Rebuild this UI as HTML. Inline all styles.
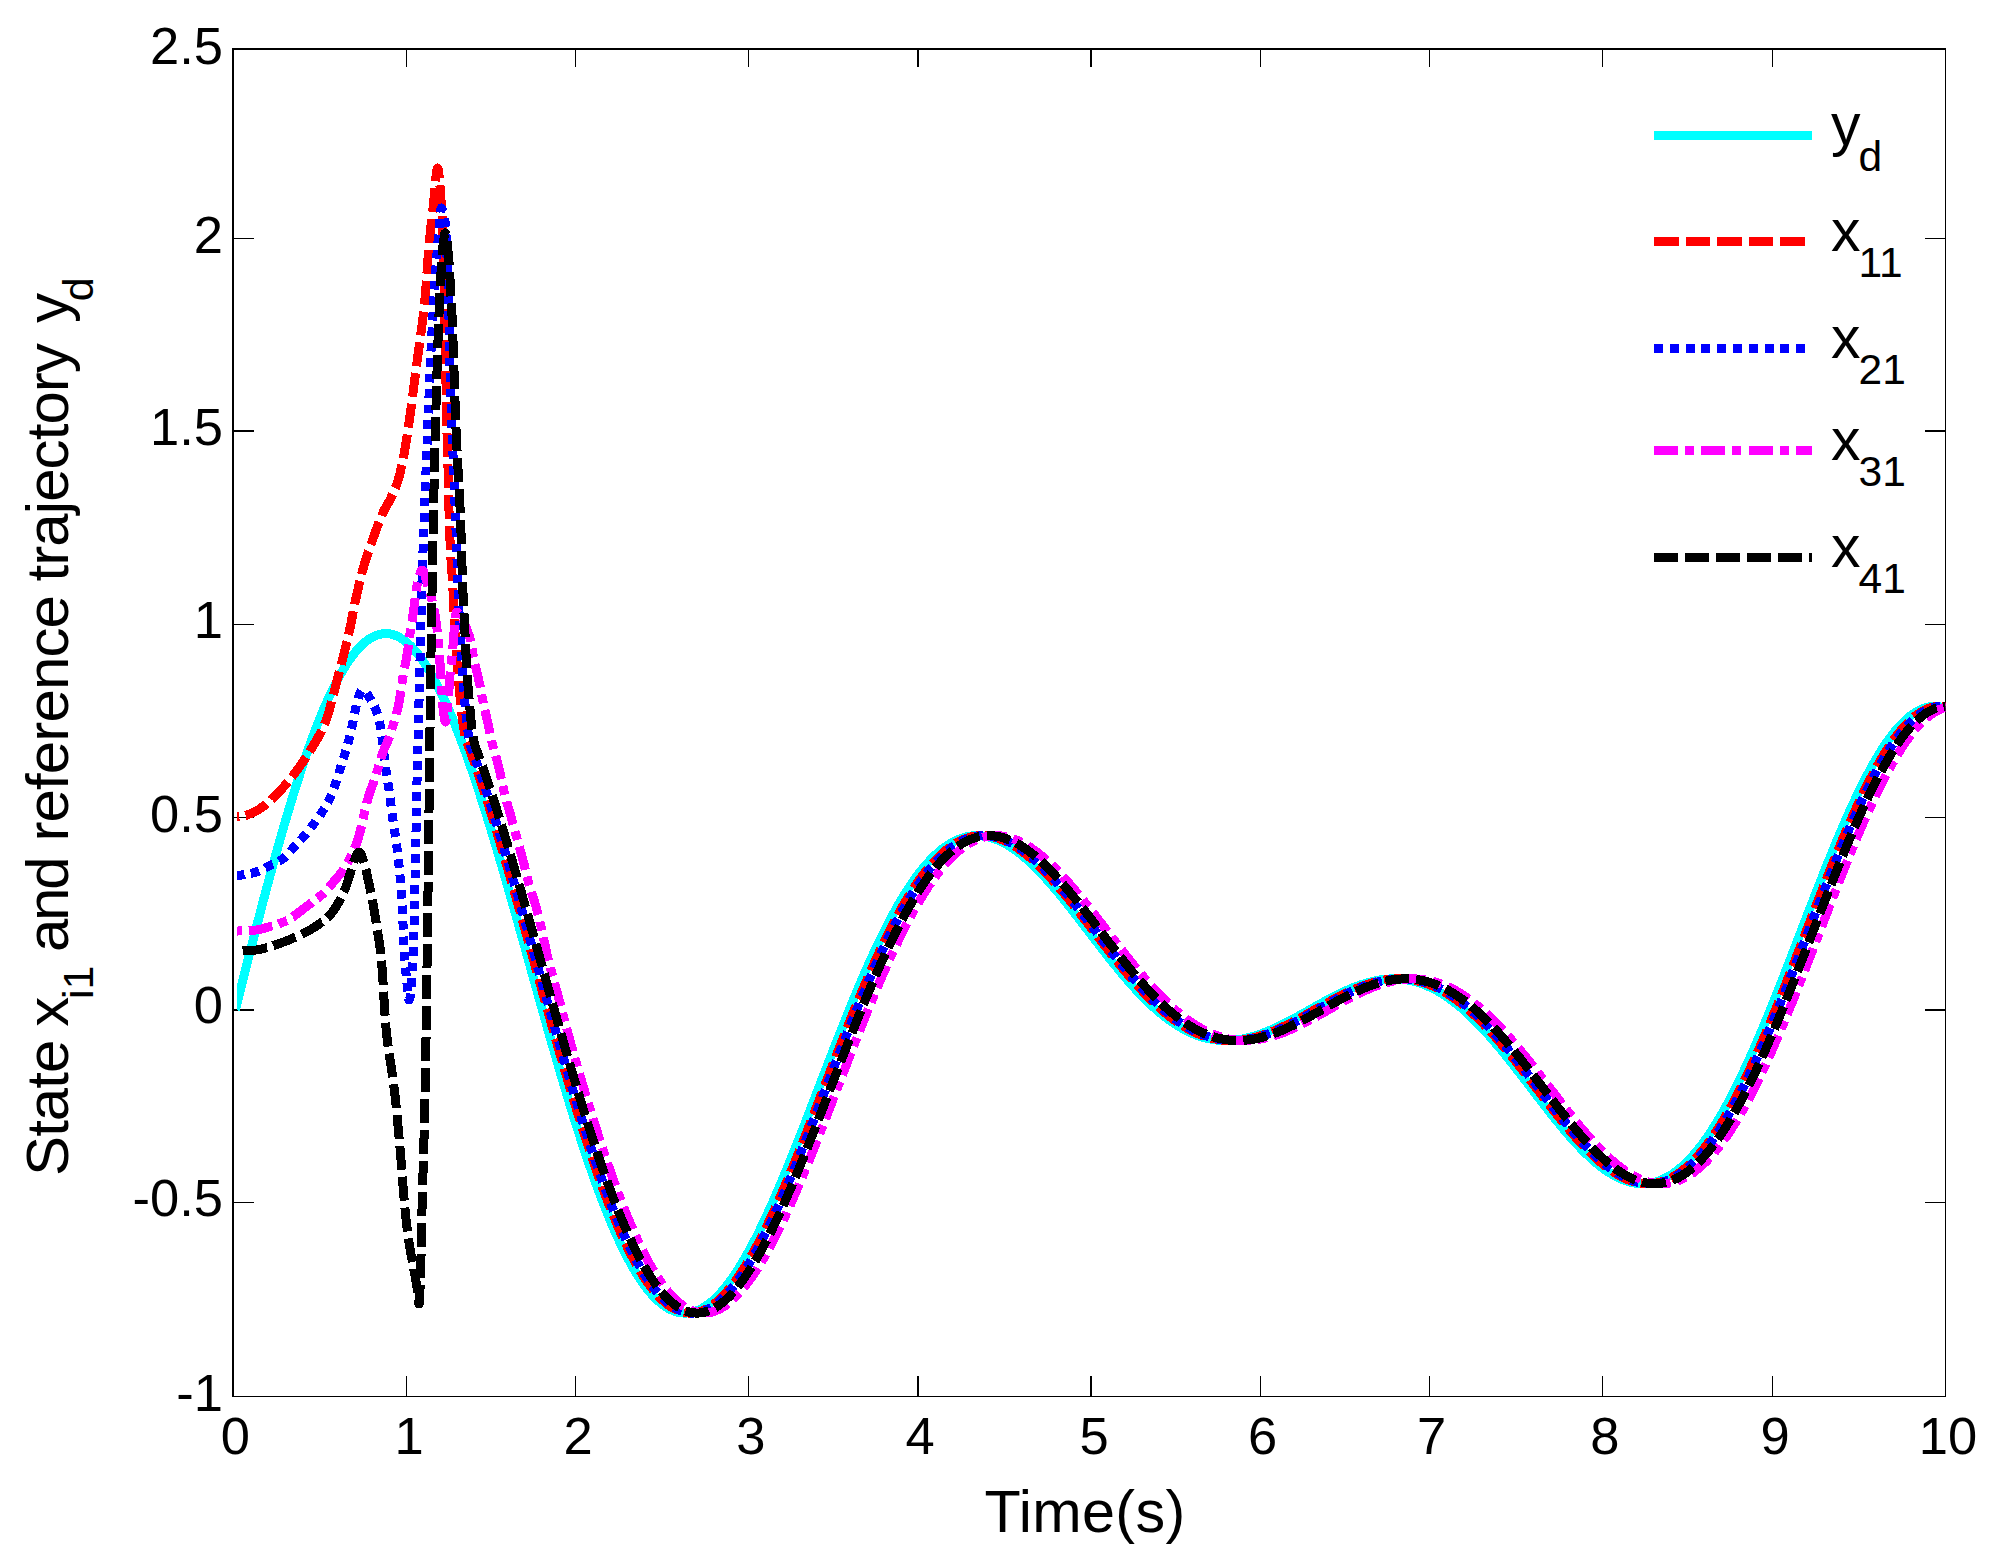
<!DOCTYPE html>
<html><head><meta charset="utf-8"><title>Tracking</title>
<style>html,body{margin:0;padding:0;background:#fff}svg{display:block}</style>
</head><body>
<svg width="1997" height="1558" viewBox="0 0 1997 1558">
<rect width="1997" height="1558" fill="#fff"/>
<defs><clipPath id="clip"><rect x="237" y="40" width="1708.5" height="1370"/></clipPath></defs>
<g fill="#000" shape-rendering="crispEdges">
<rect x="232" y="48" width="2" height="1349"/>
<rect x="232" y="48" width="1714" height="2"/>
<rect x="1945" y="48" width="1" height="1349"/>
<rect x="232" y="1396" width="1714" height="1"/>
<rect x="406" y="1376" width="1" height="20"/>
<rect x="406" y="50" width="1" height="17"/>
<rect x="575" y="1376" width="1" height="20"/>
<rect x="575" y="50" width="1" height="17"/>
<rect x="748" y="1376" width="1" height="20"/>
<rect x="748" y="50" width="1" height="17"/>
<rect x="917" y="1376" width="2" height="20"/>
<rect x="917" y="50" width="2" height="17"/>
<rect x="1090" y="1376" width="2" height="20"/>
<rect x="1090" y="50" width="2" height="17"/>
<rect x="1260" y="1376" width="1" height="20"/>
<rect x="1260" y="50" width="1" height="17"/>
<rect x="1429" y="1376" width="1" height="20"/>
<rect x="1429" y="50" width="1" height="17"/>
<rect x="1602" y="1376" width="1" height="20"/>
<rect x="1602" y="50" width="1" height="17"/>
<rect x="1772" y="1376" width="1" height="20"/>
<rect x="1772" y="50" width="1" height="17"/>
<rect x="234" y="238" width="20" height="1"/>
<rect x="1925" y="238" width="20" height="1"/>
<rect x="234" y="430" width="20" height="2"/>
<rect x="1925" y="430" width="20" height="2"/>
<rect x="234" y="624" width="20" height="1"/>
<rect x="1925" y="624" width="20" height="1"/>
<rect x="234" y="817" width="20" height="1"/>
<rect x="1925" y="817" width="20" height="1"/>
<rect x="234" y="1009" width="20" height="2"/>
<rect x="1925" y="1009" width="20" height="2"/>
<rect x="234" y="1202" width="20" height="1"/>
<rect x="1925" y="1202" width="20" height="1"/>
</g>
<g fill="none" stroke-width="9" stroke-linejoin="round" shape-rendering="crispEdges" clip-path="url(#clip)">
<path stroke="#00ffff" d="M235.3 1009.7 L236.3 1005.8 L237.3 1001.8 L238.3 997.9 L239.3 993.9 L240.3 990.0 L241.3 986.0 L242.3 982.1 L243.3 978.2 L244.3 974.2 L245.3 970.3 L246.3 966.4 L247.3 962.5 L248.3 958.6 L249.3 954.7 L250.3 950.8 L251.3 946.9 L252.3 943.0 L253.3 939.1 L254.3 935.2 L255.3 931.4 L256.3 927.5 L257.3 923.7 L258.3 919.8 L259.3 916.0 L260.3 912.2 L261.3 908.4 L262.3 904.6 L263.3 900.8 L264.3 897.0 L265.3 893.3 L266.3 889.5 L267.3 885.8 L268.3 882.1 L269.3 878.4 L270.3 874.7 L271.3 871.0 L272.3 867.4 L273.3 863.7 L274.3 860.1 L275.3 856.5 L276.3 852.9 L277.3 849.3 L278.3 845.8 L279.3 842.2 L280.3 838.7 L281.3 835.2 L282.3 831.7 L283.3 828.3 L284.3 824.8 L285.3 821.4 L286.3 818.0 L287.3 814.6 L288.3 811.3 L289.3 807.9 L290.3 804.6 L291.3 801.3 L292.3 798.1 L293.3 794.8 L294.3 791.6 L295.3 788.4 L296.3 785.2 L297.3 782.1 L298.3 779.0 L299.3 775.9 L300.3 772.8 L301.3 769.8 L302.3 766.7 L303.3 763.7 L304.3 760.8 L305.3 757.8 L306.3 754.9 L307.3 752.1 L308.3 749.2 L309.3 746.4 L310.3 743.6 L311.3 740.8 L312.3 738.1 L313.3 735.4 L314.3 732.7 L315.3 730.1 L316.3 727.4 L317.3 724.9 L318.3 722.3 L319.3 719.8 L320.3 717.3 L321.3 714.8 L322.3 712.4 L323.3 710.0 L324.3 707.7 L325.3 705.3 L326.3 703.1 L327.3 700.8 L328.3 698.6 L329.3 696.4 L330.3 694.2 L331.3 692.1 L332.3 690.0 L333.3 688.0 L334.3 686.0 L335.3 684.0 L336.3 682.0 L337.3 680.1 L338.3 678.3 L339.3 676.4 L340.3 674.6 L341.3 672.9 L342.3 671.1 L343.3 669.4 L344.3 667.8 L345.3 666.2 L346.3 664.6 L347.3 663.1 L348.3 661.6 L349.3 660.1 L350.3 658.7 L351.3 657.3 L352.3 655.9 L353.3 654.6 L354.3 653.4 L355.3 652.1 L356.3 650.9 L357.3 649.8 L358.3 648.7 L359.3 647.6 L360.3 646.5 L361.3 645.5 L362.3 644.6 L363.3 643.7 L364.3 642.8 L365.3 641.9 L366.3 641.1 L367.3 640.4 L368.3 639.7 L369.3 639.0 L370.3 638.3 L371.3 637.7 L372.3 637.2 L373.3 636.7 L374.3 636.2 L375.3 635.7 L376.3 635.3 L377.3 635.0 L378.3 634.7 L379.3 634.4 L380.3 634.2 L381.3 634.0 L382.3 633.8 L383.3 633.7 L384.3 633.6 L385.3 633.6 L386.3 633.6 L387.3 633.6 L388.3 633.7 L389.3 633.8 L390.3 634.0 L391.3 634.2 L392.3 634.5 L393.3 634.7 L394.3 635.1 L395.3 635.4 L396.3 635.8 L397.3 636.3 L398.3 636.8 L399.3 637.3 L400.3 637.8 L401.3 638.5 L402.3 639.1 L403.3 639.8 L404.3 640.5 L405.3 641.3 L406.3 642.1 L407.3 642.9 L408.3 643.8 L409.3 644.7 L410.3 645.6 L411.3 646.6 L412.3 647.7 L413.3 648.7 L414.3 649.8 L415.3 651.0 L416.3 652.2 L417.3 653.4 L418.3 654.6 L419.3 655.9 L420.3 657.2 L421.3 658.6 L422.3 660.0 L423.3 661.4 L424.3 662.9 L425.3 664.4 L426.3 666.0 L427.3 667.6 L428.3 669.2 L429.3 670.8 L430.3 672.5 L431.3 674.2 L432.3 676.0 L433.3 677.8 L434.3 679.6 L435.3 681.5 L436.3 683.4 L437.3 685.3 L438.3 687.2 L439.3 689.2 L440.3 691.3 L441.3 693.3 L442.3 695.4 L443.3 697.5 L444.3 699.7 L445.3 701.9 L446.3 704.1 L447.3 706.3 L448.3 708.6 L449.3 710.9 L450.3 713.2 L451.3 715.6 L452.3 718.0 L453.3 720.4 L454.3 722.9 L455.3 725.3 L456.3 727.8 L457.3 730.4 L458.3 732.9 L459.3 735.5 L460.3 738.1 L461.3 740.8 L462.3 743.5 L463.3 746.2 L464.3 748.9 L465.3 751.6 L466.3 754.4 L467.3 757.2 L468.3 760.0 L469.3 762.9 L470.3 765.7 L471.3 768.6 L472.3 771.5 L473.3 774.5 L474.3 777.4 L475.3 780.4 L476.3 783.4 L477.3 786.4 L478.3 789.5 L479.3 792.5 L480.3 795.6 L481.3 798.7 L482.3 801.8 L483.3 805.0 L484.3 808.1 L485.3 811.3 L486.3 814.5 L487.3 817.7 L488.3 820.9 L489.3 824.2 L490.3 827.5 L491.3 830.7 L492.3 834.0 L493.3 837.3 L494.3 840.7 L495.3 844.0 L496.3 847.4 L497.3 850.7 L498.3 854.1 L499.3 857.5 L500.3 860.9 L501.3 864.3 L502.3 867.7 L503.3 871.2 L504.3 874.6 L505.3 878.1 L506.3 881.5 L507.3 885.0 L508.3 888.5 L509.3 892.0 L510.3 895.5 L511.3 899.0 L512.3 902.6 L513.3 906.1 L514.3 909.6 L515.3 913.2 L516.3 916.7 L517.3 920.3 L518.3 923.8 L519.3 927.4 L520.3 930.9 L521.3 934.5 L522.3 938.1 L523.3 941.7 L524.3 945.2 L525.3 948.8 L526.3 952.4 L527.3 956.0 L528.3 959.6 L529.3 963.2 L530.3 966.7 L531.3 970.3 L532.3 973.9 L533.3 977.5 L534.3 981.1 L535.3 984.7 L536.3 988.2 L537.3 991.8 L538.3 995.4 L539.3 999.0 L540.3 1002.5 L541.3 1006.1 L542.3 1009.6 L543.3 1013.2 L544.3 1016.7 L545.3 1020.3 L546.3 1023.8 L547.3 1027.4 L548.3 1030.9 L549.3 1034.4 L550.3 1037.9 L551.3 1041.4 L552.3 1044.9 L553.3 1048.4 L554.3 1051.8 L555.3 1055.3 L556.3 1058.8 L557.3 1062.2 L558.3 1065.6 L559.3 1069.0 L560.3 1072.5 L561.3 1075.8 L562.3 1079.2 L563.3 1082.6 L564.3 1086.0 L565.3 1089.3 L566.3 1092.6 L567.3 1096.0 L568.3 1099.3 L569.3 1102.5 L570.3 1105.8 L571.3 1109.1 L572.3 1112.3 L573.3 1115.5 L574.3 1118.8 L575.3 1121.9 L576.3 1125.1 L577.3 1128.3 L578.3 1131.4 L579.3 1134.5 L580.3 1137.6 L581.3 1140.7 L582.3 1143.8 L583.3 1146.8 L584.3 1149.9 L585.3 1152.9 L586.3 1155.9 L587.3 1158.8 L588.3 1161.8 L589.3 1164.7 L590.3 1167.6 L591.3 1170.5 L592.3 1173.3 L593.3 1176.2 L594.3 1179.0 L595.3 1181.8 L596.3 1184.5 L597.3 1187.3 L598.3 1190.0 L599.3 1192.7 L600.3 1195.3 L601.3 1198.0 L602.3 1200.6 L603.3 1203.2 L604.3 1205.8 L605.3 1208.3 L606.3 1210.8 L607.3 1213.3 L608.3 1215.8 L609.3 1218.2 L610.3 1220.6 L611.3 1223.0 L612.3 1225.4 L613.3 1227.7 L614.3 1230.0 L615.3 1232.3 L616.3 1234.5 L617.3 1236.7 L618.3 1238.9 L619.3 1241.1 L620.3 1243.2 L621.3 1245.3 L622.3 1247.4 L623.3 1249.4 L624.3 1251.4 L625.3 1253.4 L626.3 1255.3 L627.3 1257.3 L628.3 1259.2 L629.3 1261.0 L630.3 1262.8 L631.3 1264.6 L632.3 1266.4 L633.3 1268.1 L634.3 1269.9 L635.3 1271.5 L636.3 1273.2 L637.3 1274.8 L638.3 1276.3 L639.3 1277.9 L640.3 1279.4 L641.3 1280.9 L642.3 1282.3 L643.3 1283.8 L644.3 1285.1 L645.3 1286.5 L646.3 1287.8 L647.3 1289.1 L648.3 1290.3 L649.3 1291.6 L650.3 1292.7 L651.3 1293.9 L652.3 1295.0 L653.3 1296.1 L654.3 1297.2 L655.3 1298.2 L656.3 1299.2 L657.3 1300.1 L658.3 1301.0 L659.3 1301.9 L660.3 1302.8 L661.3 1303.6 L662.3 1304.4 L663.3 1305.1 L664.3 1305.8 L665.3 1306.5 L666.3 1307.2 L667.3 1307.8 L668.3 1308.4 L669.3 1308.9 L670.3 1309.4 L671.3 1309.9 L672.3 1310.3 L673.3 1310.7 L674.3 1311.1 L675.3 1311.5 L676.3 1311.8 L677.3 1312.1 L678.3 1312.3 L679.3 1312.5 L680.3 1312.7 L681.3 1312.8 L682.3 1312.9 L683.3 1313.0 L684.3 1313.1 L685.3 1313.1 L686.3 1313.0 L687.3 1313.0 L688.3 1312.9 L689.3 1312.8 L690.3 1312.6 L691.3 1312.4 L692.3 1312.2 L693.3 1312.0 L694.3 1311.7 L695.3 1311.4 L696.3 1311.0 L697.3 1310.6 L698.3 1310.2 L699.3 1309.8 L700.3 1309.3 L701.3 1308.8 L702.3 1308.2 L703.3 1307.7 L704.3 1307.0 L705.3 1306.4 L706.3 1305.7 L707.3 1305.0 L708.3 1304.3 L709.3 1303.6 L710.3 1302.8 L711.3 1302.0 L712.3 1301.1 L713.3 1300.2 L714.3 1299.3 L715.3 1298.4 L716.3 1297.4 L717.3 1296.4 L718.3 1295.4 L719.3 1294.3 L720.3 1293.2 L721.3 1292.1 L722.3 1291.0 L723.3 1289.8 L724.3 1288.6 L725.3 1287.4 L726.3 1286.2 L727.3 1284.9 L728.3 1283.6 L729.3 1282.2 L730.3 1280.9 L731.3 1279.5 L732.3 1278.1 L733.3 1276.6 L734.3 1275.2 L735.3 1273.7 L736.3 1272.2 L737.3 1270.6 L738.3 1269.1 L739.3 1267.5 L740.3 1265.9 L741.3 1264.2 L742.3 1262.6 L743.3 1260.9 L744.3 1259.2 L745.3 1257.5 L746.3 1255.7 L747.3 1253.9 L748.3 1252.1 L749.3 1250.3 L750.3 1248.5 L751.3 1246.6 L752.3 1244.7 L753.3 1242.8 L754.3 1240.9 L755.3 1239.0 L756.3 1237.0 L757.3 1235.0 L758.3 1233.0 L759.3 1231.0 L760.3 1229.0 L761.3 1226.9 L762.3 1224.8 L763.3 1222.7 L764.3 1220.6 L765.3 1218.5 L766.3 1216.3 L767.3 1214.2 L768.3 1212.0 L769.3 1209.8 L770.3 1207.6 L771.3 1205.4 L772.3 1203.1 L773.3 1200.9 L774.3 1198.6 L775.3 1196.3 L776.3 1194.0 L777.3 1191.7 L778.3 1189.4 L779.3 1187.0 L780.3 1184.7 L781.3 1182.3 L782.3 1179.9 L783.3 1177.5 L784.3 1175.1 L785.3 1172.7 L786.3 1170.3 L787.3 1167.9 L788.3 1165.4 L789.3 1163.0 L790.3 1160.5 L791.3 1158.0 L792.3 1155.5 L793.3 1153.1 L794.3 1150.6 L795.3 1148.0 L796.3 1145.5 L797.3 1143.0 L798.3 1140.5 L799.3 1137.9 L800.3 1135.4 L801.3 1132.9 L802.3 1130.3 L803.3 1127.7 L804.3 1125.2 L805.3 1122.6 L806.3 1120.0 L807.3 1117.5 L808.3 1114.9 L809.3 1112.3 L810.3 1109.7 L811.3 1107.1 L812.3 1104.5 L813.3 1101.9 L814.3 1099.3 L815.3 1096.7 L816.3 1094.1 L817.3 1091.5 L818.3 1088.9 L819.3 1086.3 L820.3 1083.7 L821.3 1081.1 L822.3 1078.6 L823.3 1076.0 L824.3 1073.4 L825.3 1070.8 L826.3 1068.2 L827.3 1065.6 L828.3 1063.0 L829.3 1060.4 L830.3 1057.8 L831.3 1055.2 L832.3 1052.7 L833.3 1050.1 L834.3 1047.5 L835.3 1045.0 L836.3 1042.4 L837.3 1039.9 L838.3 1037.3 L839.3 1034.8 L840.3 1032.2 L841.3 1029.7 L842.3 1027.2 L843.3 1024.7 L844.3 1022.2 L845.3 1019.7 L846.3 1017.2 L847.3 1014.7 L848.3 1012.2 L849.3 1009.8 L850.3 1007.3 L851.3 1004.9 L852.3 1002.4 L853.3 1000.0 L854.3 997.6 L855.3 995.2 L856.3 992.8 L857.3 990.4 L858.3 988.0 L859.3 985.7 L860.3 983.3 L861.3 981.0 L862.3 978.6 L863.3 976.3 L864.3 974.0 L865.3 971.7 L866.3 969.5 L867.3 967.2 L868.3 965.0 L869.3 962.7 L870.3 960.5 L871.3 958.3 L872.3 956.1 L873.3 953.9 L874.3 951.8 L875.3 949.6 L876.3 947.5 L877.3 945.4 L878.3 943.3 L879.3 941.2 L880.3 939.1 L881.3 937.1 L882.3 935.0 L883.3 933.0 L884.3 931.0 L885.3 929.0 L886.3 927.0 L887.3 925.1 L888.3 923.2 L889.3 921.2 L890.3 919.4 L891.3 917.5 L892.3 915.6 L893.3 913.8 L894.3 912.0 L895.3 910.2 L896.3 908.4 L897.3 906.6 L898.3 904.9 L899.3 903.1 L900.3 901.4 L901.3 899.7 L902.3 898.1 L903.3 896.4 L904.3 894.8 L905.3 893.2 L906.3 891.6 L907.3 890.0 L908.3 888.5 L909.3 887.0 L910.3 885.5 L911.3 884.0 L912.3 882.5 L913.3 881.1 L914.3 879.7 L915.3 878.3 L916.3 876.9 L917.3 875.6 L918.3 874.2 L919.3 872.9 L920.3 871.6 L921.3 870.4 L922.3 869.1 L923.3 867.9 L924.3 866.7 L925.3 865.5 L926.3 864.4 L927.3 863.3 L928.3 862.1 L929.3 861.1 L930.3 860.0 L931.3 859.0 L932.3 857.9 L933.3 856.9 L934.3 856.0 L935.3 855.0 L936.3 854.1 L937.3 853.2 L938.3 852.3 L939.3 851.5 L940.3 850.6 L941.3 849.8 L942.3 849.0 L943.3 848.2 L944.3 847.5 L945.3 846.8 L946.3 846.1 L947.3 845.4 L948.3 844.8 L949.3 844.1 L950.3 843.5 L951.3 842.9 L952.3 842.4 L953.3 841.8 L954.3 841.3 L955.3 840.8 L956.3 840.4 L957.3 839.9 L958.3 839.5 L959.3 839.1 L960.3 838.7 L961.3 838.4 L962.3 838.0 L963.3 837.7 L964.3 837.4 L965.3 837.2 L966.3 836.9 L967.3 836.7 L968.3 836.5 L969.3 836.3 L970.3 836.1 L971.3 836.0 L972.3 835.9 L973.3 835.8 L974.3 835.7 L975.3 835.7 L976.3 835.7 L977.3 835.7 L978.3 835.7 L979.3 835.7 L980.3 835.8 L981.3 835.9 L982.3 836.0 L983.3 836.1 L984.3 836.2 L985.3 836.4 L986.3 836.6 L987.3 836.8 L988.3 837.0 L989.3 837.2 L990.3 837.5 L991.3 837.8 L992.3 838.1 L993.3 838.4 L994.3 838.7 L995.3 839.1 L996.3 839.5 L997.3 839.9 L998.3 840.3 L999.3 840.7 L1000.3 841.2 L1001.3 841.6 L1002.3 842.1 L1003.3 842.6 L1004.3 843.2 L1005.3 843.7 L1006.3 844.3 L1007.3 844.8 L1008.3 845.4 L1009.3 846.0 L1010.3 846.7 L1011.3 847.3 L1012.3 848.0 L1013.3 848.7 L1014.3 849.3 L1015.3 850.1 L1016.3 850.8 L1017.3 851.5 L1018.3 852.3 L1019.3 853.1 L1020.3 853.8 L1021.3 854.6 L1022.3 855.5 L1023.3 856.3 L1024.3 857.1 L1025.3 858.0 L1026.3 858.9 L1027.3 859.7 L1028.3 860.6 L1029.3 861.6 L1030.3 862.5 L1031.3 863.4 L1032.3 864.4 L1033.3 865.3 L1034.3 866.3 L1035.3 867.3 L1036.3 868.3 L1037.3 869.3 L1038.3 870.3 L1039.3 871.4 L1040.3 872.4 L1041.3 873.5 L1042.3 874.5 L1043.3 875.6 L1044.3 876.7 L1045.3 877.8 L1046.3 878.9 L1047.3 880.0 L1048.3 881.1 L1049.3 882.3 L1050.3 883.4 L1051.3 884.5 L1052.3 885.7 L1053.3 886.9 L1054.3 888.0 L1055.3 889.2 L1056.3 890.4 L1057.3 891.6 L1058.3 892.8 L1059.3 894.0 L1060.3 895.2 L1061.3 896.5 L1062.3 897.7 L1063.3 898.9 L1064.3 900.2 L1065.3 901.4 L1066.3 902.7 L1067.3 903.9 L1068.3 905.2 L1069.3 906.4 L1070.3 907.7 L1071.3 909.0 L1072.3 910.3 L1073.3 911.5 L1074.3 912.8 L1075.3 914.1 L1076.3 915.4 L1077.3 916.7 L1078.3 918.0 L1079.3 919.3 L1080.3 920.6 L1081.3 921.9 L1082.3 923.2 L1083.3 924.5 L1084.3 925.8 L1085.3 927.1 L1086.3 928.4 L1087.3 929.7 L1088.3 931.0 L1089.3 932.3 L1090.3 933.6 L1091.3 934.9 L1092.3 936.2 L1093.3 937.5 L1094.3 938.8 L1095.3 940.1 L1096.3 941.4 L1097.3 942.7 L1098.3 944.0 L1099.3 945.3 L1100.3 946.6 L1101.3 947.9 L1102.3 949.2 L1103.3 950.5 L1104.3 951.8 L1105.3 953.0 L1106.3 954.3 L1107.3 955.6 L1108.3 956.8 L1109.3 958.1 L1110.3 959.4 L1111.3 960.6 L1112.3 961.9 L1113.3 963.1 L1114.3 964.4 L1115.3 965.6 L1116.3 966.8 L1117.3 968.0 L1118.3 969.3 L1119.3 970.5 L1120.3 971.7 L1121.3 972.9 L1122.3 974.1 L1123.3 975.2 L1124.3 976.4 L1125.3 977.6 L1126.3 978.8 L1127.3 979.9 L1128.3 981.1 L1129.3 982.2 L1130.3 983.4 L1131.3 984.5 L1132.3 985.6 L1133.3 986.7 L1134.3 987.8 L1135.3 988.9 L1136.3 990.0 L1137.3 991.1 L1138.3 992.1 L1139.3 993.2 L1140.3 994.2 L1141.3 995.3 L1142.3 996.3 L1143.3 997.3 L1144.3 998.3 L1145.3 999.3 L1146.3 1000.3 L1147.3 1001.3 L1148.3 1002.3 L1149.3 1003.2 L1150.3 1004.2 L1151.3 1005.1 L1152.3 1006.1 L1153.3 1007.0 L1154.3 1007.9 L1155.3 1008.8 L1156.3 1009.7 L1157.3 1010.5 L1158.3 1011.4 L1159.3 1012.2 L1160.3 1013.1 L1161.3 1013.9 L1162.3 1014.7 L1163.3 1015.5 L1164.3 1016.3 L1165.3 1017.1 L1166.3 1017.9 L1167.3 1018.6 L1168.3 1019.4 L1169.3 1020.1 L1170.3 1020.8 L1171.3 1021.5 L1172.3 1022.2 L1173.3 1022.9 L1174.3 1023.6 L1175.3 1024.2 L1176.3 1024.9 L1177.3 1025.5 L1178.3 1026.1 L1179.3 1026.7 L1180.3 1027.3 L1181.3 1027.9 L1182.3 1028.5 L1183.3 1029.0 L1184.3 1029.6 L1185.3 1030.1 L1186.3 1030.6 L1187.3 1031.1 L1188.3 1031.6 L1189.3 1032.1 L1190.3 1032.5 L1191.3 1033.0 L1192.3 1033.4 L1193.3 1033.8 L1194.3 1034.2 L1195.3 1034.6 L1196.3 1035.0 L1197.3 1035.4 L1198.3 1035.8 L1199.3 1036.1 L1200.3 1036.4 L1201.3 1036.8 L1202.3 1037.1 L1203.3 1037.3 L1204.3 1037.6 L1205.3 1037.9 L1206.3 1038.1 L1207.3 1038.4 L1208.3 1038.6 L1209.3 1038.8 L1210.3 1039.0 L1211.3 1039.2 L1212.3 1039.4 L1213.3 1039.6 L1214.3 1039.7 L1215.3 1039.8 L1216.3 1040.0 L1217.3 1040.1 L1218.3 1040.2 L1219.3 1040.3 L1220.3 1040.3 L1221.3 1040.4 L1222.3 1040.5 L1223.3 1040.5 L1224.3 1040.5 L1225.3 1040.5 L1226.3 1040.5 L1227.3 1040.5 L1228.3 1040.5 L1229.3 1040.5 L1230.3 1040.4 L1231.3 1040.4 L1232.3 1040.3 L1233.3 1040.2 L1234.3 1040.1 L1235.3 1040.0 L1236.3 1039.9 L1237.3 1039.8 L1238.3 1039.6 L1239.3 1039.5 L1240.3 1039.3 L1241.3 1039.2 L1242.3 1039.0 L1243.3 1038.8 L1244.3 1038.6 L1245.3 1038.4 L1246.3 1038.2 L1247.3 1037.9 L1248.3 1037.7 L1249.3 1037.5 L1250.3 1037.2 L1251.3 1036.9 L1252.3 1036.6 L1253.3 1036.4 L1254.3 1036.1 L1255.3 1035.8 L1256.3 1035.4 L1257.3 1035.1 L1258.3 1034.8 L1259.3 1034.4 L1260.3 1034.1 L1261.3 1033.7 L1262.3 1033.4 L1263.3 1033.0 L1264.3 1032.6 L1265.3 1032.2 L1266.3 1031.8 L1267.3 1031.4 L1268.3 1031.0 L1269.3 1030.6 L1270.3 1030.2 L1271.3 1029.8 L1272.3 1029.3 L1273.3 1028.9 L1274.3 1028.4 L1275.3 1028.0 L1276.3 1027.5 L1277.3 1027.0 L1278.3 1026.6 L1279.3 1026.1 L1280.3 1025.6 L1281.3 1025.1 L1282.3 1024.6 L1283.3 1024.1 L1284.3 1023.6 L1285.3 1023.1 L1286.3 1022.6 L1287.3 1022.1 L1288.3 1021.6 L1289.3 1021.0 L1290.3 1020.5 L1291.3 1020.0 L1292.3 1019.4 L1293.3 1018.9 L1294.3 1018.4 L1295.3 1017.8 L1296.3 1017.3 L1297.3 1016.7 L1298.3 1016.2 L1299.3 1015.6 L1300.3 1015.1 L1301.3 1014.5 L1302.3 1013.9 L1303.3 1013.4 L1304.3 1012.8 L1305.3 1012.3 L1306.3 1011.7 L1307.3 1011.1 L1308.3 1010.6 L1309.3 1010.0 L1310.3 1009.4 L1311.3 1008.9 L1312.3 1008.3 L1313.3 1007.8 L1314.3 1007.2 L1315.3 1006.6 L1316.3 1006.1 L1317.3 1005.5 L1318.3 1005.0 L1319.3 1004.4 L1320.3 1003.8 L1321.3 1003.3 L1322.3 1002.7 L1323.3 1002.2 L1324.3 1001.6 L1325.3 1001.1 L1326.3 1000.6 L1327.3 1000.0 L1328.3 999.5 L1329.3 999.0 L1330.3 998.4 L1331.3 997.9 L1332.3 997.4 L1333.3 996.9 L1334.3 996.4 L1335.3 995.8 L1336.3 995.3 L1337.3 994.8 L1338.3 994.3 L1339.3 993.9 L1340.3 993.4 L1341.3 992.9 L1342.3 992.4 L1343.3 991.9 L1344.3 991.5 L1345.3 991.0 L1346.3 990.6 L1347.3 990.1 L1348.3 989.7 L1349.3 989.3 L1350.3 988.8 L1351.3 988.4 L1352.3 988.0 L1353.3 987.6 L1354.3 987.2 L1355.3 986.8 L1356.3 986.4 L1357.3 986.1 L1358.3 985.7 L1359.3 985.3 L1360.3 985.0 L1361.3 984.6 L1362.3 984.3 L1363.3 984.0 L1364.3 983.7 L1365.3 983.4 L1366.3 983.1 L1367.3 982.8 L1368.3 982.5 L1369.3 982.2 L1370.3 982.0 L1371.3 981.7 L1372.3 981.5 L1373.3 981.3 L1374.3 981.0 L1375.3 980.8 L1376.3 980.6 L1377.3 980.4 L1378.3 980.2 L1379.3 980.1 L1380.3 979.9 L1381.3 979.8 L1382.3 979.6 L1383.3 979.5 L1384.3 979.4 L1385.3 979.3 L1386.3 979.2 L1387.3 979.1 L1388.3 979.0 L1389.3 979.0 L1390.3 978.9 L1391.3 978.9 L1392.3 978.9 L1393.3 978.9 L1394.3 978.9 L1395.3 978.9 L1396.3 978.9 L1397.3 978.9 L1398.3 979.0 L1399.3 979.1 L1400.3 979.1 L1401.3 979.2 L1402.3 979.3 L1403.3 979.4 L1404.3 979.5 L1405.3 979.7 L1406.3 979.8 L1407.3 980.0 L1408.3 980.2 L1409.3 980.4 L1410.3 980.6 L1411.3 980.8 L1412.3 981.0 L1413.3 981.2 L1414.3 981.5 L1415.3 981.7 L1416.3 982.0 L1417.3 982.3 L1418.3 982.6 L1419.3 982.9 L1420.3 983.3 L1421.3 983.6 L1422.3 984.0 L1423.3 984.3 L1424.3 984.7 L1425.3 985.1 L1426.3 985.5 L1427.3 985.9 L1428.3 986.4 L1429.3 986.8 L1430.3 987.3 L1431.3 987.8 L1432.3 988.2 L1433.3 988.7 L1434.3 989.3 L1435.3 989.8 L1436.3 990.3 L1437.3 990.9 L1438.3 991.4 L1439.3 992.0 L1440.3 992.6 L1441.3 993.2 L1442.3 993.8 L1443.3 994.5 L1444.3 995.1 L1445.3 995.8 L1446.3 996.4 L1447.3 997.1 L1448.3 997.8 L1449.3 998.5 L1450.3 999.2 L1451.3 1000.0 L1452.3 1000.7 L1453.3 1001.5 L1454.3 1002.2 L1455.3 1003.0 L1456.3 1003.8 L1457.3 1004.6 L1458.3 1005.4 L1459.3 1006.2 L1460.3 1007.1 L1461.3 1007.9 L1462.3 1008.8 L1463.3 1009.6 L1464.3 1010.5 L1465.3 1011.4 L1466.3 1012.3 L1467.3 1013.2 L1468.3 1014.2 L1469.3 1015.1 L1470.3 1016.1 L1471.3 1017.0 L1472.3 1018.0 L1473.3 1019.0 L1474.3 1020.0 L1475.3 1021.0 L1476.3 1022.0 L1477.3 1023.0 L1478.3 1024.0 L1479.3 1025.1 L1480.3 1026.1 L1481.3 1027.2 L1482.3 1028.2 L1483.3 1029.3 L1484.3 1030.4 L1485.3 1031.5 L1486.3 1032.6 L1487.3 1033.7 L1488.3 1034.8 L1489.3 1035.9 L1490.3 1037.1 L1491.3 1038.2 L1492.3 1039.4 L1493.3 1040.5 L1494.3 1041.7 L1495.3 1042.9 L1496.3 1044.0 L1497.3 1045.2 L1498.3 1046.4 L1499.3 1047.6 L1500.3 1048.8 L1501.3 1050.0 L1502.3 1051.2 L1503.3 1052.5 L1504.3 1053.7 L1505.3 1054.9 L1506.3 1056.2 L1507.3 1057.4 L1508.3 1058.7 L1509.3 1059.9 L1510.3 1061.2 L1511.3 1062.4 L1512.3 1063.7 L1513.3 1065.0 L1514.3 1066.2 L1515.3 1067.5 L1516.3 1068.8 L1517.3 1070.1 L1518.3 1071.4 L1519.3 1072.7 L1520.3 1074.0 L1521.3 1075.2 L1522.3 1076.5 L1523.3 1077.8 L1524.3 1079.1 L1525.3 1080.4 L1526.3 1081.7 L1527.3 1083.0 L1528.3 1084.4 L1529.3 1085.7 L1530.3 1087.0 L1531.3 1088.3 L1532.3 1089.6 L1533.3 1090.9 L1534.3 1092.2 L1535.3 1093.5 L1536.3 1094.8 L1537.3 1096.1 L1538.3 1097.4 L1539.3 1098.7 L1540.3 1100.0 L1541.3 1101.3 L1542.3 1102.6 L1543.3 1103.9 L1544.3 1105.2 L1545.3 1106.5 L1546.3 1107.7 L1547.3 1109.0 L1548.3 1110.3 L1549.3 1111.6 L1550.3 1112.8 L1551.3 1114.1 L1552.3 1115.4 L1553.3 1116.6 L1554.3 1117.9 L1555.3 1119.1 L1556.3 1120.4 L1557.3 1121.6 L1558.3 1122.8 L1559.3 1124.0 L1560.3 1125.3 L1561.3 1126.5 L1562.3 1127.7 L1563.3 1128.9 L1564.3 1130.1 L1565.3 1131.2 L1566.3 1132.4 L1567.3 1133.6 L1568.3 1134.7 L1569.3 1135.9 L1570.3 1137.0 L1571.3 1138.2 L1572.3 1139.3 L1573.3 1140.4 L1574.3 1141.5 L1575.3 1142.6 L1576.3 1143.7 L1577.3 1144.8 L1578.3 1145.8 L1579.3 1146.9 L1580.3 1147.9 L1581.3 1149.0 L1582.3 1150.0 L1583.3 1151.0 L1584.3 1152.0 L1585.3 1153.0 L1586.3 1154.0 L1587.3 1154.9 L1588.3 1155.9 L1589.3 1156.8 L1590.3 1157.7 L1591.3 1158.7 L1592.3 1159.6 L1593.3 1160.4 L1594.3 1161.3 L1595.3 1162.2 L1596.3 1163.0 L1597.3 1163.9 L1598.3 1164.7 L1599.3 1165.5 L1600.3 1166.3 L1601.3 1167.0 L1602.3 1167.8 L1603.3 1168.5 L1604.3 1169.3 L1605.3 1170.0 L1606.3 1170.7 L1607.3 1171.4 L1608.3 1172.0 L1609.3 1172.7 L1610.3 1173.3 L1611.3 1173.9 L1612.3 1174.5 L1613.3 1175.1 L1614.3 1175.6 L1615.3 1176.2 L1616.3 1176.7 L1617.3 1177.2 L1618.3 1177.7 L1619.3 1178.2 L1620.3 1178.6 L1621.3 1179.1 L1622.3 1179.5 L1623.3 1179.9 L1624.3 1180.3 L1625.3 1180.6 L1626.3 1181.0 L1627.3 1181.3 L1628.3 1181.6 L1629.3 1181.9 L1630.3 1182.2 L1631.3 1182.4 L1632.3 1182.6 L1633.3 1182.8 L1634.3 1183.0 L1635.3 1183.2 L1636.3 1183.3 L1637.3 1183.4 L1638.3 1183.5 L1639.3 1183.6 L1640.3 1183.7 L1641.3 1183.7 L1642.3 1183.7 L1643.3 1183.7 L1644.3 1183.7 L1645.3 1183.7 L1646.3 1183.6 L1647.3 1183.5 L1648.3 1183.4 L1649.3 1183.3 L1650.3 1183.1 L1651.3 1182.9 L1652.3 1182.7 L1653.3 1182.5 L1654.3 1182.3 L1655.3 1182.0 L1656.3 1181.7 L1657.3 1181.4 L1658.3 1181.1 L1659.3 1180.7 L1660.3 1180.3 L1661.3 1179.9 L1662.3 1179.5 L1663.3 1179.1 L1664.3 1178.6 L1665.3 1178.1 L1666.3 1177.6 L1667.3 1177.1 L1668.3 1176.5 L1669.3 1175.9 L1670.3 1175.3 L1671.3 1174.7 L1672.3 1174.1 L1673.3 1173.4 L1674.3 1172.7 L1675.3 1172.0 L1676.3 1171.2 L1677.3 1170.5 L1678.3 1169.7 L1679.3 1168.9 L1680.3 1168.0 L1681.3 1167.2 L1682.3 1166.3 L1683.3 1165.4 L1684.3 1164.5 L1685.3 1163.5 L1686.3 1162.6 L1687.3 1161.6 L1688.3 1160.5 L1689.3 1159.5 L1690.3 1158.4 L1691.3 1157.4 L1692.3 1156.3 L1693.3 1155.1 L1694.3 1154.0 L1695.3 1152.8 L1696.3 1151.6 L1697.3 1150.4 L1698.3 1149.2 L1699.3 1147.9 L1700.3 1146.6 L1701.3 1145.3 L1702.3 1144.0 L1703.3 1142.6 L1704.3 1141.2 L1705.3 1139.9 L1706.3 1138.4 L1707.3 1137.0 L1708.3 1135.5 L1709.3 1134.1 L1710.3 1132.6 L1711.3 1131.0 L1712.3 1129.5 L1713.3 1127.9 L1714.3 1126.4 L1715.3 1124.8 L1716.3 1123.1 L1717.3 1121.5 L1718.3 1119.8 L1719.3 1118.1 L1720.3 1116.4 L1721.3 1114.7 L1722.3 1113.0 L1723.3 1111.2 L1724.3 1109.4 L1725.3 1107.6 L1726.3 1105.8 L1727.3 1104.0 L1728.3 1102.1 L1729.3 1100.2 L1730.3 1098.3 L1731.3 1096.4 L1732.3 1094.5 L1733.3 1092.6 L1734.3 1090.6 L1735.3 1088.6 L1736.3 1086.6 L1737.3 1084.6 L1738.3 1082.6 L1739.3 1080.5 L1740.3 1078.4 L1741.3 1076.4 L1742.3 1074.3 L1743.3 1072.1 L1744.3 1070.0 L1745.3 1067.9 L1746.3 1065.7 L1747.3 1063.5 L1748.3 1061.3 L1749.3 1059.1 L1750.3 1056.9 L1751.3 1054.7 L1752.3 1052.4 L1753.3 1050.2 L1754.3 1047.9 L1755.3 1045.6 L1756.3 1043.3 L1757.3 1041.0 L1758.3 1038.7 L1759.3 1036.3 L1760.3 1034.0 L1761.3 1031.6 L1762.3 1029.2 L1763.3 1026.9 L1764.3 1024.5 L1765.3 1022.1 L1766.3 1019.6 L1767.3 1017.2 L1768.3 1014.8 L1769.3 1012.3 L1770.3 1009.9 L1771.3 1007.4 L1772.3 1004.9 L1773.3 1002.5 L1774.3 1000.0 L1775.3 997.5 L1776.3 995.0 L1777.3 992.5 L1778.3 989.9 L1779.3 987.4 L1780.3 984.9 L1781.3 982.3 L1782.3 979.8 L1783.3 977.2 L1784.3 974.7 L1785.3 972.1 L1786.3 969.6 L1787.3 967.0 L1788.3 964.4 L1789.3 961.8 L1790.3 959.3 L1791.3 956.7 L1792.3 954.1 L1793.3 951.5 L1794.3 948.9 L1795.3 946.3 L1796.3 943.7 L1797.3 941.1 L1798.3 938.5 L1799.3 935.9 L1800.3 933.3 L1801.3 930.7 L1802.3 928.1 L1803.3 925.5 L1804.3 922.9 L1805.3 920.3 L1806.3 917.7 L1807.3 915.1 L1808.3 912.5 L1809.3 909.9 L1810.3 907.4 L1811.3 904.8 L1812.3 902.2 L1813.3 899.6 L1814.3 897.0 L1815.3 894.5 L1816.3 891.9 L1817.3 889.4 L1818.3 886.8 L1819.3 884.3 L1820.3 881.7 L1821.3 879.2 L1822.3 876.6 L1823.3 874.1 L1824.3 871.6 L1825.3 869.1 L1826.3 866.6 L1827.3 864.1 L1828.3 861.6 L1829.3 859.2 L1830.3 856.7 L1831.3 854.2 L1832.3 851.8 L1833.3 849.4 L1834.3 846.9 L1835.3 844.5 L1836.3 842.1 L1837.3 839.7 L1838.3 837.3 L1839.3 835.0 L1840.3 832.6 L1841.3 830.3 L1842.3 827.9 L1843.3 825.6 L1844.3 823.3 L1845.3 821.0 L1846.3 818.8 L1847.3 816.5 L1848.3 814.3 L1849.3 812.0 L1850.3 809.8 L1851.3 807.6 L1852.3 805.4 L1853.3 803.3 L1854.3 801.1 L1855.3 799.0 L1856.3 796.9 L1857.3 794.8 L1858.3 792.7 L1859.3 790.6 L1860.3 788.6 L1861.3 786.6 L1862.3 784.6 L1863.3 782.6 L1864.3 780.6 L1865.3 778.7 L1866.3 776.7 L1867.3 774.8 L1868.3 773.0 L1869.3 771.1 L1870.3 769.3 L1871.3 767.4 L1872.3 765.6 L1873.3 763.9 L1874.3 762.1 L1875.3 760.4 L1876.3 758.7 L1877.3 757.0 L1878.3 755.3 L1879.3 753.7 L1880.3 752.1 L1881.3 750.5 L1882.3 748.9 L1883.3 747.4 L1884.3 745.9 L1885.3 744.4 L1886.3 742.9 L1887.3 741.5 L1888.3 740.0 L1889.3 738.7 L1890.3 737.3 L1891.3 736.0 L1892.3 734.7 L1893.3 733.4 L1894.3 732.1 L1895.3 730.9 L1896.3 729.7 L1897.3 728.5 L1898.3 727.4 L1899.3 726.3 L1900.3 725.2 L1901.3 724.1 L1902.3 723.1 L1903.3 722.1 L1904.3 721.1 L1905.3 720.2 L1906.3 719.3 L1907.3 718.4 L1908.3 717.5 L1909.3 716.7 L1910.3 715.9 L1911.3 715.2 L1912.3 714.4 L1913.3 713.7 L1914.3 713.1 L1915.3 712.4 L1916.3 711.8 L1917.3 711.2 L1918.3 710.7 L1919.3 710.2 L1920.3 709.7 L1921.3 709.2 L1922.3 708.8 L1923.3 708.4 L1924.3 708.1 L1925.3 707.8 L1926.3 707.5 L1927.3 707.2 L1928.3 707.0 L1929.3 706.8 L1930.3 706.6 L1931.3 706.5 L1932.3 706.4 L1933.3 706.4 L1934.3 706.3 L1935.3 706.3 L1936.3 706.4 L1937.3 706.4 L1938.3 706.6 L1939.3 706.7 L1940.3 706.9 L1941.3 707.1 L1942.3 707.3 L1943.3 707.6 L1944.3 707.9 L1945.3 708.2 L1945.5 708.3"/>
<path stroke="#ff0000" stroke-dasharray="24 7" stroke-dashoffset="20.50" d="M235.3 816.9 L235.6 816.9 L235.8 816.9 L236.1 816.9 L236.3 816.9 L236.6 816.8 L236.8 816.8 L237.1 816.8 L237.3 816.8 L237.6 816.7 L237.8 816.7 L238.1 816.7 L238.3 816.7 L238.6 816.6 L238.8 816.6 L239.1 816.6 L239.3 816.5 L239.6 816.5 L239.8 816.5 L240.1 816.4 L240.3 816.4 L240.6 816.4 L240.8 816.3 L241.1 816.3 L241.3 816.3 L241.6 816.2 L241.8 816.2 L242.1 816.1 L242.3 816.1 L242.6 816.1 L242.8 816.0 L243.1 816.0 L243.3 816.0 L243.6 815.9 L243.8 815.9 L244.1 815.8 L244.3 815.8 L244.6 815.7 L244.8 815.6 L245.1 815.6 L245.3 815.5 L245.6 815.4 L245.8 815.4 L246.1 815.3 L246.3 815.2 L246.6 815.1 L246.8 815.0 L247.1 815.0 L247.3 814.9 L247.6 814.8 L247.8 814.7 L248.1 814.6 L248.3 814.5 L248.6 814.4 L248.8 814.3 L249.1 814.2 L249.3 814.1 L249.6 814.0 L249.8 813.9 L250.1 813.8 L250.3 813.7 L250.6 813.6 L250.8 813.5 L251.1 813.4 L251.3 813.2 L251.6 813.1 L251.8 813.0 L252.1 812.9 L252.3 812.8 L252.6 812.7 L252.8 812.6 L253.1 812.4 L253.3 812.3 L253.6 812.2 L253.8 812.1 L254.1 812.0 L254.3 811.9 L254.6 811.7 L254.8 811.6 L255.1 811.5 L255.3 811.4 L255.6 811.2 L255.8 811.1 L256.1 811.0 L256.3 810.8 L256.6 810.7 L256.8 810.6 L257.1 810.4 L257.3 810.3 L257.6 810.1 L257.8 810.0 L258.1 809.8 L258.3 809.7 L258.6 809.5 L258.8 809.4 L259.1 809.2 L259.3 809.1 L259.6 808.9 L259.8 808.7 L260.1 808.6 L260.3 808.4 L260.6 808.2 L260.8 808.1 L261.1 807.9 L261.3 807.7 L261.6 807.6 L261.8 807.4 L262.1 807.2 L262.3 807.0 L262.6 806.8 L262.8 806.7 L263.1 806.5 L263.3 806.3 L263.6 806.1 L263.8 805.9 L264.1 805.7 L264.3 805.6 L264.6 805.4 L264.8 805.2 L265.1 805.0 L265.3 804.8 L265.6 804.6 L265.8 804.4 L266.1 804.2 L266.3 804.0 L266.6 803.8 L266.8 803.6 L267.1 803.4 L267.3 803.2 L267.6 803.0 L267.8 802.8 L268.1 802.6 L268.3 802.4 L268.6 802.2 L268.8 802.0 L269.1 801.8 L269.3 801.6 L269.6 801.4 L269.8 801.2 L270.1 801.0 L270.3 800.7 L270.6 800.5 L270.8 800.3 L271.1 800.1 L271.3 799.9 L271.6 799.7 L271.8 799.4 L272.1 799.2 L272.3 799.0 L272.6 798.7 L272.8 798.5 L273.1 798.3 L273.3 798.0 L273.6 797.8 L273.8 797.5 L274.1 797.3 L274.3 797.0 L274.6 796.8 L274.8 796.5 L275.1 796.3 L275.3 796.0 L275.6 795.8 L275.8 795.5 L276.1 795.3 L276.3 795.0 L276.6 794.7 L276.8 794.5 L277.1 794.2 L277.3 793.9 L277.6 793.7 L277.8 793.4 L278.1 793.1 L278.3 792.8 L278.6 792.6 L278.8 792.3 L279.1 792.0 L279.3 791.7 L279.6 791.4 L279.8 791.2 L280.1 790.9 L280.3 790.6 L280.6 790.3 L280.8 790.0 L281.1 789.7 L281.3 789.5 L281.6 789.2 L281.8 788.9 L282.1 788.6 L282.3 788.3 L282.6 788.0 L282.8 787.7 L283.1 787.4 L283.3 787.1 L283.6 786.9 L283.8 786.6 L284.1 786.3 L284.3 786.0 L284.6 785.7 L284.8 785.4 L285.1 785.1 L285.3 784.8 L285.6 784.5 L285.8 784.2 L286.1 783.9 L286.3 783.6 L286.6 783.4 L286.8 783.1 L287.1 782.8 L287.3 782.5 L287.6 782.2 L287.8 781.9 L288.1 781.6 L288.3 781.3 L288.6 781.0 L288.8 780.7 L289.1 780.4 L289.3 780.1 L289.6 779.7 L289.8 779.4 L290.1 779.1 L290.3 778.8 L290.6 778.5 L290.8 778.2 L291.1 777.9 L291.3 777.6 L291.6 777.2 L291.8 776.9 L292.1 776.6 L292.3 776.3 L292.6 776.0 L292.8 775.7 L293.1 775.3 L293.3 775.0 L293.6 774.7 L293.8 774.4 L294.1 774.0 L294.3 773.7 L294.6 773.4 L294.8 773.0 L295.1 772.7 L295.3 772.4 L295.6 772.1 L295.8 771.7 L296.1 771.4 L296.3 771.1 L296.6 770.7 L296.8 770.4 L297.1 770.0 L297.3 769.7 L297.6 769.4 L297.8 769.0 L298.1 768.7 L298.3 768.3 L298.6 768.0 L298.8 767.7 L299.1 767.3 L299.3 767.0 L299.6 766.6 L299.8 766.3 L300.1 765.9 L300.3 765.6 L300.6 765.2 L300.8 764.9 L301.1 764.5 L301.3 764.2 L301.6 763.8 L301.8 763.5 L302.1 763.1 L302.3 762.8 L302.6 762.4 L302.8 762.1 L303.1 761.7 L303.3 761.3 L303.6 761.0 L303.8 760.6 L304.1 760.2 L304.3 759.9 L304.6 759.5 L304.8 759.1 L305.1 758.8 L305.3 758.4 L305.6 758.0 L305.8 757.6 L306.1 757.3 L306.3 756.9 L306.6 756.5 L306.8 756.1 L307.1 755.7 L307.3 755.3 L307.6 755.0 L307.8 754.6 L308.1 754.2 L308.3 753.8 L308.6 753.4 L308.8 753.0 L309.1 752.6 L309.3 752.2 L309.6 751.7 L309.8 751.3 L310.1 750.9 L310.3 750.5 L310.6 750.1 L310.8 749.7 L311.1 749.3 L311.3 748.8 L311.6 748.4 L311.8 748.0 L312.1 747.6 L312.3 747.2 L312.6 746.8 L312.8 746.4 L313.1 746.0 L313.3 745.6 L313.6 745.1 L313.8 744.7 L314.1 744.3 L314.3 743.9 L314.6 743.5 L314.8 743.1 L315.1 742.6 L315.3 742.2 L315.6 741.8 L315.8 741.4 L316.1 740.9 L316.3 740.5 L316.6 740.1 L316.8 739.6 L317.1 739.2 L317.3 738.7 L317.6 738.3 L317.8 737.8 L318.1 737.4 L318.3 736.9 L318.6 736.5 L318.8 736.0 L319.1 735.6 L319.3 735.1 L319.6 734.6 L319.8 734.1 L320.1 733.6 L320.3 733.2 L320.6 732.7 L320.8 732.2 L321.1 731.7 L321.3 731.1 L321.6 730.6 L321.8 730.1 L322.1 729.6 L322.3 729.1 L322.6 728.5 L322.8 728.0 L323.1 727.4 L323.3 726.9 L323.6 726.3 L323.8 725.7 L324.1 725.2 L324.3 724.6 L324.6 724.0 L324.8 723.4 L325.1 722.8 L325.3 722.2 L325.6 721.5 L325.8 720.9 L326.1 720.3 L326.3 719.6 L326.6 718.9 L326.8 718.2 L327.1 717.5 L327.3 716.8 L327.6 716.0 L327.8 715.2 L328.1 714.4 L328.3 713.6 L328.6 712.7 L328.8 711.9 L329.1 711.0 L329.3 710.1 L329.6 709.2 L329.8 708.3 L330.1 707.4 L330.3 706.5 L330.6 705.5 L330.8 704.6 L331.1 703.6 L331.3 702.7 L331.6 701.7 L331.8 700.7 L332.1 699.8 L332.3 698.8 L332.6 697.8 L332.8 696.8 L333.1 695.9 L333.3 694.9 L333.6 693.9 L333.8 693.0 L334.1 692.0 L334.3 691.0 L334.6 690.1 L334.8 689.1 L335.1 688.2 L335.3 687.3 L335.6 686.3 L335.8 685.4 L336.1 684.4 L336.3 683.5 L336.6 682.5 L336.8 681.6 L337.1 680.6 L337.3 679.7 L337.6 678.7 L337.8 677.7 L338.1 676.7 L338.3 675.8 L338.6 674.8 L338.8 673.8 L339.1 672.8 L339.3 671.8 L339.6 670.9 L339.8 669.9 L340.1 668.9 L340.3 667.9 L340.6 666.9 L340.8 665.9 L341.1 664.9 L341.3 663.9 L341.6 662.9 L341.8 661.9 L342.1 660.9 L342.3 659.9 L342.6 658.9 L342.8 657.9 L343.1 656.9 L343.3 655.9 L343.6 654.9 L343.8 653.9 L344.1 653.0 L344.3 652.0 L344.6 651.0 L344.8 650.0 L345.1 649.0 L345.3 648.0 L345.6 647.0 L345.8 646.0 L346.1 645.0 L346.3 644.0 L346.6 642.9 L346.8 641.9 L347.1 640.9 L347.3 639.8 L347.6 638.8 L347.8 637.7 L348.1 636.7 L348.3 635.6 L348.6 634.5 L348.8 633.4 L349.1 632.3 L349.3 631.2 L349.6 630.1 L349.8 628.9 L350.1 627.7 L350.3 626.5 L350.6 625.3 L350.8 624.1 L351.1 622.8 L351.3 621.5 L351.6 620.2 L351.8 618.9 L352.1 617.6 L352.3 616.3 L352.6 615.0 L352.8 613.7 L353.1 612.4 L353.3 611.1 L353.6 609.8 L353.8 608.5 L354.1 607.2 L354.3 606.0 L354.6 604.7 L354.8 603.5 L355.1 602.3 L355.3 601.1 L355.6 600.0 L355.8 598.8 L356.1 597.7 L356.3 596.6 L356.6 595.4 L356.8 594.3 L357.1 593.2 L357.3 592.1 L357.6 591.0 L357.8 589.9 L358.1 588.8 L358.3 587.7 L358.6 586.6 L358.8 585.5 L359.1 584.5 L359.3 583.4 L359.6 582.4 L359.8 581.3 L360.1 580.3 L360.3 579.3 L360.6 578.2 L360.8 577.2 L361.1 576.2 L361.3 575.3 L361.6 574.3 L361.8 573.3 L362.1 572.4 L362.3 571.5 L362.6 570.5 L362.8 569.6 L363.1 568.7 L363.3 567.8 L363.6 567.0 L363.8 566.1 L364.1 565.3 L364.3 564.4 L364.6 563.6 L364.8 562.8 L365.1 561.9 L365.3 561.1 L365.6 560.3 L365.8 559.5 L366.1 558.8 L366.3 558.0 L366.6 557.2 L366.8 556.4 L367.1 555.7 L367.3 554.9 L367.6 554.2 L367.8 553.4 L368.1 552.7 L368.3 551.9 L368.6 551.2 L368.8 550.5 L369.1 549.8 L369.3 549.1 L369.6 548.3 L369.8 547.6 L370.1 546.9 L370.3 546.2 L370.6 545.5 L370.8 544.8 L371.1 544.1 L371.3 543.4 L371.6 542.7 L371.8 542.0 L372.1 541.3 L372.3 540.6 L372.6 539.9 L372.8 539.2 L373.1 538.5 L373.3 537.8 L373.6 537.1 L373.8 536.4 L374.1 535.7 L374.3 535.0 L374.6 534.3 L374.8 533.6 L375.1 532.9 L375.3 532.2 L375.6 531.5 L375.8 530.8 L376.1 530.1 L376.3 529.5 L376.6 528.8 L376.8 528.1 L377.1 527.4 L377.3 526.7 L377.6 526.0 L377.8 525.4 L378.1 524.7 L378.3 524.0 L378.6 523.4 L378.8 522.7 L379.1 522.0 L379.3 521.4 L379.6 520.7 L379.8 520.1 L380.1 519.5 L380.3 518.9 L380.6 518.2 L380.8 517.6 L381.1 517.0 L381.3 516.4 L381.6 515.8 L381.8 515.2 L382.1 514.7 L382.3 514.1 L382.6 513.5 L382.8 513.0 L383.1 512.4 L383.3 511.9 L383.6 511.4 L383.8 510.9 L384.1 510.4 L384.3 509.9 L384.6 509.4 L384.8 508.9 L385.1 508.5 L385.3 508.0 L385.6 507.6 L385.8 507.1 L386.1 506.7 L386.3 506.3 L386.6 505.8 L386.8 505.4 L387.1 505.0 L387.3 504.5 L387.6 504.1 L387.8 503.7 L388.1 503.2 L388.3 502.8 L388.6 502.4 L388.8 501.9 L389.1 501.4 L389.3 501.0 L389.6 500.5 L389.8 500.0 L390.1 499.5 L390.3 499.0 L390.6 498.5 L390.8 498.0 L391.1 497.5 L391.3 496.9 L391.6 496.4 L391.8 495.9 L392.1 495.4 L392.3 494.9 L392.6 494.3 L392.8 493.8 L393.1 493.3 L393.3 492.7 L393.6 492.2 L393.8 491.6 L394.1 491.0 L394.3 490.5 L394.6 489.9 L394.8 489.3 L395.1 488.7 L395.3 488.0 L395.6 487.4 L395.8 486.8 L396.1 486.1 L396.3 485.4 L396.6 484.8 L396.8 484.1 L397.1 483.3 L397.3 482.6 L397.6 481.8 L397.8 481.1 L398.1 480.3 L398.3 479.4 L398.6 478.6 L398.8 477.7 L399.1 476.8 L399.3 475.8 L399.6 474.9 L399.8 473.9 L400.1 472.9 L400.3 471.8 L400.6 470.8 L400.8 469.7 L401.1 468.6 L401.3 467.5 L401.6 466.4 L401.8 465.2 L402.1 464.1 L402.3 462.9 L402.6 461.7 L402.8 460.5 L403.1 459.2 L403.3 458.0 L403.6 456.7 L403.8 455.4 L404.1 454.1 L404.3 452.7 L404.6 451.3 L404.8 449.9 L405.1 448.4 L405.3 446.9 L405.6 445.3 L405.8 443.8 L406.1 442.2 L406.3 440.6 L406.6 439.0 L406.8 437.4 L407.1 435.7 L407.3 434.0 L407.6 432.4 L407.8 430.7 L408.1 429.0 L408.3 427.3 L408.6 425.6 L408.8 423.8 L409.1 422.1 L409.3 420.4 L409.6 418.7 L409.8 416.9 L410.1 415.1 L410.3 413.3 L410.6 411.5 L410.8 409.6 L411.1 407.7 L411.3 405.8 L411.6 403.9 L411.8 402.0 L412.1 400.1 L412.3 398.1 L412.6 396.2 L412.8 394.3 L413.1 392.3 L413.3 390.4 L413.6 388.5 L413.8 386.5 L414.1 384.6 L414.3 382.7 L414.6 380.8 L414.8 378.8 L415.1 376.9 L415.3 375.0 L415.6 373.0 L415.8 371.1 L416.1 369.1 L416.3 367.2 L416.6 365.2 L416.8 363.3 L417.1 361.4 L417.3 359.5 L417.6 357.6 L417.8 355.8 L418.1 354.0 L418.3 352.2 L418.6 350.4 L418.8 348.6 L419.1 346.8 L419.3 345.1 L419.6 343.3 L419.8 341.5 L420.1 339.7 L420.3 337.9 L420.6 336.1 L420.8 334.2 L421.1 332.3 L421.3 330.3 L421.6 328.3 L421.8 326.3 L422.1 324.3 L422.3 322.3 L422.6 320.3 L422.8 318.3 L423.1 316.2 L423.3 314.0 L423.6 311.9 L423.8 309.6 L424.1 307.4 L424.3 305.0 L424.6 302.6 L424.8 300.1 L425.1 297.5 L425.3 294.7 L425.6 291.7 L425.8 288.5 L426.1 285.2 L426.3 281.8 L426.6 278.2 L426.8 274.6 L427.1 271.0 L427.3 267.4 L427.6 263.8 L427.8 260.2 L428.1 256.8 L428.3 253.5 L428.6 250.3 L428.8 247.3 L429.1 244.5 L429.3 241.8 L429.6 239.2 L429.8 236.7 L430.1 234.2 L430.3 231.8 L430.6 229.4 L430.8 227.1 L431.1 224.9 L431.3 222.6 L431.6 220.4 L431.8 218.2 L432.1 216.0 L432.3 213.9 L432.6 211.7 L432.8 209.5 L433.1 207.2 L433.3 205.0 L433.6 202.6 L433.8 200.0 L434.1 197.3 L434.3 194.5 L434.6 191.5 L434.8 188.6 L435.1 185.7 L435.3 182.9 L435.6 180.1 L435.8 177.6 L436.1 175.2 L436.3 173.1 L436.6 171.3 L436.8 169.9 L437.1 168.8 L437.3 168.2 L437.6 168.0 L437.8 168.4 L438.1 169.2 L438.3 170.4 L438.6 172.0 L438.8 174.0 L439.1 176.3 L439.3 178.8 L439.6 181.6 L439.8 184.6 L440.1 187.7 L440.3 190.9 L440.6 194.1 L440.8 197.4 L441.1 200.7 L441.3 204.2 L441.6 208.1 L441.8 212.5 L442.1 217.3 L442.3 222.6 L442.6 228.3 L442.8 234.6 L443.1 241.4 L443.3 249.8 L443.6 259.9 L443.8 271.2 L444.1 283.2 L444.3 295.5 L444.6 307.6 L444.8 319.5 L445.1 331.6 L445.3 344.1 L445.6 357.3 L445.8 371.8 L446.1 388.1 L446.3 404.1 L446.6 417.7 L446.8 427.9 L447.1 436.3 L447.3 443.8 L447.6 451.4 L447.8 460.0 L448.1 470.4 L448.3 481.9 L448.6 493.7 L448.8 504.6 L449.1 513.7 L449.3 521.6 L449.6 529.1 L449.8 535.9 L450.1 542.2 L450.3 547.9 L450.6 553.0 L450.8 557.4 L451.1 561.3 L451.3 564.9 L451.6 568.2 L451.8 571.5 L452.1 575.0 L452.3 578.7 L452.6 582.9 L452.8 587.5 L453.1 592.4 L453.3 597.5 L453.6 602.7 L453.8 607.9 L454.1 613.0 L454.3 618.2 L454.6 623.5 L454.8 628.8 L455.1 633.9 L455.3 638.6 L455.6 642.8 L455.8 646.6 L456.1 650.3 L456.3 653.7 L456.6 657.0 L456.8 660.1 L457.1 663.1 L457.3 666.1 L457.6 669.1 L457.8 672.0 L458.1 674.9 L458.3 677.9 L458.6 680.8 L458.8 683.7 L459.1 686.5 L459.3 689.4 L459.6 692.1 L459.8 694.8 L460.1 697.4 L460.3 700.0 L460.6 702.5 L460.8 704.9 L461.1 707.3 L461.3 709.6 L461.6 711.8 L461.8 714.0 L462.1 716.1 L462.3 718.2 L462.6 720.2 L462.8 722.1 L463.1 723.9 L463.3 725.6 L463.6 727.3 L463.8 728.9 L464.1 730.4 L464.3 731.8 L464.6 733.1 L464.8 734.3 L465.1 735.5 L465.3 736.6 L465.6 737.6 L465.8 738.6 L466.1 739.6 L466.3 740.4 L466.6 741.3 L466.8 742.1 L467.1 742.8 L467.3 743.6 L467.6 744.3 L467.8 744.9 L468.1 745.6 L468.3 746.2 L468.6 746.8 L468.8 747.4 L469.1 748.1 L469.3 748.7 L469.6 749.3 L469.8 749.9 L470.1 750.6 L470.3 751.3 L470.6 751.9 L470.8 752.6 L471.1 753.3 L471.3 754.0 L471.6 754.7 L471.8 755.4 L472.1 756.1 L472.3 756.8 L472.6 757.5 L472.8 758.2 L473.1 758.9 L473.3 759.6 L473.6 760.3 L473.8 761.1 L474.1 761.8 L474.3 762.5 L474.6 763.2 L474.8 763.9 L475.1 764.6 L475.3 765.3 L475.6 766.1 L475.8 766.8 L476.1 767.5 L476.3 768.2 L476.6 769.0 L476.8 769.7 L477.1 770.4 L477.3 771.1 L477.6 771.9 L477.8 772.6 L478.1 773.3 L478.3 774.1 L478.6 774.8 L478.8 775.5 L479.1 776.3 L479.3 777.0 L479.6 777.8 L479.8 778.5 L480.1 779.3 L480.3 780.0 L480.6 780.8 L480.8 781.5 L481.1 782.3 L481.3 783.0 L481.6 783.8 L481.8 784.5 L482.1 785.3 L482.3 786.0 L482.6 786.8 L482.8 787.5 L483.1 788.3 L483.3 789.1 L483.6 789.8 L483.8 790.6 L484.1 791.4 L484.3 792.1 L484.6 792.9 L484.8 793.7 L485.1 794.4 L485.3 795.2 L485.6 796.0 L485.8 796.8 L486.1 797.5 L486.3 798.3 L486.6 799.1 L486.8 799.9 L487.1 800.6 L487.3 801.4 L487.6 802.2 L487.8 803.0 L488.1 803.8 L488.3 804.6 L488.6 805.3 L488.8 806.1 L489.1 806.9 L489.3 807.7 L489.6 808.5 L489.8 809.3 L490.1 810.1 L490.3 810.9 L490.6 811.7 L490.8 812.5 L491.1 813.3 L491.3 814.1 L491.6 814.9 L491.8 815.7 L492.1 816.5 L492.3 817.3 L492.6 818.1 L492.8 818.9 L493.1 819.7 L493.3 820.5 L493.6 821.3 L493.8 822.1 L494.1 823.0 L494.3 823.8 L494.6 824.6 L494.8 825.4 L495.1 826.2 L495.3 827.0 L495.6 827.8 L495.8 828.7 L496.1 829.5 L496.3 830.3 L496.6 831.1 L496.8 832.0 L497.1 832.8 L497.3 833.6 L497.6 834.4 L497.8 835.3 L498.1 836.1 L498.3 836.9 L498.6 837.7 L498.8 838.6 L499.1 839.4 L499.3 840.2 L499.6 841.1 L499.8 841.9 L500.1 842.7 L500.3 843.6 L500.6 844.4 L500.8 845.2 L501.1 846.1 L501.3 846.9 L501.6 847.8 L501.8 848.6 L502.1 849.4 L502.3 850.3 L502.6 851.1 L502.8 852.0 L503.1 852.8 L503.3 853.7 L503.6 854.5 L503.8 855.3 L504.1 856.2 L504.3 857.0 L504.6 857.9 L504.8 858.7 L505.1 859.6 L505.3 860.4 L505.6 861.3 L505.8 862.2 L506.1 863.0 L506.3 863.9 L506.6 864.7 L506.8 865.6 L507.1 866.4 L507.3 867.3 L507.6 868.1 L507.8 869.0 L508.1 869.9 L508.3 870.7 L508.6 871.6 L508.8 872.4 L509.1 873.3 L509.3 874.2 L509.6 875.0 L509.8 875.9 L510.1 876.8 L510.3 877.6 L510.6 878.5 L510.8 879.4 L511.1 880.2 L511.3 881.1 L511.6 882.0 L511.8 882.8 L512.0 883.7 L512.3 884.6 L512.5 885.4 L512.8 886.3 L513.0 887.2 L513.3 888.1 L513.5 888.9 L513.8 889.8 L514.0 890.7 L514.3 891.6 L514.5 892.4 L514.8 893.3 L515.0 894.2 L515.3 895.1 L515.5 895.9 L515.8 896.8 L516.0 897.7 L516.3 898.6 L516.5 899.5 L516.8 900.3 L517.0 901.2 L517.3 902.1 L517.5 903.0 L517.8 903.9 L518.0 904.7 L518.3 905.6 L518.5 906.5 L518.8 907.4 L519.0 908.3 L519.3 909.2 L519.5 910.0 L519.8 910.9 L520.0 911.8 L520.3 912.7 L520.5 913.6 L520.8 914.5 L521.0 915.3 L521.3 916.2 L521.5 917.1 L521.8 918.0 L522.0 918.9 L522.3 919.8 L522.5 920.7 L522.8 921.6 L523.0 922.5 L523.3 923.3 L523.5 924.2 L523.8 925.1 L524.0 926.0 L524.3 926.9 L524.5 927.8 L524.8 928.7 L525.0 929.6 L525.3 930.5 L525.5 931.4 L525.8 932.3 L526.0 933.1 L526.3 934.0 L526.5 934.9 L526.8 935.8 L527.0 936.7 L527.3 937.6 L527.5 938.5 L527.8 939.4 L528.0 940.3 L528.3 941.2 L528.5 942.1 L528.8 943.0 L529.0 943.9 L529.3 944.8 L529.5 945.7 L529.8 946.6 L530.0 947.5 L530.3 948.3 L530.5 949.2 L530.8 950.1 L531.0 951.0 L531.3 951.9 L531.5 952.8 L531.8 953.7 L532.0 954.6 L532.3 955.5 L532.5 956.4 L532.8 957.3 L533.0 958.2 L533.3 959.1 L533.5 960.0 L533.8 960.9 L534.0 961.8 L534.3 962.7 L534.5 963.6 L534.8 964.5 L535.0 965.4 L535.3 966.3 L535.5 967.2 L535.8 968.1 L536.0 969.0 L536.3 969.9 L536.5 970.8 L536.8 971.7 L537.0 972.5 L537.3 973.4 L537.5 974.3 L537.8 975.2 L538.0 976.1 L538.3 977.0 L538.5 977.9 L538.8 978.8 L539.0 979.7 L539.3 980.6 L539.5 981.5 L539.8 982.4 L540.0 983.3 L540.3 984.2 L540.5 985.1 L540.8 986.0 L541.0 986.9 L541.3 987.8 L541.5 988.7 L541.8 989.6 L542.0 990.5 L542.3 991.4 L542.5 992.2 L542.8 993.1 L543.0 994.0 L543.3 994.9 L543.5 995.8 L543.8 996.7 L544.0 997.6 L544.3 998.5 L544.5 999.4 L544.8 1000.3 L545.0 1001.2 L545.3 1002.1 L545.5 1003.0 L545.8 1003.8 L546.0 1004.7 L546.3 1005.6 L546.5 1006.5 L546.8 1007.4 L547.0 1008.3 L547.3 1009.2 L547.5 1010.1 L547.8 1011.0 L548.0 1011.8 L548.3 1012.7 L548.5 1013.6 L548.8 1014.5 L549.0 1015.4 L549.3 1016.3 L549.5 1017.2 L549.8 1018.1 L550.0 1018.9 L550.3 1019.8 L550.5 1020.7 L550.8 1021.6 L551.0 1022.5 L551.3 1023.4 L551.5 1024.2 L551.8 1025.1 L552.0 1026.0 L552.3 1026.9 L552.5 1027.8 L552.8 1028.7 L553.0 1029.5 L553.3 1030.4 L553.5 1031.3 L553.8 1032.2 L554.0 1033.1 L554.3 1033.9 L554.5 1034.8 L554.8 1035.7 L555.0 1036.6 L555.3 1037.4 L555.5 1038.3 L555.8 1039.2 L556.0 1040.1 L556.3 1040.9 L556.5 1041.8 L556.8 1042.7 L557.0 1043.6 L557.3 1044.4 L557.5 1045.3 L557.8 1046.2 L558.0 1047.0 L558.3 1047.9 L558.5 1048.8 L558.8 1049.6 L559.0 1050.5 L559.3 1051.4 L559.5 1052.3 L559.8 1053.1 L560.0 1054.0 L560.3 1054.8 L560.5 1055.7 L560.8 1056.6 L561.0 1057.4 L561.3 1058.3 L561.5 1059.2 L561.8 1060.0 L562.0 1060.9 L562.3 1061.7 L562.5 1062.6 L562.8 1063.5 L563.0 1064.3 L563.3 1065.2 L563.5 1066.0 L563.8 1066.9 L564.0 1067.7 L564.3 1068.6 L564.5 1069.5 L564.8 1070.3 L565.0 1071.2 L565.3 1072.0 L565.5 1072.9 L565.8 1073.7 L566.0 1074.6 L566.3 1075.4 L566.5 1076.3 L566.8 1077.1 L567.0 1077.9 L567.3 1078.8 L567.5 1079.6 L567.8 1080.5 L568.0 1081.3 L568.3 1082.2 L568.5 1083.0 L568.8 1083.8 L569.0 1084.7 L569.3 1085.5 L569.5 1086.4 L569.8 1087.2 L570.0 1088.0 L570.3 1088.9 L570.5 1089.7 L570.8 1090.5 L571.0 1091.4 L571.3 1092.2 L571.5 1093.0 L571.8 1093.9 L572.0 1094.7 L572.3 1095.5 L572.5 1096.4 L572.8 1097.2 L573.0 1098.0 L573.3 1098.8 L573.5 1099.7 L573.8 1100.5 L574.0 1101.3 L574.3 1102.1 L574.5 1102.9 L574.8 1103.8 L575.0 1104.6 L575.3 1105.4 L575.5 1106.2 L575.8 1107.0 L576.0 1107.8 L576.3 1108.7 L576.5 1109.5 L576.8 1110.3 L577.0 1111.1 L577.3 1111.9 L577.5 1112.7 L577.8 1113.5 L578.0 1114.3 L578.3 1115.1 L578.5 1115.9 L578.8 1116.7 L579.0 1117.5 L579.3 1118.3 L579.5 1119.1 L579.8 1119.9 L580.0 1120.7 L580.3 1121.5 L580.5 1122.3 L580.8 1123.1 L581.0 1123.9 L581.3 1124.7 L581.5 1125.5 L581.8 1126.3 L582.0 1127.1 L582.3 1127.9 L582.5 1128.7 L582.8 1129.4 L583.0 1130.2 L583.3 1131.0 L583.5 1131.8 L583.8 1132.6 L584.0 1133.4 L584.3 1134.1 L584.5 1134.9 L584.8 1135.7 L585.0 1136.5 L585.3 1137.2 L585.5 1138.0 L585.8 1138.8 L586.0 1139.6 L586.3 1140.3 L586.5 1141.1 L586.8 1141.9 L587.0 1142.6 L587.3 1143.4 L587.5 1144.2 L587.8 1144.9 L588.0 1145.7 L588.3 1146.4 L588.5 1147.2 L588.8 1148.0 L589.0 1148.7 L589.3 1149.5 L589.5 1150.2 L589.8 1151.0 L590.0 1151.7 L590.3 1152.5 L590.5 1153.2 L590.8 1154.0 L591.0 1154.7 L591.3 1155.5 L591.5 1156.2 L591.8 1157.0 L592.0 1157.7 L592.3 1158.4 L592.5 1159.2 L592.8 1159.9 L593.0 1160.6 L593.3 1161.4 L593.5 1162.1 L593.8 1162.8 L594.0 1163.6 L594.3 1164.3 L594.5 1165.0 L594.8 1165.8 L595.0 1166.5 L595.3 1167.2 L595.5 1167.9 L595.8 1168.6 L596.0 1169.4 L596.3 1170.1 L596.5 1170.8 L596.8 1171.5 L597.0 1172.2 L597.3 1172.9 L597.5 1173.7 L597.8 1174.4 L598.0 1175.1 L598.3 1175.8 L598.5 1176.5 L598.8 1177.2 L599.0 1177.9 L599.3 1178.6 L599.5 1179.3 L599.8 1180.0 L600.3 1181.4 L601.3 1184.2 L602.3 1186.9 L603.3 1189.6 L604.3 1192.3 L605.3 1195.0 L606.3 1197.6 L607.3 1200.3 L608.3 1202.9 L609.3 1205.4 L610.3 1208.0 L611.3 1210.5 L612.3 1213.0 L613.3 1215.5 L614.3 1217.9 L615.3 1220.3 L616.3 1222.7 L617.3 1225.1 L618.3 1227.4 L619.3 1229.7 L620.3 1232.0 L621.3 1234.2 L622.3 1236.4 L623.3 1238.6 L624.3 1240.8 L625.3 1242.9 L626.3 1245.0 L627.3 1247.1 L628.3 1249.1 L629.3 1251.2 L630.3 1253.1 L631.3 1255.1 L632.3 1257.0 L633.3 1258.9 L634.3 1260.8 L635.3 1262.6 L636.3 1264.4 L637.3 1266.2 L638.3 1267.9 L639.3 1269.6 L640.3 1271.3 L641.3 1273.0 L642.3 1274.6 L643.3 1276.1 L644.3 1277.7 L645.3 1279.2 L646.3 1280.7 L647.3 1282.1 L648.3 1283.6 L649.3 1285.0 L650.3 1286.3 L651.3 1287.6 L652.3 1288.9 L653.3 1290.2 L654.3 1291.4 L655.3 1292.6 L656.3 1293.7 L657.3 1294.9 L658.3 1296.0 L659.3 1297.0 L660.3 1298.0 L661.3 1299.0 L662.3 1300.0 L663.3 1300.9 L664.3 1301.8 L665.3 1302.7 L666.3 1303.5 L667.3 1304.3 L668.3 1305.0 L669.3 1305.7 L670.3 1306.4 L671.3 1307.1 L672.3 1307.7 L673.3 1308.3 L674.3 1308.8 L675.3 1309.3 L676.3 1309.8 L677.3 1310.3 L678.3 1310.7 L679.3 1311.1 L680.3 1311.4 L681.3 1311.7 L682.3 1312.0 L683.3 1312.3 L684.3 1312.5 L685.3 1312.7 L686.3 1312.8 L687.3 1312.9 L688.3 1313.0 L689.3 1313.1 L690.3 1313.1 L691.3 1313.1 L692.3 1313.0 L693.3 1312.9 L694.3 1312.8 L695.3 1312.6 L696.3 1312.5 L697.3 1312.2 L698.3 1312.0 L699.3 1311.7 L700.3 1311.4 L701.3 1311.1 L702.3 1310.7 L703.3 1310.3 L704.3 1309.8 L705.3 1309.3 L706.3 1308.8 L707.3 1308.3 L708.3 1307.7 L709.3 1307.1 L710.3 1306.5 L711.3 1305.8 L712.3 1305.1 L713.3 1304.4 L714.3 1303.7 L715.3 1302.9 L716.3 1302.1 L717.3 1301.2 L718.3 1300.3 L719.3 1299.4 L720.3 1298.5 L721.3 1297.5 L722.3 1296.5 L723.3 1295.5 L724.3 1294.5 L725.3 1293.4 L726.3 1292.3 L727.3 1291.1 L728.3 1290.0 L729.3 1288.8 L730.3 1287.6 L731.3 1286.3 L732.3 1285.0 L733.3 1283.7 L734.3 1282.4 L735.3 1281.1 L736.3 1279.7 L737.3 1278.3 L738.3 1276.8 L739.3 1275.4 L740.3 1273.9 L741.3 1272.4 L742.3 1270.8 L743.3 1269.3 L744.3 1267.7 L745.3 1266.1 L746.3 1264.5 L747.3 1262.8 L748.3 1261.1 L749.3 1259.4 L750.3 1257.7 L751.3 1255.9 L752.3 1254.2 L753.3 1252.4 L754.3 1250.6 L755.3 1248.7 L756.3 1246.9 L757.3 1245.0 L758.3 1243.1 L759.3 1241.2 L760.3 1239.2 L761.3 1237.3 L762.3 1235.3 L763.3 1233.3 L764.3 1231.3 L765.3 1229.2 L766.3 1227.2 L767.3 1225.1 L768.3 1223.0 L769.3 1220.9 L770.3 1218.8 L771.3 1216.6 L772.3 1214.5 L773.3 1212.3 L774.3 1210.1 L775.3 1207.9 L776.3 1205.7 L777.3 1203.4 L778.3 1201.2 L779.3 1198.9 L780.3 1196.6 L781.3 1194.3 L782.3 1192.0 L783.3 1189.7 L784.3 1187.3 L785.3 1185.0 L786.3 1182.6 L787.3 1180.2 L788.3 1177.8 L789.3 1175.4 L790.3 1173.0 L791.3 1170.6 L792.3 1168.2 L793.3 1165.7 L794.3 1163.3 L795.3 1160.8 L796.3 1158.3 L797.3 1155.9 L798.3 1153.4 L799.3 1150.9 L800.3 1148.4 L801.3 1145.9 L802.3 1143.3 L803.3 1140.8 L804.3 1138.3 L805.3 1135.7 L806.3 1133.2 L807.3 1130.6 L808.3 1128.1 L809.3 1125.5 L810.3 1123.0 L811.3 1120.4 L812.3 1117.8 L813.3 1115.2 L814.3 1112.6 L815.3 1110.1 L816.3 1107.5 L817.3 1104.9 L818.3 1102.3 L819.3 1099.7 L820.3 1097.1 L821.3 1094.5 L822.3 1091.9 L823.3 1089.3 L824.3 1086.7 L825.3 1084.1 L826.3 1081.5 L827.3 1078.9 L828.3 1076.3 L829.3 1073.7 L830.3 1071.1 L831.3 1068.5 L832.3 1065.9 L833.3 1063.3 L834.3 1060.7 L835.3 1058.2 L836.3 1055.6 L837.3 1053.0 L838.3 1050.4 L839.3 1047.9 L840.3 1045.3 L841.3 1042.7 L842.3 1040.2 L843.3 1037.7 L844.3 1035.1 L845.3 1032.6 L846.3 1030.0 L847.3 1027.5 L848.3 1025.0 L849.3 1022.5 L850.3 1020.0 L851.3 1017.5 L852.3 1015.0 L853.3 1012.6 L854.3 1010.1 L855.3 1007.6 L856.3 1005.2 L857.3 1002.7 L858.3 1000.3 L859.3 997.9 L860.3 995.5 L861.3 993.1 L862.3 990.7 L863.3 988.3 L864.3 986.0 L865.3 983.6 L866.3 981.3 L867.3 978.9 L868.3 976.6 L869.3 974.3 L870.3 972.0 L871.3 969.8 L872.3 967.5 L873.3 965.2 L874.3 963.0 L875.3 960.8 L876.3 958.6 L877.3 956.4 L878.3 954.2 L879.3 952.0 L880.3 949.9 L881.3 947.8 L882.3 945.6 L883.3 943.5 L884.3 941.4 L885.3 939.4 L886.3 937.3 L887.3 935.3 L888.3 933.3 L889.3 931.3 L890.3 929.3 L891.3 927.3 L892.3 925.3 L893.3 923.4 L894.3 921.5 L895.3 919.6 L896.3 917.7 L897.3 915.9 L898.3 914.0 L899.3 912.2 L900.3 910.4 L901.3 908.6 L902.3 906.8 L903.3 905.1 L904.3 903.4 L905.3 901.6 L906.3 900.0 L907.3 898.3 L908.3 896.6 L909.3 895.0 L910.3 893.4 L911.3 891.8 L912.3 890.3 L913.3 888.7 L914.3 887.2 L915.3 885.7 L916.3 884.2 L917.3 882.7 L918.3 881.3 L919.3 879.9 L920.3 878.5 L921.3 877.1 L922.3 875.7 L923.3 874.4 L924.3 873.1 L925.3 871.8 L926.3 870.5 L927.3 869.3 L928.3 868.1 L929.3 866.9 L930.3 865.7 L931.3 864.5 L932.3 863.4 L933.3 862.3 L934.3 861.2 L935.3 860.1 L936.3 859.1 L937.3 858.1 L938.3 857.1 L939.3 856.1 L940.3 855.1 L941.3 854.2 L942.3 853.3 L943.3 852.4 L944.3 851.6 L945.3 850.7 L946.3 849.9 L947.3 849.1 L948.3 848.3 L949.3 847.6 L950.3 846.9 L951.3 846.2 L952.3 845.5 L953.3 844.8 L954.3 844.2 L955.3 843.6 L956.3 843.0 L957.3 842.4 L958.3 841.9 L959.3 841.4 L960.3 840.9 L961.3 840.4 L962.3 840.0 L963.3 839.5 L964.3 839.1 L965.3 838.8 L966.3 838.4 L967.3 838.1 L968.3 837.7 L969.3 837.5 L970.3 837.2 L971.3 836.9 L972.3 836.7 L973.3 836.5 L974.3 836.3 L975.3 836.2 L976.3 836.0 L977.3 835.9 L978.3 835.8 L979.3 835.7 L980.3 835.7 L981.3 835.7 L982.3 835.7 L983.3 835.7 L984.3 835.7 L985.3 835.8 L986.3 835.8 L987.3 835.9 L988.3 836.1 L989.3 836.2 L990.3 836.4 L991.3 836.5 L992.3 836.7 L993.3 836.9 L994.3 837.2 L995.3 837.4 L996.3 837.7 L997.3 838.0 L998.3 838.3 L999.3 838.7 L1000.3 839.0 L1001.3 839.4 L1002.3 839.8 L1003.3 840.2 L1004.3 840.7 L1005.3 841.1 L1006.3 841.6 L1007.3 842.1 L1008.3 842.6 L1009.3 843.1 L1010.3 843.6 L1011.3 844.2 L1012.3 844.8 L1013.3 845.4 L1014.3 846.0 L1015.3 846.6 L1016.3 847.2 L1017.3 847.9 L1018.3 848.6 L1019.3 849.3 L1020.3 850.0 L1021.3 850.7 L1022.3 851.4 L1023.3 852.2 L1024.3 853.0 L1025.3 853.7 L1026.3 854.5 L1027.3 855.3 L1028.3 856.2 L1029.3 857.0 L1030.3 857.9 L1031.3 858.7 L1032.3 859.6 L1033.3 860.5 L1034.3 861.4 L1035.3 862.4 L1036.3 863.3 L1037.3 864.2 L1038.3 865.2 L1039.3 866.2 L1040.3 867.2 L1041.3 868.2 L1042.3 869.2 L1043.3 870.2 L1044.3 871.2 L1045.3 872.3 L1046.3 873.3 L1047.3 874.4 L1048.3 875.5 L1049.3 876.5 L1050.3 877.6 L1051.3 878.7 L1052.3 879.9 L1053.3 881.0 L1054.3 882.1 L1055.3 883.2 L1056.3 884.4 L1057.3 885.6 L1058.3 886.7 L1059.3 887.9 L1060.3 889.1 L1061.3 890.3 L1062.3 891.5 L1063.3 892.7 L1064.3 893.9 L1065.3 895.1 L1066.3 896.3 L1067.3 897.5 L1068.3 898.8 L1069.3 900.0 L1070.3 901.2 L1071.3 902.5 L1072.3 903.7 L1073.3 905.0 L1074.3 906.3 L1075.3 907.5 L1076.3 908.8 L1077.3 910.1 L1078.3 911.4 L1079.3 912.6 L1080.3 913.9 L1081.3 915.2 L1082.3 916.5 L1083.3 917.8 L1084.3 919.1 L1085.3 920.4 L1086.3 921.7 L1087.3 923.0 L1088.3 924.3 L1089.3 925.6 L1090.3 926.9 L1091.3 928.2 L1092.3 929.5 L1093.3 930.8 L1094.3 932.1 L1095.3 933.4 L1096.3 934.7 L1097.3 936.1 L1098.3 937.4 L1099.3 938.7 L1100.3 940.0 L1101.3 941.3 L1102.3 942.6 L1103.3 943.9 L1104.3 945.2 L1105.3 946.4 L1106.3 947.7 L1107.3 949.0 L1108.3 950.3 L1109.3 951.6 L1110.3 952.9 L1111.3 954.1 L1112.3 955.4 L1113.3 956.7 L1114.3 957.9 L1115.3 959.2 L1116.3 960.5 L1117.3 961.7 L1118.3 962.9 L1119.3 964.2 L1120.3 965.4 L1121.3 966.7 L1122.3 967.9 L1123.3 969.1 L1124.3 970.3 L1125.3 971.5 L1126.3 972.7 L1127.3 973.9 L1128.3 975.1 L1129.3 976.3 L1130.3 977.4 L1131.3 978.6 L1132.3 979.8 L1133.3 980.9 L1134.3 982.1 L1135.3 983.2 L1136.3 984.3 L1137.3 985.5 L1138.3 986.6 L1139.3 987.7 L1140.3 988.8 L1141.3 989.8 L1142.3 990.9 L1143.3 992.0 L1144.3 993.1 L1145.3 994.1 L1146.3 995.1 L1147.3 996.2 L1148.3 997.2 L1149.3 998.2 L1150.3 999.2 L1151.3 1000.2 L1152.3 1001.2 L1153.3 1002.2 L1154.3 1003.1 L1155.3 1004.1 L1156.3 1005.0 L1157.3 1005.9 L1158.3 1006.9 L1159.3 1007.8 L1160.3 1008.7 L1161.3 1009.5 L1162.3 1010.4 L1163.3 1011.3 L1164.3 1012.1 L1165.3 1013.0 L1166.3 1013.8 L1167.3 1014.6 L1168.3 1015.4 L1169.3 1016.2 L1170.3 1017.0 L1171.3 1017.8 L1172.3 1018.5 L1173.3 1019.3 L1174.3 1020.0 L1175.3 1020.7 L1176.3 1021.4 L1177.3 1022.1 L1178.3 1022.8 L1179.3 1023.5 L1180.3 1024.1 L1181.3 1024.8 L1182.3 1025.4 L1183.3 1026.0 L1184.3 1026.6 L1185.3 1027.2 L1186.3 1027.8 L1187.3 1028.4 L1188.3 1028.9 L1189.3 1029.5 L1190.3 1030.0 L1191.3 1030.5 L1192.3 1031.0 L1193.3 1031.5 L1194.3 1032.0 L1195.3 1032.5 L1196.3 1032.9 L1197.3 1033.4 L1198.3 1033.8 L1199.3 1034.2 L1200.3 1034.6 L1201.3 1035.0 L1202.3 1035.4 L1203.3 1035.7 L1204.3 1036.1 L1205.3 1036.4 L1206.3 1036.7 L1207.3 1037.0 L1208.3 1037.3 L1209.3 1037.6 L1210.3 1037.9 L1211.3 1038.1 L1212.3 1038.4 L1213.3 1038.6 L1214.3 1038.8 L1215.3 1039.0 L1216.3 1039.2 L1217.3 1039.4 L1218.3 1039.5 L1219.3 1039.7 L1220.3 1039.8 L1221.3 1040.0 L1222.3 1040.1 L1223.3 1040.2 L1224.3 1040.3 L1225.3 1040.3 L1226.3 1040.4 L1227.3 1040.4 L1228.3 1040.5 L1229.3 1040.5 L1230.3 1040.5 L1231.3 1040.5 L1232.3 1040.5 L1233.3 1040.5 L1234.3 1040.5 L1235.3 1040.4 L1236.3 1040.4 L1237.3 1040.3 L1238.3 1040.2 L1239.3 1040.1 L1240.3 1040.0 L1241.3 1039.9 L1242.3 1039.8 L1243.3 1039.7 L1244.3 1039.5 L1245.3 1039.4 L1246.3 1039.2 L1247.3 1039.0 L1248.3 1038.8 L1249.3 1038.6 L1250.3 1038.4 L1251.3 1038.2 L1252.3 1038.0 L1253.3 1037.7 L1254.3 1037.5 L1255.3 1037.2 L1256.3 1037.0 L1257.3 1036.7 L1258.3 1036.4 L1259.3 1036.1 L1260.3 1035.8 L1261.3 1035.5 L1262.3 1035.2 L1263.3 1034.8 L1264.3 1034.5 L1265.3 1034.1 L1266.3 1033.8 L1267.3 1033.4 L1268.3 1033.0 L1269.3 1032.7 L1270.3 1032.3 L1271.3 1031.9 L1272.3 1031.5 L1273.3 1031.1 L1274.3 1030.7 L1275.3 1030.2 L1276.3 1029.8 L1277.3 1029.4 L1278.3 1028.9 L1279.3 1028.5 L1280.3 1028.0 L1281.3 1027.6 L1282.3 1027.1 L1283.3 1026.6 L1284.3 1026.1 L1285.3 1025.7 L1286.3 1025.2 L1287.3 1024.7 L1288.3 1024.2 L1289.3 1023.7 L1290.3 1023.2 L1291.3 1022.7 L1292.3 1022.1 L1293.3 1021.6 L1294.3 1021.1 L1295.3 1020.6 L1296.3 1020.0 L1297.3 1019.5 L1298.3 1019.0 L1299.3 1018.4 L1300.3 1017.9 L1301.3 1017.3 L1302.3 1016.8 L1303.3 1016.2 L1304.3 1015.7 L1305.3 1015.1 L1306.3 1014.6 L1307.3 1014.0 L1308.3 1013.5 L1309.3 1012.9 L1310.3 1012.3 L1311.3 1011.8 L1312.3 1011.2 L1313.3 1010.6 L1314.3 1010.1 L1315.3 1009.5 L1316.3 1009.0 L1317.3 1008.4 L1318.3 1007.8 L1319.3 1007.3 L1320.3 1006.7 L1321.3 1006.1 L1322.3 1005.6 L1323.3 1005.0 L1324.3 1004.5 L1325.3 1003.9 L1326.3 1003.4 L1327.3 1002.8 L1328.3 1002.3 L1329.3 1001.7 L1330.3 1001.2 L1331.3 1000.6 L1332.3 1000.1 L1333.3 999.6 L1334.3 999.0 L1335.3 998.5 L1336.3 998.0 L1337.3 997.4 L1338.3 996.9 L1339.3 996.4 L1340.3 995.9 L1341.3 995.4 L1342.3 994.9 L1343.3 994.4 L1344.3 993.9 L1345.3 993.4 L1346.3 993.0 L1347.3 992.5 L1348.3 992.0 L1349.3 991.5 L1350.3 991.1 L1351.3 990.6 L1352.3 990.2 L1353.3 989.8 L1354.3 989.3 L1355.3 988.9 L1356.3 988.5 L1357.3 988.1 L1358.3 987.7 L1359.3 987.3 L1360.3 986.9 L1361.3 986.5 L1362.3 986.1 L1363.3 985.7 L1364.3 985.4 L1365.3 985.0 L1366.3 984.7 L1367.3 984.4 L1368.3 984.0 L1369.3 983.7 L1370.3 983.4 L1371.3 983.1 L1372.3 982.8 L1373.3 982.5 L1374.3 982.3 L1375.3 982.0 L1376.3 981.8 L1377.3 981.5 L1378.3 981.3 L1379.3 981.1 L1380.3 980.8 L1381.3 980.6 L1382.3 980.5 L1383.3 980.3 L1384.3 980.1 L1385.3 979.9 L1386.3 979.8 L1387.3 979.7 L1388.3 979.5 L1389.3 979.4 L1390.3 979.3 L1391.3 979.2 L1392.3 979.1 L1393.3 979.1 L1394.3 979.0 L1395.3 978.9 L1396.3 978.9 L1397.3 978.9 L1398.3 978.9 L1399.3 978.9 L1400.3 978.9 L1401.3 978.9 L1402.3 978.9 L1403.3 979.0 L1404.3 979.0 L1405.3 979.1 L1406.3 979.2 L1407.3 979.3 L1408.3 979.4 L1409.3 979.5 L1410.3 979.7 L1411.3 979.8 L1412.3 980.0 L1413.3 980.1 L1414.3 980.3 L1415.3 980.5 L1416.3 980.7 L1417.3 981.0 L1418.3 981.2 L1419.3 981.4 L1420.3 981.7 L1421.3 982.0 L1422.3 982.3 L1423.3 982.6 L1424.3 982.9 L1425.3 983.2 L1426.3 983.6 L1427.3 983.9 L1428.3 984.3 L1429.3 984.7 L1430.3 985.1 L1431.3 985.5 L1432.3 985.9 L1433.3 986.3 L1434.3 986.8 L1435.3 987.2 L1436.3 987.7 L1437.3 988.2 L1438.3 988.7 L1439.3 989.2 L1440.3 989.7 L1441.3 990.3 L1442.3 990.8 L1443.3 991.4 L1444.3 991.9 L1445.3 992.5 L1446.3 993.1 L1447.3 993.8 L1448.3 994.4 L1449.3 995.0 L1450.3 995.7 L1451.3 996.3 L1452.3 997.0 L1453.3 997.7 L1454.3 998.4 L1455.3 999.1 L1456.3 999.9 L1457.3 1000.6 L1458.3 1001.4 L1459.3 1002.1 L1460.3 1002.9 L1461.3 1003.7 L1462.3 1004.5 L1463.3 1005.3 L1464.3 1006.1 L1465.3 1007.0 L1466.3 1007.8 L1467.3 1008.7 L1468.3 1009.5 L1469.3 1010.4 L1470.3 1011.3 L1471.3 1012.2 L1472.3 1013.1 L1473.3 1014.1 L1474.3 1015.0 L1475.3 1015.9 L1476.3 1016.9 L1477.3 1017.9 L1478.3 1018.8 L1479.3 1019.8 L1480.3 1020.8 L1481.3 1021.8 L1482.3 1022.9 L1483.3 1023.9 L1484.3 1024.9 L1485.3 1026.0 L1486.3 1027.0 L1487.3 1028.1 L1488.3 1029.2 L1489.3 1030.2 L1490.3 1031.3 L1491.3 1032.4 L1492.3 1033.5 L1493.3 1034.7 L1494.3 1035.8 L1495.3 1036.9 L1496.3 1038.1 L1497.3 1039.2 L1498.3 1040.4 L1499.3 1041.5 L1500.3 1042.7 L1501.3 1043.9 L1502.3 1045.1 L1503.3 1046.3 L1504.3 1047.5 L1505.3 1048.7 L1506.3 1049.9 L1507.3 1051.1 L1508.3 1052.3 L1509.3 1053.5 L1510.3 1054.8 L1511.3 1056.0 L1512.3 1057.2 L1513.3 1058.5 L1514.3 1059.7 L1515.3 1061.0 L1516.3 1062.3 L1517.3 1063.5 L1518.3 1064.8 L1519.3 1066.1 L1520.3 1067.4 L1521.3 1068.6 L1522.3 1069.9 L1523.3 1071.2 L1524.3 1072.5 L1525.3 1073.8 L1526.3 1075.1 L1527.3 1076.4 L1528.3 1077.7 L1529.3 1079.0 L1530.3 1080.3 L1531.3 1081.6 L1532.3 1082.9 L1533.3 1084.2 L1534.3 1085.5 L1535.3 1086.8 L1536.3 1088.1 L1537.3 1089.4 L1538.3 1090.7 L1539.3 1092.0 L1540.3 1093.3 L1541.3 1094.6 L1542.3 1095.9 L1543.3 1097.2 L1544.3 1098.5 L1545.3 1099.8 L1546.3 1101.1 L1547.3 1102.4 L1548.3 1103.7 L1549.3 1105.0 L1550.3 1106.3 L1551.3 1107.6 L1552.3 1108.9 L1553.3 1110.1 L1554.3 1111.4 L1555.3 1112.7 L1556.3 1113.9 L1557.3 1115.2 L1558.3 1116.5 L1559.3 1117.7 L1560.3 1119.0 L1561.3 1120.2 L1562.3 1121.4 L1563.3 1122.7 L1564.3 1123.9 L1565.3 1125.1 L1566.3 1126.3 L1567.3 1127.5 L1568.3 1128.7 L1569.3 1129.9 L1570.3 1131.1 L1571.3 1132.3 L1572.3 1133.4 L1573.3 1134.6 L1574.3 1135.7 L1575.3 1136.9 L1576.3 1138.0 L1577.3 1139.1 L1578.3 1140.3 L1579.3 1141.4 L1580.3 1142.5 L1581.3 1143.5 L1582.3 1144.6 L1583.3 1145.7 L1584.3 1146.7 L1585.3 1147.8 L1586.3 1148.8 L1587.3 1149.9 L1588.3 1150.9 L1589.3 1151.9 L1590.3 1152.9 L1591.3 1153.8 L1592.3 1154.8 L1593.3 1155.8 L1594.3 1156.7 L1595.3 1157.6 L1596.3 1158.5 L1597.3 1159.4 L1598.3 1160.3 L1599.3 1161.2 L1600.3 1162.1 L1601.3 1162.9 L1602.3 1163.8 L1603.3 1164.6 L1604.3 1165.4 L1605.3 1166.2 L1606.3 1166.9 L1607.3 1167.7 L1608.3 1168.4 L1609.3 1169.2 L1610.3 1169.9 L1611.3 1170.6 L1612.3 1171.3 L1613.3 1171.9 L1614.3 1172.6 L1615.3 1173.2 L1616.3 1173.8 L1617.3 1174.4 L1618.3 1175.0 L1619.3 1175.6 L1620.3 1176.1 L1621.3 1176.6 L1622.3 1177.2 L1623.3 1177.7 L1624.3 1178.1 L1625.3 1178.6 L1626.3 1179.0 L1627.3 1179.4 L1628.3 1179.8 L1629.3 1180.2 L1630.3 1180.6 L1631.3 1180.9 L1632.3 1181.3 L1633.3 1181.6 L1634.3 1181.9 L1635.3 1182.1 L1636.3 1182.4 L1637.3 1182.6 L1638.3 1182.8 L1639.3 1183.0 L1640.3 1183.2 L1641.3 1183.3 L1642.3 1183.4 L1643.3 1183.5 L1644.3 1183.6 L1645.3 1183.7 L1646.3 1183.7 L1647.3 1183.7 L1648.3 1183.7 L1649.3 1183.7 L1650.3 1183.7 L1651.3 1183.6 L1652.3 1183.5 L1653.3 1183.4 L1654.3 1183.3 L1655.3 1183.1 L1656.3 1183.0 L1657.3 1182.8 L1658.3 1182.5 L1659.3 1182.3 L1660.3 1182.0 L1661.3 1181.8 L1662.3 1181.5 L1663.3 1181.1 L1664.3 1180.8 L1665.3 1180.4 L1666.3 1180.0 L1667.3 1179.6 L1668.3 1179.1 L1669.3 1178.7 L1670.3 1178.2 L1671.3 1177.7 L1672.3 1177.1 L1673.3 1176.6 L1674.3 1176.0 L1675.3 1175.4 L1676.3 1174.8 L1677.3 1174.1 L1678.3 1173.5 L1679.3 1172.8 L1680.3 1172.1 L1681.3 1171.3 L1682.3 1170.6 L1683.3 1169.8 L1684.3 1169.0 L1685.3 1168.1 L1686.3 1167.3 L1687.3 1166.4 L1688.3 1165.5 L1689.3 1164.6 L1690.3 1163.6 L1691.3 1162.7 L1692.3 1161.7 L1693.3 1160.7 L1694.3 1159.6 L1695.3 1158.6 L1696.3 1157.5 L1697.3 1156.4 L1698.3 1155.3 L1699.3 1154.1 L1700.3 1153.0 L1701.3 1151.8 L1702.3 1150.6 L1703.3 1149.3 L1704.3 1148.1 L1705.3 1146.8 L1706.3 1145.5 L1707.3 1144.1 L1708.3 1142.8 L1709.3 1141.4 L1710.3 1140.0 L1711.3 1138.6 L1712.3 1137.2 L1713.3 1135.7 L1714.3 1134.3 L1715.3 1132.8 L1716.3 1131.2 L1717.3 1129.7 L1718.3 1128.2 L1719.3 1126.6 L1720.3 1125.0 L1721.3 1123.3 L1722.3 1121.7 L1723.3 1120.0 L1724.3 1118.4 L1725.3 1116.7 L1726.3 1114.9 L1727.3 1113.2 L1728.3 1111.4 L1729.3 1109.7 L1730.3 1107.9 L1731.3 1106.0 L1732.3 1104.2 L1733.3 1102.4 L1734.3 1100.5 L1735.3 1098.6 L1736.3 1096.7 L1737.3 1094.8 L1738.3 1092.8 L1739.3 1090.8 L1740.3 1088.9 L1741.3 1086.9 L1742.3 1084.9 L1743.3 1082.8 L1744.3 1080.8 L1745.3 1078.7 L1746.3 1076.6 L1747.3 1074.5 L1748.3 1072.4 L1749.3 1070.3 L1750.3 1068.1 L1751.3 1066.0 L1752.3 1063.8 L1753.3 1061.6 L1754.3 1059.4 L1755.3 1057.2 L1756.3 1055.0 L1757.3 1052.7 L1758.3 1050.5 L1759.3 1048.2 L1760.3 1045.9 L1761.3 1043.6 L1762.3 1041.3 L1763.3 1039.0 L1764.3 1036.6 L1765.3 1034.3 L1766.3 1031.9 L1767.3 1029.6 L1768.3 1027.2 L1769.3 1024.8 L1770.3 1022.4 L1771.3 1020.0 L1772.3 1017.5 L1773.3 1015.1 L1774.3 1012.7 L1775.3 1010.2 L1776.3 1007.7 L1777.3 1005.3 L1778.3 1002.8 L1779.3 1000.3 L1780.3 997.8 L1781.3 995.3 L1782.3 992.8 L1783.3 990.3 L1784.3 987.7 L1785.3 985.2 L1786.3 982.7 L1787.3 980.1 L1788.3 977.6 L1789.3 975.0 L1790.3 972.5 L1791.3 969.9 L1792.3 967.3 L1793.3 964.8 L1794.3 962.2 L1795.3 959.6 L1796.3 957.0 L1797.3 954.4 L1798.3 951.8 L1799.3 949.2 L1800.3 946.6 L1801.3 944.0 L1802.3 941.5 L1803.3 938.9 L1804.3 936.3 L1805.3 933.7 L1806.3 931.1 L1807.3 928.5 L1808.3 925.9 L1809.3 923.3 L1810.3 920.7 L1811.3 918.1 L1812.3 915.5 L1813.3 912.9 L1814.3 910.3 L1815.3 907.7 L1816.3 905.1 L1817.3 902.5 L1818.3 900.0 L1819.3 897.4 L1820.3 894.8 L1821.3 892.2 L1822.3 889.7 L1823.3 887.1 L1824.3 884.6 L1825.3 882.0 L1826.3 879.5 L1827.3 877.0 L1828.3 874.5 L1829.3 871.9 L1830.3 869.4 L1831.3 866.9 L1832.3 864.4 L1833.3 861.9 L1834.3 859.5 L1835.3 857.0 L1836.3 854.6 L1837.3 852.1 L1838.3 849.7 L1839.3 847.2 L1840.3 844.8 L1841.3 842.4 L1842.3 840.0 L1843.3 837.7 L1844.3 835.3 L1845.3 832.9 L1846.3 830.6 L1847.3 828.3 L1848.3 825.9 L1849.3 823.6 L1850.3 821.3 L1851.3 819.1 L1852.3 816.8 L1853.3 814.6 L1854.3 812.3 L1855.3 810.1 L1856.3 807.9 L1857.3 805.7 L1858.3 803.6 L1859.3 801.4 L1860.3 799.3 L1861.3 797.2 L1862.3 795.1 L1863.3 793.0 L1864.3 790.9 L1865.3 788.9 L1866.3 786.8 L1867.3 784.8 L1868.3 782.8 L1869.3 780.9 L1870.3 778.9 L1871.3 777.0 L1872.3 775.1 L1873.3 773.2 L1874.3 771.3 L1875.3 769.5 L1876.3 767.7 L1877.3 765.9 L1878.3 764.1 L1879.3 762.3 L1880.3 760.6 L1881.3 758.9 L1882.3 757.2 L1883.3 755.5 L1884.3 753.9 L1885.3 752.3 L1886.3 750.7 L1887.3 749.1 L1888.3 747.6 L1889.3 746.1 L1890.3 744.6 L1891.3 743.1 L1892.3 741.6 L1893.3 740.2 L1894.3 738.8 L1895.3 737.5 L1896.3 736.1 L1897.3 734.8 L1898.3 733.5 L1899.3 732.3 L1900.3 731.1 L1901.3 729.8 L1902.3 728.7 L1903.3 727.5 L1904.3 726.4 L1905.3 725.3 L1906.3 724.3 L1907.3 723.2 L1908.3 722.2 L1909.3 721.2 L1910.3 720.3 L1911.3 719.4 L1912.3 718.5 L1913.3 717.6 L1914.3 716.8 L1915.3 716.0 L1916.3 715.3 L1917.3 714.5 L1918.3 713.8 L1919.3 713.1 L1920.3 712.5 L1921.3 711.9 L1922.3 711.3 L1923.3 710.8 L1924.3 710.2 L1925.3 709.8 L1926.3 709.3 L1927.3 708.9 L1928.3 708.5 L1929.3 708.1 L1930.3 707.8 L1931.3 707.5 L1932.3 707.2 L1933.3 707.0 L1934.3 706.8 L1935.3 706.7 L1936.3 706.5 L1937.3 706.4 L1938.3 706.4 L1939.3 706.3 L1940.3 706.3 L1941.3 706.4 L1942.3 706.4 L1943.3 706.5 L1944.3 706.7 L1945.3 706.8 L1945.5 706.9"/>
<path stroke="#0000ff" stroke-dasharray="8.5 7" stroke-dashoffset="14.75" d="M235.3 875.8 L235.6 875.8 L235.8 875.8 L236.1 875.7 L236.3 875.7 L236.6 875.7 L236.8 875.7 L237.1 875.6 L237.3 875.6 L237.6 875.6 L237.8 875.5 L238.1 875.5 L238.3 875.5 L238.6 875.4 L238.8 875.4 L239.1 875.4 L239.3 875.3 L239.6 875.3 L239.8 875.3 L240.1 875.2 L240.3 875.2 L240.6 875.2 L240.8 875.1 L241.1 875.1 L241.3 875.1 L241.6 875.0 L241.8 875.0 L242.1 875.0 L242.3 874.9 L242.6 874.9 L242.8 874.8 L243.1 874.8 L243.3 874.8 L243.6 874.7 L243.8 874.7 L244.1 874.7 L244.3 874.6 L244.6 874.6 L244.8 874.5 L245.1 874.5 L245.3 874.5 L245.6 874.4 L245.8 874.4 L246.1 874.3 L246.3 874.3 L246.6 874.2 L246.8 874.2 L247.1 874.1 L247.3 874.1 L247.6 874.1 L247.8 874.0 L248.1 874.0 L248.3 873.9 L248.6 873.9 L248.8 873.8 L249.1 873.8 L249.3 873.7 L249.6 873.7 L249.8 873.6 L250.1 873.5 L250.3 873.5 L250.6 873.4 L250.8 873.4 L251.1 873.3 L251.3 873.3 L251.6 873.2 L251.8 873.1 L252.1 873.1 L252.3 873.0 L252.6 873.0 L252.8 872.9 L253.1 872.8 L253.3 872.8 L253.6 872.7 L253.8 872.6 L254.1 872.6 L254.3 872.5 L254.6 872.4 L254.8 872.4 L255.1 872.3 L255.3 872.2 L255.6 872.1 L255.8 872.1 L256.1 872.0 L256.3 871.9 L256.6 871.8 L256.8 871.7 L257.1 871.7 L257.3 871.6 L257.6 871.5 L257.8 871.4 L258.1 871.3 L258.3 871.2 L258.6 871.1 L258.8 871.0 L259.1 870.9 L259.3 870.8 L259.6 870.7 L259.8 870.6 L260.1 870.5 L260.3 870.4 L260.6 870.2 L260.8 870.1 L261.1 870.0 L261.3 869.9 L261.6 869.8 L261.8 869.7 L262.1 869.5 L262.3 869.4 L262.6 869.3 L262.8 869.2 L263.1 869.0 L263.3 868.9 L263.6 868.8 L263.8 868.7 L264.1 868.5 L264.3 868.4 L264.6 868.3 L264.8 868.1 L265.1 868.0 L265.3 867.9 L265.6 867.8 L265.8 867.6 L266.1 867.5 L266.3 867.4 L266.6 867.2 L266.8 867.1 L267.1 867.0 L267.3 866.9 L267.6 866.7 L267.8 866.6 L268.1 866.5 L268.3 866.3 L268.6 866.2 L268.8 866.1 L269.1 866.0 L269.3 865.9 L269.6 865.7 L269.8 865.6 L270.1 865.5 L270.3 865.4 L270.6 865.3 L270.8 865.1 L271.1 865.0 L271.3 864.9 L271.6 864.8 L271.8 864.7 L272.1 864.5 L272.3 864.4 L272.6 864.3 L272.8 864.2 L273.1 864.1 L273.3 864.0 L273.6 863.9 L273.8 863.7 L274.1 863.6 L274.3 863.5 L274.6 863.4 L274.8 863.3 L275.1 863.2 L275.3 863.0 L275.6 862.9 L275.8 862.8 L276.1 862.7 L276.3 862.6 L276.6 862.4 L276.8 862.3 L277.1 862.2 L277.3 862.1 L277.6 861.9 L277.8 861.8 L278.1 861.7 L278.3 861.5 L278.6 861.4 L278.8 861.3 L279.1 861.1 L279.3 861.0 L279.6 860.9 L279.8 860.7 L280.1 860.6 L280.3 860.4 L280.6 860.3 L280.8 860.1 L281.1 860.0 L281.3 859.8 L281.6 859.7 L281.8 859.5 L282.1 859.3 L282.3 859.2 L282.6 859.0 L282.8 858.8 L283.1 858.7 L283.3 858.5 L283.6 858.3 L283.8 858.1 L284.1 858.0 L284.3 857.8 L284.6 857.6 L284.8 857.4 L285.1 857.2 L285.3 856.9 L285.6 856.7 L285.8 856.5 L286.1 856.2 L286.3 856.0 L286.6 855.7 L286.8 855.4 L287.1 855.2 L287.3 854.9 L287.6 854.6 L287.8 854.3 L288.1 854.1 L288.3 853.8 L288.6 853.5 L288.8 853.2 L289.1 852.9 L289.3 852.6 L289.6 852.3 L289.8 852.0 L290.1 851.7 L290.3 851.4 L290.6 851.1 L290.8 850.8 L291.1 850.5 L291.3 850.2 L291.6 849.9 L291.8 849.6 L292.1 849.3 L292.3 849.0 L292.6 848.7 L292.8 848.4 L293.1 848.1 L293.3 847.8 L293.6 847.5 L293.8 847.2 L294.1 846.9 L294.3 846.7 L294.6 846.4 L294.8 846.1 L295.1 845.9 L295.3 845.6 L295.6 845.3 L295.8 845.1 L296.1 844.8 L296.3 844.5 L296.6 844.3 L296.8 844.0 L297.1 843.7 L297.3 843.5 L297.6 843.2 L297.8 842.9 L298.1 842.7 L298.3 842.4 L298.6 842.1 L298.8 841.9 L299.1 841.6 L299.3 841.3 L299.6 841.1 L299.8 840.8 L300.1 840.5 L300.3 840.3 L300.6 840.0 L300.8 839.7 L301.1 839.5 L301.3 839.2 L301.6 838.9 L301.8 838.6 L302.1 838.4 L302.3 838.1 L302.6 837.8 L302.8 837.5 L303.1 837.3 L303.3 837.0 L303.6 836.7 L303.8 836.4 L304.1 836.1 L304.3 835.8 L304.6 835.5 L304.8 835.2 L305.1 834.9 L305.3 834.6 L305.6 834.3 L305.8 834.0 L306.1 833.7 L306.3 833.4 L306.6 833.1 L306.8 832.8 L307.1 832.5 L307.3 832.2 L307.6 831.9 L307.8 831.6 L308.1 831.2 L308.3 830.9 L308.6 830.6 L308.8 830.3 L309.1 830.0 L309.3 829.6 L309.6 829.3 L309.8 829.0 L310.1 828.7 L310.3 828.3 L310.6 828.0 L310.8 827.7 L311.1 827.3 L311.3 827.0 L311.6 826.7 L311.8 826.3 L312.1 826.0 L312.3 825.7 L312.6 825.3 L312.8 825.0 L313.1 824.7 L313.3 824.3 L313.6 824.0 L313.8 823.6 L314.1 823.3 L314.3 823.0 L314.6 822.6 L314.8 822.3 L315.1 821.9 L315.3 821.6 L315.6 821.2 L315.8 820.9 L316.1 820.6 L316.3 820.2 L316.6 819.9 L316.8 819.5 L317.1 819.2 L317.3 818.9 L317.6 818.5 L317.8 818.2 L318.1 817.8 L318.3 817.5 L318.6 817.1 L318.8 816.8 L319.1 816.4 L319.3 816.1 L319.6 815.7 L319.8 815.4 L320.1 815.0 L320.3 814.7 L320.6 814.3 L320.8 813.9 L321.1 813.6 L321.3 813.2 L321.6 812.8 L321.8 812.4 L322.1 812.1 L322.3 811.7 L322.6 811.3 L322.8 810.9 L323.1 810.5 L323.3 810.1 L323.6 809.7 L323.8 809.3 L324.1 808.9 L324.3 808.5 L324.6 808.1 L324.8 807.7 L325.1 807.3 L325.3 806.9 L325.6 806.4 L325.8 806.0 L326.1 805.6 L326.3 805.2 L326.6 804.7 L326.8 804.3 L327.1 803.9 L327.3 803.4 L327.6 803.0 L327.8 802.5 L328.1 802.0 L328.3 801.6 L328.6 801.1 L328.8 800.6 L329.1 800.1 L329.3 799.6 L329.6 799.1 L329.8 798.6 L330.1 798.1 L330.3 797.5 L330.6 797.0 L330.8 796.4 L331.1 795.9 L331.3 795.3 L331.6 794.7 L331.8 794.1 L332.1 793.4 L332.3 792.8 L332.6 792.1 L332.8 791.4 L333.1 790.7 L333.3 790.0 L333.6 789.3 L333.8 788.6 L334.1 787.8 L334.3 787.1 L334.6 786.4 L334.8 785.6 L335.1 784.9 L335.3 784.1 L335.6 783.3 L335.8 782.6 L336.1 781.9 L336.3 781.1 L336.6 780.3 L336.8 779.6 L337.1 778.8 L337.3 778.0 L337.6 777.2 L337.8 776.4 L338.1 775.6 L338.3 774.8 L338.6 774.0 L338.8 773.2 L339.1 772.3 L339.3 771.5 L339.6 770.7 L339.8 769.9 L340.1 769.1 L340.3 768.3 L340.6 767.4 L340.8 766.6 L341.1 765.8 L341.3 765.0 L341.6 764.3 L341.8 763.5 L342.1 762.7 L342.3 761.9 L342.6 761.1 L342.8 760.3 L343.1 759.6 L343.3 758.8 L343.6 758.0 L343.8 757.2 L344.1 756.4 L344.3 755.6 L344.6 754.8 L344.8 754.0 L345.1 753.2 L345.3 752.4 L345.6 751.5 L345.8 750.7 L346.1 749.8 L346.3 749.0 L346.6 748.1 L346.8 747.2 L347.1 746.3 L347.3 745.5 L347.6 744.6 L347.8 743.7 L348.1 742.8 L348.3 741.8 L348.6 740.9 L348.8 740.0 L349.1 739.0 L349.3 738.0 L349.6 737.0 L349.8 736.0 L350.1 735.0 L350.3 734.0 L350.6 732.9 L350.8 731.8 L351.1 730.7 L351.3 729.5 L351.6 728.3 L351.8 727.1 L352.1 725.9 L352.3 724.7 L352.6 723.5 L352.8 722.3 L353.1 721.1 L353.3 719.9 L353.6 718.7 L353.8 717.4 L354.1 716.1 L354.3 714.8 L354.6 713.4 L354.8 712.1 L355.1 710.8 L355.3 709.5 L355.6 708.3 L355.8 707.2 L356.1 706.1 L356.3 705.1 L356.6 704.2 L356.8 703.4 L357.1 702.5 L357.3 701.6 L357.6 700.7 L357.8 699.8 L358.1 699.0 L358.3 698.1 L358.6 697.3 L358.8 696.5 L359.1 695.7 L359.3 694.9 L359.6 694.2 L359.8 693.5 L360.1 692.9 L360.3 692.3 L360.6 691.8 L360.8 691.3 L361.1 690.9 L361.3 690.6 L361.6 690.3 L361.8 690.1 L362.1 690.0 L362.3 690.0 L362.6 690.0 L362.8 690.1 L363.1 690.1 L363.3 690.2 L363.6 690.4 L363.8 690.5 L364.1 690.7 L364.3 690.9 L364.6 691.1 L364.8 691.3 L365.1 691.5 L365.3 691.8 L365.6 692.0 L365.8 692.3 L366.1 692.6 L366.3 692.9 L366.6 693.3 L366.8 693.6 L367.1 693.9 L367.3 694.3 L367.6 694.7 L367.8 695.0 L368.1 695.4 L368.3 695.8 L368.6 696.2 L368.8 696.6 L369.1 697.0 L369.3 697.4 L369.6 697.8 L369.8 698.2 L370.1 698.6 L370.3 699.0 L370.6 699.4 L370.8 699.8 L371.1 700.2 L371.3 700.6 L371.6 701.0 L371.8 701.4 L372.1 701.8 L372.3 702.2 L372.6 702.6 L372.8 703.1 L373.1 703.6 L373.3 704.0 L373.6 704.5 L373.8 705.0 L374.1 705.5 L374.3 706.1 L374.6 706.6 L374.8 707.2 L375.1 707.8 L375.3 708.4 L375.6 709.0 L375.8 709.6 L376.1 710.3 L376.3 710.9 L376.6 711.6 L376.8 712.3 L377.1 713.0 L377.3 713.8 L377.6 714.6 L377.8 715.4 L378.1 716.2 L378.3 717.2 L378.6 718.1 L378.8 719.2 L379.1 720.3 L379.3 721.4 L379.6 722.6 L379.8 723.8 L380.1 725.1 L380.3 726.4 L380.6 727.8 L380.8 729.2 L381.1 730.7 L381.3 732.3 L381.6 734.1 L381.8 736.0 L382.1 738.0 L382.3 740.1 L382.6 742.2 L382.8 744.3 L383.1 746.4 L383.3 748.6 L383.6 750.8 L383.8 753.1 L384.1 755.3 L384.3 757.5 L384.6 759.6 L384.8 761.6 L385.1 763.4 L385.3 765.3 L385.6 767.1 L385.8 768.8 L386.1 770.6 L386.3 772.3 L386.6 774.0 L386.8 775.7 L387.1 777.3 L387.3 779.0 L387.6 780.5 L387.8 782.1 L388.1 783.6 L388.3 785.1 L388.6 786.7 L388.8 788.2 L389.1 789.9 L389.3 791.6 L389.6 793.4 L389.8 795.3 L390.1 797.4 L390.3 799.5 L390.6 801.7 L390.8 803.8 L391.1 806.0 L391.3 808.0 L391.6 810.0 L391.8 811.9 L392.1 813.8 L392.3 815.7 L392.6 817.6 L392.8 819.4 L393.1 821.2 L393.3 823.0 L393.6 824.7 L393.8 826.3 L394.1 827.9 L394.3 829.4 L394.6 830.9 L394.8 832.5 L395.1 834.0 L395.3 835.6 L395.6 837.3 L395.8 839.0 L396.1 840.8 L396.3 842.7 L396.6 844.6 L396.8 846.6 L397.1 848.7 L397.3 850.7 L397.6 852.9 L397.8 855.0 L398.1 857.2 L398.3 859.4 L398.6 861.8 L398.8 864.1 L399.1 866.5 L399.3 869.0 L399.6 871.5 L399.8 874.0 L400.1 876.5 L400.3 879.2 L400.6 882.0 L400.8 885.0 L401.1 888.3 L401.3 891.9 L401.6 895.8 L401.8 900.0 L402.1 904.6 L402.3 909.7 L402.6 915.0 L402.8 920.2 L403.1 925.6 L403.3 930.9 L403.6 936.1 L403.8 941.3 L404.1 946.3 L404.3 950.7 L404.6 954.7 L404.8 958.5 L405.1 962.0 L405.3 965.3 L405.6 968.4 L405.8 971.4 L406.1 974.3 L406.3 977.0 L406.6 979.5 L406.8 982.1 L407.1 984.9 L407.3 987.7 L407.6 990.5 L407.8 993.1 L408.1 995.4 L408.3 997.4 L408.6 998.9 L408.8 999.8 L409.1 1000.0 L409.3 999.7 L409.6 999.1 L409.8 998.0 L410.1 996.7 L410.3 995.0 L410.6 992.9 L410.8 990.6 L411.1 988.0 L411.3 985.2 L411.6 982.1 L411.8 978.7 L412.1 975.2 L412.3 971.4 L412.6 967.5 L412.8 963.4 L413.1 959.1 L413.3 953.1 L413.6 945.1 L413.8 935.4 L414.1 924.6 L414.3 913.0 L414.6 901.0 L414.8 889.1 L415.1 877.8 L415.3 866.0 L415.6 853.5 L415.8 840.6 L416.1 827.4 L416.3 814.3 L416.6 801.5 L416.8 789.2 L417.1 777.8 L417.3 766.9 L417.6 756.5 L417.8 746.4 L418.1 736.5 L418.3 726.8 L418.6 717.1 L418.8 707.5 L419.1 697.8 L419.3 688.0 L419.6 678.0 L419.8 667.6 L420.1 656.9 L420.3 646.1 L420.6 635.3 L420.8 624.7 L421.1 614.4 L421.3 604.5 L421.6 595.2 L421.8 586.6 L422.1 578.5 L422.3 570.7 L422.6 563.3 L422.8 556.0 L423.1 549.0 L423.3 542.2 L423.6 535.4 L423.8 528.7 L424.1 522.1 L424.3 515.4 L424.6 508.6 L424.8 501.9 L425.1 495.2 L425.3 488.5 L425.6 481.9 L425.8 475.4 L426.1 468.9 L426.3 462.4 L426.6 456.0 L426.8 449.7 L427.1 443.4 L427.3 437.2 L427.6 431.0 L427.8 424.9 L428.1 418.8 L428.3 412.7 L428.6 406.7 L428.8 400.6 L429.1 394.6 L429.3 388.6 L429.6 382.7 L429.8 376.8 L430.1 371.0 L430.3 365.4 L430.6 359.8 L430.8 354.4 L431.1 349.1 L431.3 344.0 L431.6 339.0 L431.8 334.2 L432.1 329.4 L432.3 324.8 L432.6 320.2 L432.8 315.7 L433.1 311.3 L433.3 307.0 L433.6 302.8 L433.8 298.6 L434.1 294.6 L434.3 290.6 L434.6 286.8 L434.8 283.0 L435.1 279.3 L435.3 275.6 L435.6 272.1 L435.8 268.6 L436.1 265.1 L436.3 261.8 L436.6 258.5 L436.8 255.2 L437.1 252.1 L437.3 249.0 L437.6 245.9 L437.8 242.9 L438.1 240.0 L438.3 237.2 L438.6 234.4 L438.8 231.5 L439.1 228.4 L439.3 225.2 L439.6 222.0 L439.8 218.9 L440.1 216.0 L440.3 213.4 L440.6 211.2 L440.8 209.5 L441.1 208.4 L441.3 208.0 L441.6 208.1 L441.8 208.3 L442.1 208.7 L442.3 209.2 L442.6 209.9 L442.8 210.6 L443.1 211.6 L443.3 212.6 L443.6 213.7 L443.8 214.9 L444.1 216.2 L444.3 217.6 L444.6 219.1 L444.8 220.7 L445.1 222.3 L445.3 224.7 L445.6 227.8 L445.8 231.7 L446.1 236.2 L446.3 241.3 L446.6 246.9 L446.8 252.7 L447.1 258.8 L447.3 265.0 L447.6 271.3 L447.8 278.1 L448.1 285.8 L448.3 294.1 L448.6 303.0 L448.8 312.3 L449.1 322.0 L449.3 333.1 L449.6 345.4 L449.8 357.9 L450.1 369.8 L450.3 380.0 L450.6 388.7 L450.8 396.7 L451.1 404.1 L451.3 411.1 L451.6 417.9 L451.8 424.6 L452.1 431.3 L452.3 438.0 L452.6 444.4 L452.8 450.6 L453.1 456.7 L453.3 462.8 L453.6 468.9 L453.8 475.0 L454.1 481.2 L454.3 487.4 L454.6 493.5 L454.8 499.6 L455.1 505.7 L455.3 511.8 L455.6 518.1 L455.8 524.6 L456.1 531.4 L456.3 538.6 L456.6 546.3 L456.8 554.3 L457.1 562.4 L457.3 570.3 L457.6 577.9 L457.8 584.9 L458.1 591.2 L458.3 597.1 L458.6 602.7 L458.8 608.0 L459.1 613.2 L459.3 618.2 L459.6 623.0 L459.8 627.6 L460.1 632.1 L460.3 636.5 L460.6 640.9 L460.8 645.2 L461.1 649.4 L461.3 653.6 L461.6 657.7 L461.8 661.8 L462.1 665.7 L462.3 669.4 L462.6 673.1 L462.8 676.7 L463.1 680.3 L463.3 683.8 L463.6 687.1 L463.8 690.3 L464.1 693.4 L464.3 696.5 L464.6 699.5 L464.8 702.4 L465.1 705.2 L465.3 707.9 L465.6 710.5 L465.8 713.1 L466.1 715.5 L466.3 717.9 L466.6 720.2 L466.8 722.4 L467.1 724.6 L467.3 726.7 L467.6 728.7 L467.8 730.6 L468.1 732.4 L468.3 734.2 L468.6 735.8 L468.8 737.3 L469.1 738.7 L469.3 740.1 L469.6 741.3 L469.8 742.5 L470.1 743.5 L470.3 744.5 L470.6 745.4 L470.8 746.3 L471.1 747.1 L471.3 747.9 L471.6 748.6 L471.8 749.3 L472.1 750.0 L472.3 750.6 L472.6 751.3 L472.8 752.0 L473.1 752.7 L473.3 753.4 L473.6 754.1 L473.8 754.8 L474.1 755.5 L474.3 756.2 L474.6 756.9 L474.8 757.6 L475.1 758.3 L475.3 759.0 L475.6 759.7 L475.8 760.4 L476.1 761.1 L476.3 761.8 L476.6 762.6 L476.8 763.3 L477.1 764.0 L477.3 764.7 L477.6 765.4 L477.8 766.1 L478.1 766.9 L478.3 767.6 L478.6 768.3 L478.8 769.0 L479.1 769.8 L479.3 770.5 L479.6 771.2 L479.8 771.9 L480.1 772.7 L480.3 773.4 L480.6 774.2 L480.8 774.9 L481.1 775.6 L481.3 776.4 L481.6 777.1 L481.8 777.8 L482.1 778.6 L482.3 779.3 L482.6 780.1 L482.8 780.8 L483.1 781.6 L483.3 782.3 L483.6 783.1 L483.8 783.8 L484.1 784.6 L484.3 785.3 L484.6 786.1 L484.8 786.9 L485.1 787.6 L485.3 788.4 L485.6 789.1 L485.8 789.9 L486.1 790.7 L486.3 791.4 L486.6 792.2 L486.8 793.0 L487.1 793.7 L487.3 794.5 L487.6 795.3 L487.8 796.1 L488.1 796.8 L488.3 797.6 L488.6 798.4 L488.8 799.2 L489.1 799.9 L489.3 800.7 L489.6 801.5 L489.8 802.3 L490.1 803.1 L490.3 803.9 L490.6 804.6 L490.8 805.4 L491.1 806.2 L491.3 807.0 L491.6 807.8 L491.8 808.6 L492.1 809.4 L492.3 810.2 L492.6 811.0 L492.8 811.8 L493.1 812.6 L493.3 813.4 L493.6 814.2 L493.8 815.0 L494.1 815.8 L494.3 816.6 L494.6 817.4 L494.8 818.2 L495.1 819.0 L495.3 819.8 L495.6 820.6 L495.8 821.4 L496.1 822.2 L496.3 823.0 L496.6 823.9 L496.8 824.7 L497.1 825.5 L497.3 826.3 L497.6 827.1 L497.8 827.9 L498.1 828.8 L498.3 829.6 L498.6 830.4 L498.8 831.2 L499.1 832.0 L499.3 832.9 L499.6 833.7 L499.8 834.5 L500.1 835.3 L500.3 836.2 L500.6 837.0 L500.8 837.8 L501.1 838.7 L501.3 839.5 L501.6 840.3 L501.8 841.1 L502.1 842.0 L502.3 842.8 L502.6 843.7 L502.8 844.5 L503.1 845.3 L503.3 846.2 L503.6 847.0 L503.8 847.8 L504.1 848.7 L504.3 849.5 L504.6 850.4 L504.8 851.2 L505.1 852.1 L505.3 852.9 L505.6 853.7 L505.8 854.6 L506.1 855.4 L506.3 856.3 L506.6 857.1 L506.8 858.0 L507.1 858.8 L507.3 859.7 L507.6 860.5 L507.8 861.4 L508.1 862.2 L508.3 863.1 L508.6 864.0 L508.8 864.8 L509.1 865.7 L509.3 866.5 L509.6 867.4 L509.8 868.2 L510.1 869.1 L510.3 870.0 L510.6 870.8 L510.8 871.7 L511.1 872.5 L511.3 873.4 L511.6 874.3 L511.8 875.1 L512.0 876.0 L512.3 876.9 L512.5 877.7 L512.8 878.6 L513.0 879.5 L513.3 880.3 L513.5 881.2 L513.8 882.1 L514.0 882.9 L514.3 883.8 L514.5 884.7 L514.8 885.5 L515.0 886.4 L515.3 887.3 L515.5 888.2 L515.8 889.0 L516.0 889.9 L516.3 890.8 L516.5 891.6 L516.8 892.5 L517.0 893.4 L517.3 894.3 L517.5 895.2 L517.8 896.0 L518.0 896.9 L518.3 897.8 L518.5 898.7 L518.8 899.5 L519.0 900.4 L519.3 901.3 L519.5 902.2 L519.8 903.1 L520.0 903.9 L520.3 904.8 L520.5 905.7 L520.8 906.6 L521.0 907.5 L521.3 908.4 L521.5 909.2 L521.8 910.1 L522.0 911.0 L522.3 911.9 L522.5 912.8 L522.8 913.7 L523.0 914.6 L523.3 915.4 L523.5 916.3 L523.8 917.2 L524.0 918.1 L524.3 919.0 L524.5 919.9 L524.8 920.8 L525.0 921.7 L525.3 922.6 L525.5 923.4 L525.8 924.3 L526.0 925.2 L526.3 926.1 L526.5 927.0 L526.8 927.9 L527.0 928.8 L527.3 929.7 L527.5 930.6 L527.8 931.5 L528.0 932.4 L528.3 933.2 L528.5 934.1 L528.8 935.0 L529.0 935.9 L529.3 936.8 L529.5 937.7 L529.8 938.6 L530.0 939.5 L530.3 940.4 L530.5 941.3 L530.8 942.2 L531.0 943.1 L531.3 944.0 L531.5 944.9 L531.8 945.8 L532.0 946.7 L532.3 947.5 L532.5 948.4 L532.8 949.3 L533.0 950.2 L533.3 951.1 L533.5 952.0 L533.8 952.9 L534.0 953.8 L534.3 954.7 L534.5 955.6 L534.8 956.5 L535.0 957.4 L535.3 958.3 L535.5 959.2 L535.8 960.1 L536.0 961.0 L536.3 961.9 L536.5 962.8 L536.8 963.7 L537.0 964.6 L537.3 965.5 L537.5 966.4 L537.8 967.3 L538.0 968.2 L538.3 969.1 L538.5 970.0 L538.8 970.9 L539.0 971.7 L539.3 972.6 L539.5 973.5 L539.8 974.4 L540.0 975.3 L540.3 976.2 L540.5 977.1 L540.8 978.0 L541.0 978.9 L541.3 979.8 L541.5 980.7 L541.8 981.6 L542.0 982.5 L542.3 983.4 L542.5 984.3 L542.8 985.2 L543.0 986.1 L543.3 987.0 L543.5 987.9 L543.8 988.8 L544.0 989.7 L544.3 990.6 L544.5 991.4 L544.8 992.3 L545.0 993.2 L545.3 994.1 L545.5 995.0 L545.8 995.9 L546.0 996.8 L546.3 997.7 L546.5 998.6 L546.8 999.5 L547.0 1000.4 L547.3 1001.3 L547.5 1002.2 L547.8 1003.1 L548.0 1003.9 L548.3 1004.8 L548.5 1005.7 L548.8 1006.6 L549.0 1007.5 L549.3 1008.4 L549.5 1009.3 L549.8 1010.2 L550.0 1011.1 L550.3 1011.9 L550.5 1012.8 L550.8 1013.7 L551.0 1014.6 L551.3 1015.5 L551.5 1016.4 L551.8 1017.3 L552.0 1018.2 L552.3 1019.0 L552.5 1019.9 L552.8 1020.8 L553.0 1021.7 L553.3 1022.6 L553.5 1023.5 L553.8 1024.3 L554.0 1025.2 L554.3 1026.1 L554.5 1027.0 L554.8 1027.9 L555.0 1028.7 L555.3 1029.6 L555.5 1030.5 L555.8 1031.4 L556.0 1032.3 L556.3 1033.1 L556.5 1034.0 L556.8 1034.9 L557.0 1035.8 L557.3 1036.7 L557.5 1037.5 L557.8 1038.4 L558.0 1039.3 L558.3 1040.2 L558.5 1041.0 L558.8 1041.9 L559.0 1042.8 L559.3 1043.7 L559.5 1044.5 L559.8 1045.4 L560.0 1046.3 L560.3 1047.1 L560.5 1048.0 L560.8 1048.9 L561.0 1049.7 L561.3 1050.6 L561.5 1051.5 L561.8 1052.3 L562.0 1053.2 L562.3 1054.1 L562.5 1054.9 L562.8 1055.8 L563.0 1056.7 L563.3 1057.5 L563.5 1058.4 L563.8 1059.3 L564.0 1060.1 L564.3 1061.0 L564.5 1061.8 L564.8 1062.7 L565.0 1063.6 L565.3 1064.4 L565.5 1065.3 L565.8 1066.1 L566.0 1067.0 L566.3 1067.8 L566.5 1068.7 L566.8 1069.5 L567.0 1070.4 L567.3 1071.2 L567.5 1072.1 L567.8 1072.9 L568.0 1073.8 L568.3 1074.6 L568.5 1075.5 L568.8 1076.3 L569.0 1077.2 L569.3 1078.0 L569.5 1078.9 L569.8 1079.7 L570.0 1080.6 L570.3 1081.4 L570.5 1082.3 L570.8 1083.1 L571.0 1083.9 L571.3 1084.8 L571.5 1085.6 L571.8 1086.5 L572.0 1087.3 L572.3 1088.1 L572.5 1089.0 L572.8 1089.8 L573.0 1090.6 L573.3 1091.5 L573.5 1092.3 L573.8 1093.1 L574.0 1094.0 L574.3 1094.8 L574.5 1095.6 L574.8 1096.4 L575.0 1097.3 L575.3 1098.1 L575.5 1098.9 L575.8 1099.7 L576.0 1100.6 L576.3 1101.4 L576.5 1102.2 L576.8 1103.0 L577.0 1103.8 L577.3 1104.7 L577.5 1105.5 L577.8 1106.3 L578.0 1107.1 L578.3 1107.9 L578.5 1108.7 L578.8 1109.6 L579.0 1110.4 L579.3 1111.2 L579.5 1112.0 L579.8 1112.8 L580.0 1113.6 L580.3 1114.4 L580.5 1115.2 L580.8 1116.0 L581.0 1116.8 L581.3 1117.6 L581.5 1118.4 L581.8 1119.2 L582.0 1120.0 L582.3 1120.8 L582.5 1121.6 L582.8 1122.4 L583.0 1123.2 L583.3 1124.0 L583.5 1124.8 L583.8 1125.6 L584.0 1126.4 L584.3 1127.2 L584.5 1128.0 L584.8 1128.7 L585.0 1129.5 L585.3 1130.3 L585.5 1131.1 L585.8 1131.9 L586.0 1132.7 L586.3 1133.4 L586.5 1134.2 L586.8 1135.0 L587.0 1135.8 L587.3 1136.5 L587.5 1137.3 L587.8 1138.1 L588.0 1138.9 L588.3 1139.6 L588.5 1140.4 L588.8 1141.2 L589.0 1141.9 L589.3 1142.7 L589.5 1143.5 L589.8 1144.2 L590.0 1145.0 L590.3 1145.8 L590.5 1146.5 L590.8 1147.3 L591.0 1148.0 L591.3 1148.8 L591.5 1149.5 L591.8 1150.3 L592.0 1151.1 L592.3 1151.8 L592.5 1152.6 L592.8 1153.3 L593.0 1154.1 L593.3 1154.8 L593.5 1155.5 L593.8 1156.3 L594.0 1157.0 L594.3 1157.8 L594.5 1158.5 L594.8 1159.2 L595.0 1160.0 L595.3 1160.7 L595.5 1161.5 L595.8 1162.2 L596.0 1162.9 L596.3 1163.7 L596.5 1164.4 L596.8 1165.1 L597.0 1165.8 L597.3 1166.6 L597.5 1167.3 L597.8 1168.0 L598.0 1168.7 L598.3 1169.4 L598.5 1170.2 L598.8 1170.9 L599.0 1171.6 L599.3 1172.3 L599.5 1173.0 L599.8 1173.7 L600.3 1175.2 L601.3 1178.0 L602.3 1180.8 L603.3 1183.5 L604.3 1186.3 L605.3 1189.0 L606.3 1191.7 L607.3 1194.4 L608.3 1197.0 L609.3 1199.7 L610.3 1202.3 L611.3 1204.9 L612.3 1207.4 L613.3 1209.9 L614.3 1212.4 L615.3 1214.9 L616.3 1217.4 L617.3 1219.8 L618.3 1222.2 L619.3 1224.5 L620.3 1226.9 L621.3 1229.2 L622.3 1231.5 L623.3 1233.7 L624.3 1235.9 L625.3 1238.1 L626.3 1240.3 L627.3 1242.4 L628.3 1244.6 L629.3 1246.6 L630.3 1248.7 L631.3 1250.7 L632.3 1252.7 L633.3 1254.7 L634.3 1256.6 L635.3 1258.5 L636.3 1260.4 L637.3 1262.2 L638.3 1264.0 L639.3 1265.8 L640.3 1267.5 L641.3 1269.3 L642.3 1270.9 L643.3 1272.6 L644.3 1274.2 L645.3 1275.8 L646.3 1277.4 L647.3 1278.9 L648.3 1280.4 L649.3 1281.8 L650.3 1283.3 L651.3 1284.6 L652.3 1286.0 L653.3 1287.3 L654.3 1288.6 L655.3 1289.9 L656.3 1291.1 L657.3 1292.3 L658.3 1293.5 L659.3 1294.6 L660.3 1295.7 L661.3 1296.8 L662.3 1297.8 L663.3 1298.8 L664.3 1299.8 L665.3 1300.7 L666.3 1301.6 L667.3 1302.5 L668.3 1303.3 L669.3 1304.1 L670.3 1304.8 L671.3 1305.6 L672.3 1306.3 L673.3 1306.9 L674.3 1307.6 L675.3 1308.2 L676.3 1308.7 L677.3 1309.2 L678.3 1309.7 L679.3 1310.2 L680.3 1310.6 L681.3 1311.0 L682.3 1311.4 L683.3 1311.7 L684.3 1312.0 L685.3 1312.2 L686.3 1312.4 L687.3 1312.6 L688.3 1312.8 L689.3 1312.9 L690.3 1313.0 L691.3 1313.0 L692.3 1313.1 L693.3 1313.1 L694.3 1313.0 L695.3 1312.9 L696.3 1312.8 L697.3 1312.7 L698.3 1312.5 L699.3 1312.3 L700.3 1312.1 L701.3 1311.8 L702.3 1311.5 L703.3 1311.1 L704.3 1310.8 L705.3 1310.4 L706.3 1309.9 L707.3 1309.5 L708.3 1309.0 L709.3 1308.4 L710.3 1307.9 L711.3 1307.3 L712.3 1306.6 L713.3 1306.0 L714.3 1305.3 L715.3 1304.6 L716.3 1303.8 L717.3 1303.1 L718.3 1302.2 L719.3 1301.4 L720.3 1300.5 L721.3 1299.6 L722.3 1298.7 L723.3 1297.8 L724.3 1296.8 L725.3 1295.8 L726.3 1294.7 L727.3 1293.6 L728.3 1292.5 L729.3 1291.4 L730.3 1290.2 L731.3 1289.1 L732.3 1287.8 L733.3 1286.6 L734.3 1285.3 L735.3 1284.0 L736.3 1282.7 L737.3 1281.4 L738.3 1280.0 L739.3 1278.6 L740.3 1277.2 L741.3 1275.7 L742.3 1274.2 L743.3 1272.7 L744.3 1271.2 L745.3 1269.6 L746.3 1268.1 L747.3 1266.5 L748.3 1264.8 L749.3 1263.2 L750.3 1261.5 L751.3 1259.8 L752.3 1258.1 L753.3 1256.3 L754.3 1254.6 L755.3 1252.8 L756.3 1251.0 L757.3 1249.1 L758.3 1247.3 L759.3 1245.4 L760.3 1243.5 L761.3 1241.6 L762.3 1239.7 L763.3 1237.7 L764.3 1235.7 L765.3 1233.7 L766.3 1231.7 L767.3 1229.7 L768.3 1227.6 L769.3 1225.6 L770.3 1223.5 L771.3 1221.4 L772.3 1219.2 L773.3 1217.1 L774.3 1214.9 L775.3 1212.8 L776.3 1210.6 L777.3 1208.4 L778.3 1206.2 L779.3 1203.9 L780.3 1201.7 L781.3 1199.4 L782.3 1197.1 L783.3 1194.8 L784.3 1192.5 L785.3 1190.2 L786.3 1187.8 L787.3 1185.5 L788.3 1183.1 L789.3 1180.8 L790.3 1178.4 L791.3 1176.0 L792.3 1173.6 L793.3 1171.2 L794.3 1168.7 L795.3 1166.3 L796.3 1163.8 L797.3 1161.4 L798.3 1158.9 L799.3 1156.4 L800.3 1153.9 L801.3 1151.4 L802.3 1148.9 L803.3 1146.4 L804.3 1143.9 L805.3 1141.4 L806.3 1138.8 L807.3 1136.3 L808.3 1133.8 L809.3 1131.2 L810.3 1128.7 L811.3 1126.1 L812.3 1123.5 L813.3 1121.0 L814.3 1118.4 L815.3 1115.8 L816.3 1113.2 L817.3 1110.6 L818.3 1108.0 L819.3 1105.5 L820.3 1102.9 L821.3 1100.3 L822.3 1097.7 L823.3 1095.1 L824.3 1092.5 L825.3 1089.9 L826.3 1087.3 L827.3 1084.7 L828.3 1082.1 L829.3 1079.5 L830.3 1076.9 L831.3 1074.3 L832.3 1071.7 L833.3 1069.1 L834.3 1066.5 L835.3 1063.9 L836.3 1061.3 L837.3 1058.7 L838.3 1056.2 L839.3 1053.6 L840.3 1051.0 L841.3 1048.4 L842.3 1045.9 L843.3 1043.3 L844.3 1040.8 L845.3 1038.2 L846.3 1035.7 L847.3 1033.1 L848.3 1030.6 L849.3 1028.1 L850.3 1025.6 L851.3 1023.1 L852.3 1020.6 L853.3 1018.1 L854.3 1015.6 L855.3 1013.1 L856.3 1010.6 L857.3 1008.2 L858.3 1005.7 L859.3 1003.3 L860.3 1000.9 L861.3 998.4 L862.3 996.0 L863.3 993.6 L864.3 991.2 L865.3 988.9 L866.3 986.5 L867.3 984.1 L868.3 981.8 L869.3 979.5 L870.3 977.1 L871.3 974.8 L872.3 972.5 L873.3 970.3 L874.3 968.0 L875.3 965.7 L876.3 963.5 L877.3 961.3 L878.3 959.1 L879.3 956.9 L880.3 954.7 L881.3 952.5 L882.3 950.4 L883.3 948.2 L884.3 946.1 L885.3 944.0 L886.3 941.9 L887.3 939.8 L888.3 937.8 L889.3 935.7 L890.3 933.7 L891.3 931.7 L892.3 929.7 L893.3 927.7 L894.3 925.8 L895.3 923.8 L896.3 921.9 L897.3 920.0 L898.3 918.1 L899.3 916.3 L900.3 914.4 L901.3 912.6 L902.3 910.8 L903.3 909.0 L904.3 907.2 L905.3 905.5 L906.3 903.7 L907.3 902.0 L908.3 900.3 L909.3 898.7 L910.3 897.0 L911.3 895.4 L912.3 893.8 L913.3 892.2 L914.3 890.6 L915.3 889.0 L916.3 887.5 L917.3 886.0 L918.3 884.5 L919.3 883.1 L920.3 881.6 L921.3 880.2 L922.3 878.8 L923.3 877.4 L924.3 876.0 L925.3 874.7 L926.3 873.4 L927.3 872.1 L928.3 870.8 L929.3 869.6 L930.3 868.3 L931.3 867.1 L932.3 866.0 L933.3 864.8 L934.3 863.7 L935.3 862.5 L936.3 861.4 L937.3 860.4 L938.3 859.3 L939.3 858.3 L940.3 857.3 L941.3 856.3 L942.3 855.4 L943.3 854.4 L944.3 853.5 L945.3 852.6 L946.3 851.8 L947.3 850.9 L948.3 850.1 L949.3 849.3 L950.3 848.5 L951.3 847.8 L952.3 847.0 L953.3 846.3 L954.3 845.6 L955.3 845.0 L956.3 844.3 L957.3 843.7 L958.3 843.1 L959.3 842.6 L960.3 842.0 L961.3 841.5 L962.3 841.0 L963.3 840.5 L964.3 840.1 L965.3 839.6 L966.3 839.2 L967.3 838.8 L968.3 838.5 L969.3 838.1 L970.3 837.8 L971.3 837.5 L972.3 837.2 L973.3 837.0 L974.3 836.8 L975.3 836.6 L976.3 836.4 L977.3 836.2 L978.3 836.1 L979.3 835.9 L980.3 835.8 L981.3 835.8 L982.3 835.7 L983.3 835.7 L984.3 835.7 L985.3 835.7 L986.3 835.7 L987.3 835.7 L988.3 835.8 L989.3 835.9 L990.3 836.0 L991.3 836.2 L992.3 836.3 L993.3 836.5 L994.3 836.7 L995.3 836.9 L996.3 837.1 L997.3 837.4 L998.3 837.7 L999.3 838.0 L1000.3 838.3 L1001.3 838.6 L1002.3 839.0 L1003.3 839.3 L1004.3 839.7 L1005.3 840.1 L1006.3 840.6 L1007.3 841.0 L1008.3 841.5 L1009.3 841.9 L1010.3 842.5 L1011.3 843.0 L1012.3 843.5 L1013.3 844.1 L1014.3 844.6 L1015.3 845.2 L1016.3 845.8 L1017.3 846.4 L1018.3 847.1 L1019.3 847.7 L1020.3 848.4 L1021.3 849.1 L1022.3 849.8 L1023.3 850.5 L1024.3 851.3 L1025.3 852.0 L1026.3 852.8 L1027.3 853.6 L1028.3 854.4 L1029.3 855.2 L1030.3 856.0 L1031.3 856.8 L1032.3 857.7 L1033.3 858.6 L1034.3 859.4 L1035.3 860.3 L1036.3 861.2 L1037.3 862.2 L1038.3 863.1 L1039.3 864.0 L1040.3 865.0 L1041.3 866.0 L1042.3 866.9 L1043.3 867.9 L1044.3 868.9 L1045.3 870.0 L1046.3 871.0 L1047.3 872.0 L1048.3 873.1 L1049.3 874.1 L1050.3 875.2 L1051.3 876.3 L1052.3 877.4 L1053.3 878.5 L1054.3 879.6 L1055.3 880.7 L1056.3 881.9 L1057.3 883.0 L1058.3 884.1 L1059.3 885.3 L1060.3 886.5 L1061.3 887.6 L1062.3 888.8 L1063.3 890.0 L1064.3 891.2 L1065.3 892.4 L1066.3 893.6 L1067.3 894.8 L1068.3 896.0 L1069.3 897.3 L1070.3 898.5 L1071.3 899.7 L1072.3 901.0 L1073.3 902.2 L1074.3 903.5 L1075.3 904.7 L1076.3 906.0 L1077.3 907.3 L1078.3 908.5 L1079.3 909.8 L1080.3 911.1 L1081.3 912.4 L1082.3 913.6 L1083.3 914.9 L1084.3 916.2 L1085.3 917.5 L1086.3 918.8 L1087.3 920.1 L1088.3 921.4 L1089.3 922.7 L1090.3 924.0 L1091.3 925.3 L1092.3 926.6 L1093.3 927.9 L1094.3 929.2 L1095.3 930.5 L1096.3 931.8 L1097.3 933.1 L1098.3 934.5 L1099.3 935.8 L1100.3 937.1 L1101.3 938.4 L1102.3 939.7 L1103.3 941.0 L1104.3 942.3 L1105.3 943.6 L1106.3 944.9 L1107.3 946.2 L1108.3 947.4 L1109.3 948.7 L1110.3 950.0 L1111.3 951.3 L1112.3 952.6 L1113.3 953.9 L1114.3 955.1 L1115.3 956.4 L1116.3 957.7 L1117.3 958.9 L1118.3 960.2 L1119.3 961.4 L1120.3 962.7 L1121.3 963.9 L1122.3 965.1 L1123.3 966.4 L1124.3 967.6 L1125.3 968.8 L1126.3 970.0 L1127.3 971.2 L1128.3 972.4 L1129.3 973.6 L1130.3 974.8 L1131.3 976.0 L1132.3 977.2 L1133.3 978.4 L1134.3 979.5 L1135.3 980.7 L1136.3 981.8 L1137.3 983.0 L1138.3 984.1 L1139.3 985.2 L1140.3 986.3 L1141.3 987.4 L1142.3 988.5 L1143.3 989.6 L1144.3 990.7 L1145.3 991.8 L1146.3 992.8 L1147.3 993.9 L1148.3 994.9 L1149.3 995.9 L1150.3 997.0 L1151.3 998.0 L1152.3 999.0 L1153.3 1000.0 L1154.3 1001.0 L1155.3 1001.9 L1156.3 1002.9 L1157.3 1003.9 L1158.3 1004.8 L1159.3 1005.7 L1160.3 1006.7 L1161.3 1007.6 L1162.3 1008.5 L1163.3 1009.4 L1164.3 1010.2 L1165.3 1011.1 L1166.3 1011.9 L1167.3 1012.8 L1168.3 1013.6 L1169.3 1014.4 L1170.3 1015.2 L1171.3 1016.0 L1172.3 1016.8 L1173.3 1017.6 L1174.3 1018.4 L1175.3 1019.1 L1176.3 1019.8 L1177.3 1020.6 L1178.3 1021.3 L1179.3 1022.0 L1180.3 1022.7 L1181.3 1023.3 L1182.3 1024.0 L1183.3 1024.6 L1184.3 1025.3 L1185.3 1025.9 L1186.3 1026.5 L1187.3 1027.1 L1188.3 1027.7 L1189.3 1028.3 L1190.3 1028.8 L1191.3 1029.4 L1192.3 1029.9 L1193.3 1030.4 L1194.3 1030.9 L1195.3 1031.4 L1196.3 1031.9 L1197.3 1032.4 L1198.3 1032.8 L1199.3 1033.3 L1200.3 1033.7 L1201.3 1034.1 L1202.3 1034.5 L1203.3 1034.9 L1204.3 1035.3 L1205.3 1035.6 L1206.3 1036.0 L1207.3 1036.3 L1208.3 1036.6 L1209.3 1037.0 L1210.3 1037.2 L1211.3 1037.5 L1212.3 1037.8 L1213.3 1038.1 L1214.3 1038.3 L1215.3 1038.5 L1216.3 1038.8 L1217.3 1039.0 L1218.3 1039.2 L1219.3 1039.3 L1220.3 1039.5 L1221.3 1039.7 L1222.3 1039.8 L1223.3 1039.9 L1224.3 1040.0 L1225.3 1040.1 L1226.3 1040.2 L1227.3 1040.3 L1228.3 1040.4 L1229.3 1040.4 L1230.3 1040.5 L1231.3 1040.5 L1232.3 1040.5 L1233.3 1040.5 L1234.3 1040.5 L1235.3 1040.5 L1236.3 1040.5 L1237.3 1040.4 L1238.3 1040.4 L1239.3 1040.3 L1240.3 1040.2 L1241.3 1040.2 L1242.3 1040.1 L1243.3 1039.9 L1244.3 1039.8 L1245.3 1039.7 L1246.3 1039.5 L1247.3 1039.4 L1248.3 1039.2 L1249.3 1039.1 L1250.3 1038.9 L1251.3 1038.7 L1252.3 1038.5 L1253.3 1038.2 L1254.3 1038.0 L1255.3 1037.8 L1256.3 1037.5 L1257.3 1037.3 L1258.3 1037.0 L1259.3 1036.7 L1260.3 1036.5 L1261.3 1036.2 L1262.3 1035.9 L1263.3 1035.6 L1264.3 1035.2 L1265.3 1034.9 L1266.3 1034.6 L1267.3 1034.2 L1268.3 1033.9 L1269.3 1033.5 L1270.3 1033.1 L1271.3 1032.8 L1272.3 1032.4 L1273.3 1032.0 L1274.3 1031.6 L1275.3 1031.2 L1276.3 1030.8 L1277.3 1030.3 L1278.3 1029.9 L1279.3 1029.5 L1280.3 1029.0 L1281.3 1028.6 L1282.3 1028.1 L1283.3 1027.7 L1284.3 1027.2 L1285.3 1026.7 L1286.3 1026.3 L1287.3 1025.8 L1288.3 1025.3 L1289.3 1024.8 L1290.3 1024.3 L1291.3 1023.8 L1292.3 1023.3 L1293.3 1022.8 L1294.3 1022.3 L1295.3 1021.7 L1296.3 1021.2 L1297.3 1020.7 L1298.3 1020.2 L1299.3 1019.6 L1300.3 1019.1 L1301.3 1018.5 L1302.3 1018.0 L1303.3 1017.5 L1304.3 1016.9 L1305.3 1016.4 L1306.3 1015.8 L1307.3 1015.3 L1308.3 1014.7 L1309.3 1014.1 L1310.3 1013.6 L1311.3 1013.0 L1312.3 1012.5 L1313.3 1011.9 L1314.3 1011.3 L1315.3 1010.8 L1316.3 1010.2 L1317.3 1009.6 L1318.3 1009.1 L1319.3 1008.5 L1320.3 1008.0 L1321.3 1007.4 L1322.3 1006.8 L1323.3 1006.3 L1324.3 1005.7 L1325.3 1005.2 L1326.3 1004.6 L1327.3 1004.0 L1328.3 1003.5 L1329.3 1002.9 L1330.3 1002.4 L1331.3 1001.8 L1332.3 1001.3 L1333.3 1000.8 L1334.3 1000.2 L1335.3 999.7 L1336.3 999.1 L1337.3 998.6 L1338.3 998.1 L1339.3 997.6 L1340.3 997.0 L1341.3 996.5 L1342.3 996.0 L1343.3 995.5 L1344.3 995.0 L1345.3 994.5 L1346.3 994.0 L1347.3 993.5 L1348.3 993.1 L1349.3 992.6 L1350.3 992.1 L1351.3 991.6 L1352.3 991.2 L1353.3 990.7 L1354.3 990.3 L1355.3 989.8 L1356.3 989.4 L1357.3 989.0 L1358.3 988.6 L1359.3 988.2 L1360.3 987.7 L1361.3 987.3 L1362.3 987.0 L1363.3 986.6 L1364.3 986.2 L1365.3 985.8 L1366.3 985.5 L1367.3 985.1 L1368.3 984.8 L1369.3 984.4 L1370.3 984.1 L1371.3 983.8 L1372.3 983.5 L1373.3 983.2 L1374.3 982.9 L1375.3 982.6 L1376.3 982.3 L1377.3 982.1 L1378.3 981.8 L1379.3 981.6 L1380.3 981.3 L1381.3 981.1 L1382.3 980.9 L1383.3 980.7 L1384.3 980.5 L1385.3 980.3 L1386.3 980.1 L1387.3 980.0 L1388.3 979.8 L1389.3 979.7 L1390.3 979.6 L1391.3 979.4 L1392.3 979.3 L1393.3 979.2 L1394.3 979.1 L1395.3 979.1 L1396.3 979.0 L1397.3 979.0 L1398.3 978.9 L1399.3 978.9 L1400.3 978.9 L1401.3 978.9 L1402.3 978.9 L1403.3 978.9 L1404.3 978.9 L1405.3 979.0 L1406.3 979.0 L1407.3 979.1 L1408.3 979.2 L1409.3 979.3 L1410.3 979.4 L1411.3 979.5 L1412.3 979.6 L1413.3 979.8 L1414.3 979.9 L1415.3 980.1 L1416.3 980.3 L1417.3 980.5 L1418.3 980.7 L1419.3 980.9 L1420.3 981.1 L1421.3 981.4 L1422.3 981.6 L1423.3 981.9 L1424.3 982.2 L1425.3 982.5 L1426.3 982.8 L1427.3 983.1 L1428.3 983.5 L1429.3 983.8 L1430.3 984.2 L1431.3 984.6 L1432.3 985.0 L1433.3 985.4 L1434.3 985.8 L1435.3 986.2 L1436.3 986.7 L1437.3 987.1 L1438.3 987.6 L1439.3 988.1 L1440.3 988.6 L1441.3 989.1 L1442.3 989.6 L1443.3 990.1 L1444.3 990.7 L1445.3 991.2 L1446.3 991.8 L1447.3 992.4 L1448.3 993.0 L1449.3 993.6 L1450.3 994.2 L1451.3 994.9 L1452.3 995.5 L1453.3 996.2 L1454.3 996.9 L1455.3 997.6 L1456.3 998.3 L1457.3 999.0 L1458.3 999.7 L1459.3 1000.4 L1460.3 1001.2 L1461.3 1001.9 L1462.3 1002.7 L1463.3 1003.5 L1464.3 1004.3 L1465.3 1005.1 L1466.3 1005.9 L1467.3 1006.8 L1468.3 1007.6 L1469.3 1008.5 L1470.3 1009.3 L1471.3 1010.2 L1472.3 1011.1 L1473.3 1012.0 L1474.3 1012.9 L1475.3 1013.8 L1476.3 1014.8 L1477.3 1015.7 L1478.3 1016.7 L1479.3 1017.6 L1480.3 1018.6 L1481.3 1019.6 L1482.3 1020.6 L1483.3 1021.6 L1484.3 1022.6 L1485.3 1023.7 L1486.3 1024.7 L1487.3 1025.7 L1488.3 1026.8 L1489.3 1027.8 L1490.3 1028.9 L1491.3 1030.0 L1492.3 1031.1 L1493.3 1032.2 L1494.3 1033.3 L1495.3 1034.4 L1496.3 1035.5 L1497.3 1036.7 L1498.3 1037.8 L1499.3 1039.0 L1500.3 1040.1 L1501.3 1041.3 L1502.3 1042.4 L1503.3 1043.6 L1504.3 1044.8 L1505.3 1046.0 L1506.3 1047.2 L1507.3 1048.4 L1508.3 1049.6 L1509.3 1050.8 L1510.3 1052.0 L1511.3 1053.3 L1512.3 1054.5 L1513.3 1055.7 L1514.3 1057.0 L1515.3 1058.2 L1516.3 1059.5 L1517.3 1060.7 L1518.3 1062.0 L1519.3 1063.2 L1520.3 1064.5 L1521.3 1065.8 L1522.3 1067.1 L1523.3 1068.3 L1524.3 1069.6 L1525.3 1070.9 L1526.3 1072.2 L1527.3 1073.5 L1528.3 1074.8 L1529.3 1076.1 L1530.3 1077.4 L1531.3 1078.7 L1532.3 1080.0 L1533.3 1081.3 L1534.3 1082.6 L1535.3 1083.9 L1536.3 1085.2 L1537.3 1086.5 L1538.3 1087.8 L1539.3 1089.1 L1540.3 1090.4 L1541.3 1091.7 L1542.3 1093.0 L1543.3 1094.3 L1544.3 1095.6 L1545.3 1096.9 L1546.3 1098.2 L1547.3 1099.5 L1548.3 1100.8 L1549.3 1102.1 L1550.3 1103.4 L1551.3 1104.7 L1552.3 1106.0 L1553.3 1107.3 L1554.3 1108.6 L1555.3 1109.8 L1556.3 1111.1 L1557.3 1112.4 L1558.3 1113.7 L1559.3 1114.9 L1560.3 1116.2 L1561.3 1117.4 L1562.3 1118.7 L1563.3 1119.9 L1564.3 1121.2 L1565.3 1122.4 L1566.3 1123.6 L1567.3 1124.8 L1568.3 1126.0 L1569.3 1127.2 L1570.3 1128.4 L1571.3 1129.6 L1572.3 1130.8 L1573.3 1132.0 L1574.3 1133.2 L1575.3 1134.3 L1576.3 1135.5 L1577.3 1136.6 L1578.3 1137.8 L1579.3 1138.9 L1580.3 1140.0 L1581.3 1141.1 L1582.3 1142.2 L1583.3 1143.3 L1584.3 1144.4 L1585.3 1145.5 L1586.3 1146.5 L1587.3 1147.6 L1588.3 1148.6 L1589.3 1149.6 L1590.3 1150.6 L1591.3 1151.6 L1592.3 1152.6 L1593.3 1153.6 L1594.3 1154.6 L1595.3 1155.5 L1596.3 1156.5 L1597.3 1157.4 L1598.3 1158.3 L1599.3 1159.2 L1600.3 1160.1 L1601.3 1161.0 L1602.3 1161.9 L1603.3 1162.7 L1604.3 1163.6 L1605.3 1164.4 L1606.3 1165.2 L1607.3 1166.0 L1608.3 1166.8 L1609.3 1167.5 L1610.3 1168.3 L1611.3 1169.0 L1612.3 1169.7 L1613.3 1170.4 L1614.3 1171.1 L1615.3 1171.8 L1616.3 1172.4 L1617.3 1173.1 L1618.3 1173.7 L1619.3 1174.3 L1620.3 1174.9 L1621.3 1175.4 L1622.3 1176.0 L1623.3 1176.5 L1624.3 1177.0 L1625.3 1177.5 L1626.3 1178.0 L1627.3 1178.5 L1628.3 1178.9 L1629.3 1179.4 L1630.3 1179.8 L1631.3 1180.1 L1632.3 1180.5 L1633.3 1180.9 L1634.3 1181.2 L1635.3 1181.5 L1636.3 1181.8 L1637.3 1182.1 L1638.3 1182.3 L1639.3 1182.5 L1640.3 1182.8 L1641.3 1182.9 L1642.3 1183.1 L1643.3 1183.3 L1644.3 1183.4 L1645.3 1183.5 L1646.3 1183.6 L1647.3 1183.7 L1648.3 1183.7 L1649.3 1183.7 L1650.3 1183.7 L1651.3 1183.7 L1652.3 1183.7 L1653.3 1183.6 L1654.3 1183.5 L1655.3 1183.4 L1656.3 1183.3 L1657.3 1183.2 L1658.3 1183.0 L1659.3 1182.8 L1660.3 1182.6 L1661.3 1182.4 L1662.3 1182.1 L1663.3 1181.8 L1664.3 1181.5 L1665.3 1181.2 L1666.3 1180.9 L1667.3 1180.5 L1668.3 1180.1 L1669.3 1179.7 L1670.3 1179.2 L1671.3 1178.8 L1672.3 1178.3 L1673.3 1177.8 L1674.3 1177.3 L1675.3 1176.7 L1676.3 1176.1 L1677.3 1175.5 L1678.3 1174.9 L1679.3 1174.3 L1680.3 1173.6 L1681.3 1172.9 L1682.3 1172.2 L1683.3 1171.5 L1684.3 1170.7 L1685.3 1170.0 L1686.3 1169.2 L1687.3 1168.3 L1688.3 1167.5 L1689.3 1166.6 L1690.3 1165.7 L1691.3 1164.8 L1692.3 1163.9 L1693.3 1162.9 L1694.3 1161.9 L1695.3 1160.9 L1696.3 1159.9 L1697.3 1158.8 L1698.3 1157.7 L1699.3 1156.7 L1700.3 1155.5 L1701.3 1154.4 L1702.3 1153.2 L1703.3 1152.0 L1704.3 1150.8 L1705.3 1149.6 L1706.3 1148.3 L1707.3 1147.1 L1708.3 1145.8 L1709.3 1144.4 L1710.3 1143.1 L1711.3 1141.7 L1712.3 1140.4 L1713.3 1138.9 L1714.3 1137.5 L1715.3 1136.1 L1716.3 1134.6 L1717.3 1133.1 L1718.3 1131.6 L1719.3 1130.1 L1720.3 1128.5 L1721.3 1126.9 L1722.3 1125.3 L1723.3 1123.7 L1724.3 1122.1 L1725.3 1120.4 L1726.3 1118.7 L1727.3 1117.0 L1728.3 1115.3 L1729.3 1113.6 L1730.3 1111.8 L1731.3 1110.1 L1732.3 1108.3 L1733.3 1106.5 L1734.3 1104.6 L1735.3 1102.8 L1736.3 1100.9 L1737.3 1099.0 L1738.3 1097.1 L1739.3 1095.2 L1740.3 1093.2 L1741.3 1091.3 L1742.3 1089.3 L1743.3 1087.3 L1744.3 1085.3 L1745.3 1083.3 L1746.3 1081.2 L1747.3 1079.2 L1748.3 1077.1 L1749.3 1075.0 L1750.3 1072.9 L1751.3 1070.8 L1752.3 1068.6 L1753.3 1066.5 L1754.3 1064.3 L1755.3 1062.1 L1756.3 1059.9 L1757.3 1057.7 L1758.3 1055.5 L1759.3 1053.2 L1760.3 1051.0 L1761.3 1048.7 L1762.3 1046.4 L1763.3 1044.1 L1764.3 1041.8 L1765.3 1039.5 L1766.3 1037.2 L1767.3 1034.8 L1768.3 1032.5 L1769.3 1030.1 L1770.3 1027.7 L1771.3 1025.3 L1772.3 1022.9 L1773.3 1020.5 L1774.3 1018.1 L1775.3 1015.6 L1776.3 1013.2 L1777.3 1010.7 L1778.3 1008.3 L1779.3 1005.8 L1780.3 1003.3 L1781.3 1000.9 L1782.3 998.4 L1783.3 995.9 L1784.3 993.3 L1785.3 990.8 L1786.3 988.3 L1787.3 985.8 L1788.3 983.2 L1789.3 980.7 L1790.3 978.1 L1791.3 975.6 L1792.3 973.0 L1793.3 970.5 L1794.3 967.9 L1795.3 965.3 L1796.3 962.8 L1797.3 960.2 L1798.3 957.6 L1799.3 955.0 L1800.3 952.4 L1801.3 949.8 L1802.3 947.2 L1803.3 944.6 L1804.3 942.0 L1805.3 939.4 L1806.3 936.8 L1807.3 934.2 L1808.3 931.6 L1809.3 929.0 L1810.3 926.4 L1811.3 923.8 L1812.3 921.2 L1813.3 918.6 L1814.3 916.0 L1815.3 913.5 L1816.3 910.9 L1817.3 908.3 L1818.3 905.7 L1819.3 903.1 L1820.3 900.5 L1821.3 898.0 L1822.3 895.4 L1823.3 892.8 L1824.3 890.3 L1825.3 887.7 L1826.3 885.2 L1827.3 882.6 L1828.3 880.1 L1829.3 877.5 L1830.3 875.0 L1831.3 872.5 L1832.3 870.0 L1833.3 867.5 L1834.3 865.0 L1835.3 862.5 L1836.3 860.0 L1837.3 857.6 L1838.3 855.1 L1839.3 852.7 L1840.3 850.2 L1841.3 847.8 L1842.3 845.4 L1843.3 843.0 L1844.3 840.6 L1845.3 838.2 L1846.3 835.8 L1847.3 833.5 L1848.3 831.1 L1849.3 828.8 L1850.3 826.4 L1851.3 824.1 L1852.3 821.8 L1853.3 819.6 L1854.3 817.3 L1855.3 815.1 L1856.3 812.8 L1857.3 810.6 L1858.3 808.4 L1859.3 806.2 L1860.3 804.0 L1861.3 801.9 L1862.3 799.7 L1863.3 797.6 L1864.3 795.5 L1865.3 793.4 L1866.3 791.4 L1867.3 789.3 L1868.3 787.3 L1869.3 785.3 L1870.3 783.3 L1871.3 781.3 L1872.3 779.4 L1873.3 777.4 L1874.3 775.5 L1875.3 773.6 L1876.3 771.8 L1877.3 769.9 L1878.3 768.1 L1879.3 766.3 L1880.3 764.5 L1881.3 762.7 L1882.3 761.0 L1883.3 759.3 L1884.3 757.6 L1885.3 755.9 L1886.3 754.3 L1887.3 752.6 L1888.3 751.0 L1889.3 749.5 L1890.3 747.9 L1891.3 746.4 L1892.3 744.9 L1893.3 743.4 L1894.3 742.0 L1895.3 740.5 L1896.3 739.1 L1897.3 737.8 L1898.3 736.4 L1899.3 735.1 L1900.3 733.8 L1901.3 732.6 L1902.3 731.3 L1903.3 730.1 L1904.3 728.9 L1905.3 727.8 L1906.3 726.7 L1907.3 725.6 L1908.3 724.5 L1909.3 723.5 L1910.3 722.4 L1911.3 721.5 L1912.3 720.5 L1913.3 719.6 L1914.3 718.7 L1915.3 717.8 L1916.3 717.0 L1917.3 716.2 L1918.3 715.4 L1919.3 714.7 L1920.3 714.0 L1921.3 713.3 L1922.3 712.6 L1923.3 712.0 L1924.3 711.4 L1925.3 710.9 L1926.3 710.3 L1927.3 709.9 L1928.3 709.4 L1929.3 709.0 L1930.3 708.6 L1931.3 708.2 L1932.3 707.9 L1933.3 707.6 L1934.3 707.3 L1935.3 707.1 L1936.3 706.9 L1937.3 706.7 L1938.3 706.6 L1939.3 706.4 L1940.3 706.4 L1941.3 706.3 L1942.3 706.3 L1943.3 706.4 L1944.3 706.4 L1945.3 706.5 L1945.5 706.5"/>
<path stroke="#ff00ff" stroke-dasharray="24 7 9 7" stroke-dashoffset="33.25" d="M235.3 931.0 L235.6 931.0 L235.8 931.0 L236.1 931.0 L236.3 931.0 L236.6 931.0 L236.8 931.0 L237.1 931.0 L237.3 931.0 L237.6 931.0 L237.8 931.0 L238.1 931.0 L238.3 931.0 L238.6 930.9 L238.8 930.9 L239.1 930.9 L239.3 930.9 L239.6 930.9 L239.8 930.9 L240.1 930.9 L240.3 930.9 L240.6 930.9 L240.8 930.9 L241.1 930.9 L241.3 930.9 L241.6 930.9 L241.8 930.9 L242.1 930.9 L242.3 930.9 L242.6 930.9 L242.8 930.9 L243.1 930.9 L243.3 930.8 L243.6 930.8 L243.8 930.8 L244.1 930.8 L244.3 930.8 L244.6 930.8 L244.8 930.8 L245.1 930.8 L245.3 930.8 L245.6 930.8 L245.8 930.8 L246.1 930.8 L246.3 930.8 L246.6 930.7 L246.8 930.7 L247.1 930.7 L247.3 930.7 L247.6 930.7 L247.8 930.7 L248.1 930.7 L248.3 930.7 L248.6 930.6 L248.8 930.6 L249.1 930.6 L249.3 930.6 L249.6 930.6 L249.8 930.6 L250.1 930.5 L250.3 930.5 L250.6 930.5 L250.8 930.5 L251.1 930.5 L251.3 930.5 L251.6 930.4 L251.8 930.4 L252.1 930.4 L252.3 930.4 L252.6 930.3 L252.8 930.3 L253.1 930.3 L253.3 930.3 L253.6 930.3 L253.8 930.2 L254.1 930.2 L254.3 930.2 L254.6 930.2 L254.8 930.1 L255.1 930.1 L255.3 930.1 L255.6 930.0 L255.8 930.0 L256.1 930.0 L256.3 930.0 L256.6 929.9 L256.8 929.9 L257.1 929.9 L257.3 929.8 L257.6 929.8 L257.8 929.7 L258.1 929.7 L258.3 929.7 L258.6 929.6 L258.8 929.6 L259.1 929.5 L259.3 929.5 L259.6 929.4 L259.8 929.4 L260.1 929.3 L260.3 929.3 L260.6 929.2 L260.8 929.1 L261.1 929.1 L261.3 929.0 L261.6 929.0 L261.8 928.9 L262.1 928.8 L262.3 928.8 L262.6 928.7 L262.8 928.6 L263.1 928.6 L263.3 928.5 L263.6 928.4 L263.8 928.3 L264.1 928.3 L264.3 928.2 L264.6 928.1 L264.8 928.1 L265.1 928.0 L265.3 927.9 L265.6 927.8 L265.8 927.8 L266.1 927.7 L266.3 927.6 L266.6 927.5 L266.8 927.5 L267.1 927.4 L267.3 927.3 L267.6 927.2 L267.8 927.2 L268.1 927.1 L268.3 927.0 L268.6 926.9 L268.8 926.9 L269.1 926.8 L269.3 926.7 L269.6 926.6 L269.8 926.6 L270.1 926.5 L270.3 926.4 L270.6 926.3 L270.8 926.3 L271.1 926.2 L271.3 926.1 L271.6 926.0 L271.8 926.0 L272.1 925.9 L272.3 925.8 L272.6 925.7 L272.8 925.7 L273.1 925.6 L273.3 925.5 L273.6 925.4 L273.8 925.4 L274.1 925.3 L274.3 925.2 L274.6 925.1 L274.8 925.1 L275.1 925.0 L275.3 924.9 L275.6 924.8 L275.8 924.8 L276.1 924.7 L276.3 924.6 L276.6 924.5 L276.8 924.4 L277.1 924.4 L277.3 924.3 L277.6 924.2 L277.8 924.1 L278.1 924.0 L278.3 923.9 L278.6 923.9 L278.8 923.8 L279.1 923.7 L279.3 923.6 L279.6 923.5 L279.8 923.4 L280.1 923.3 L280.3 923.2 L280.6 923.1 L280.8 923.1 L281.1 923.0 L281.3 922.9 L281.6 922.8 L281.8 922.7 L282.1 922.6 L282.3 922.5 L282.6 922.4 L282.8 922.3 L283.1 922.2 L283.3 922.1 L283.6 922.0 L283.8 921.9 L284.1 921.8 L284.3 921.7 L284.6 921.6 L284.8 921.5 L285.1 921.4 L285.3 921.3 L285.6 921.1 L285.8 921.0 L286.1 920.9 L286.3 920.8 L286.6 920.7 L286.8 920.6 L287.1 920.5 L287.3 920.3 L287.6 920.2 L287.8 920.1 L288.1 920.0 L288.3 919.8 L288.6 919.7 L288.8 919.6 L289.1 919.4 L289.3 919.3 L289.6 919.2 L289.8 919.0 L290.1 918.8 L290.3 918.7 L290.6 918.5 L290.8 918.4 L291.1 918.2 L291.3 918.0 L291.6 917.8 L291.8 917.7 L292.1 917.5 L292.3 917.3 L292.6 917.1 L292.8 916.9 L293.1 916.8 L293.3 916.6 L293.6 916.4 L293.8 916.2 L294.1 916.0 L294.3 915.8 L294.6 915.6 L294.8 915.4 L295.1 915.2 L295.3 915.0 L295.6 914.9 L295.8 914.7 L296.1 914.5 L296.3 914.3 L296.6 914.1 L296.8 913.9 L297.1 913.7 L297.3 913.5 L297.6 913.3 L297.8 913.1 L298.1 913.0 L298.3 912.8 L298.6 912.6 L298.8 912.4 L299.1 912.2 L299.3 912.0 L299.6 911.9 L299.8 911.7 L300.1 911.5 L300.3 911.3 L300.6 911.1 L300.8 910.9 L301.1 910.7 L301.3 910.5 L301.6 910.4 L301.8 910.2 L302.1 910.0 L302.3 909.8 L302.6 909.6 L302.8 909.4 L303.1 909.2 L303.3 909.0 L303.6 908.8 L303.8 908.6 L304.1 908.4 L304.3 908.2 L304.6 908.0 L304.8 907.9 L305.1 907.7 L305.3 907.5 L305.6 907.3 L305.8 907.1 L306.1 906.9 L306.3 906.7 L306.6 906.5 L306.8 906.3 L307.1 906.1 L307.3 905.9 L307.6 905.7 L307.8 905.5 L308.1 905.3 L308.3 905.1 L308.6 904.9 L308.8 904.7 L309.1 904.5 L309.3 904.3 L309.6 904.1 L309.8 903.9 L310.1 903.7 L310.3 903.5 L310.6 903.4 L310.8 903.2 L311.1 903.0 L311.3 902.8 L311.6 902.6 L311.8 902.4 L312.1 902.2 L312.3 902.0 L312.6 901.8 L312.8 901.6 L313.1 901.4 L313.3 901.2 L313.6 901.1 L313.8 900.9 L314.1 900.7 L314.3 900.5 L314.6 900.3 L314.8 900.1 L315.1 899.9 L315.3 899.8 L315.6 899.6 L315.8 899.4 L316.1 899.2 L316.3 899.0 L316.6 898.8 L316.8 898.7 L317.1 898.5 L317.3 898.3 L317.6 898.1 L317.8 897.9 L318.1 897.7 L318.3 897.5 L318.6 897.3 L318.8 897.2 L319.1 897.0 L319.3 896.8 L319.6 896.6 L319.8 896.4 L320.1 896.2 L320.3 896.0 L320.6 895.8 L320.8 895.6 L321.1 895.4 L321.3 895.2 L321.6 895.0 L321.8 894.8 L322.1 894.6 L322.3 894.4 L322.6 894.2 L322.8 893.9 L323.1 893.7 L323.3 893.5 L323.6 893.3 L323.8 893.1 L324.1 892.8 L324.3 892.6 L324.6 892.4 L324.8 892.2 L325.1 891.9 L325.3 891.7 L325.6 891.4 L325.8 891.2 L326.1 891.0 L326.3 890.7 L326.6 890.4 L326.8 890.2 L327.1 889.9 L327.3 889.6 L327.6 889.3 L327.8 889.0 L328.1 888.7 L328.3 888.4 L328.6 888.1 L328.8 887.8 L329.1 887.5 L329.3 887.2 L329.6 886.9 L329.8 886.6 L330.1 886.3 L330.3 885.9 L330.6 885.6 L330.8 885.3 L331.1 885.0 L331.3 884.7 L331.6 884.3 L331.8 884.0 L332.1 883.7 L332.3 883.4 L332.6 883.1 L332.8 882.7 L333.1 882.4 L333.3 882.1 L333.6 881.8 L333.8 881.5 L334.1 881.2 L334.3 880.9 L334.6 880.6 L334.8 880.3 L335.1 880.0 L335.3 879.7 L335.6 879.4 L335.8 879.2 L336.1 878.9 L336.3 878.6 L336.6 878.3 L336.8 878.0 L337.1 877.7 L337.3 877.4 L337.6 877.1 L337.8 876.8 L338.1 876.5 L338.3 876.2 L338.6 875.9 L338.8 875.6 L339.1 875.3 L339.3 875.0 L339.6 874.7 L339.8 874.3 L340.1 874.0 L340.3 873.7 L340.6 873.4 L340.8 873.1 L341.1 872.7 L341.3 872.4 L341.6 872.1 L341.8 871.7 L342.1 871.4 L342.3 871.0 L342.6 870.7 L342.8 870.3 L343.1 869.9 L343.3 869.6 L343.6 869.2 L343.8 868.8 L344.1 868.4 L344.3 868.0 L344.6 867.6 L344.8 867.2 L345.1 866.8 L345.3 866.4 L345.6 866.0 L345.8 865.6 L346.1 865.2 L346.3 864.8 L346.6 864.3 L346.8 863.9 L347.1 863.5 L347.3 863.0 L347.6 862.6 L347.8 862.1 L348.1 861.7 L348.3 861.2 L348.6 860.8 L348.8 860.3 L349.1 859.8 L349.3 859.4 L349.6 858.9 L349.8 858.4 L350.1 857.9 L350.3 857.4 L350.6 856.9 L350.8 856.4 L351.1 855.9 L351.3 855.4 L351.6 854.9 L351.8 854.4 L352.1 853.9 L352.3 853.4 L352.6 852.8 L352.8 852.3 L353.1 851.8 L353.3 851.2 L353.6 850.7 L353.8 850.1 L354.1 849.5 L354.3 849.0 L354.6 848.4 L354.8 847.8 L355.1 847.2 L355.3 846.6 L355.6 845.9 L355.8 845.3 L356.1 844.6 L356.3 843.9 L356.6 843.3 L356.8 842.6 L357.1 841.9 L357.3 841.1 L357.6 840.4 L357.8 839.6 L358.1 838.8 L358.3 837.9 L358.6 837.1 L358.8 836.2 L359.1 835.4 L359.3 834.5 L359.6 833.5 L359.8 832.6 L360.1 831.7 L360.3 830.7 L360.6 829.8 L360.8 828.8 L361.1 827.8 L361.3 826.8 L361.6 825.7 L361.8 824.6 L362.1 823.5 L362.3 822.4 L362.6 821.2 L362.8 820.0 L363.1 818.8 L363.3 817.7 L363.6 816.5 L363.8 815.3 L364.1 814.1 L364.3 813.0 L364.6 811.9 L364.8 810.8 L365.1 809.8 L365.3 808.8 L365.6 807.8 L365.8 806.8 L366.1 805.8 L366.3 804.8 L366.6 803.8 L366.8 802.8 L367.1 801.9 L367.3 800.9 L367.6 800.0 L367.8 799.1 L368.1 798.2 L368.3 797.3 L368.6 796.5 L368.8 795.7 L369.1 794.8 L369.3 794.1 L369.6 793.3 L369.8 792.5 L370.1 791.8 L370.3 791.1 L370.6 790.4 L370.8 789.7 L371.1 789.1 L371.3 788.4 L371.6 787.7 L371.8 787.1 L372.1 786.4 L372.3 785.7 L372.6 785.1 L372.8 784.4 L373.1 783.7 L373.3 783.0 L373.6 782.3 L373.8 781.6 L374.1 780.9 L374.3 780.1 L374.6 779.3 L374.8 778.6 L375.1 777.8 L375.3 777.0 L375.6 776.2 L375.8 775.4 L376.1 774.6 L376.3 773.8 L376.6 773.0 L376.8 772.2 L377.1 771.4 L377.3 770.5 L377.6 769.7 L377.8 768.9 L378.1 768.1 L378.3 767.3 L378.6 766.5 L378.8 765.6 L379.1 764.8 L379.3 764.0 L379.6 763.2 L379.8 762.4 L380.1 761.5 L380.3 760.7 L380.6 759.8 L380.8 759.0 L381.1 758.1 L381.3 757.3 L381.6 756.4 L381.8 755.6 L382.1 754.8 L382.3 754.1 L382.6 753.3 L382.8 752.6 L383.1 751.9 L383.3 751.2 L383.6 750.5 L383.8 749.9 L384.1 749.3 L384.3 748.7 L384.6 748.1 L384.8 747.5 L385.1 746.9 L385.3 746.4 L385.6 745.8 L385.8 745.3 L386.1 744.7 L386.3 744.2 L386.6 743.6 L386.8 743.1 L387.1 742.5 L387.3 741.9 L387.6 741.4 L387.8 740.8 L388.1 740.2 L388.3 739.6 L388.6 739.0 L388.8 738.3 L389.1 737.7 L389.3 737.0 L389.6 736.3 L389.8 735.6 L390.1 734.9 L390.3 734.1 L390.6 733.4 L390.8 732.6 L391.1 731.8 L391.3 731.0 L391.6 730.2 L391.8 729.4 L392.1 728.6 L392.3 727.7 L392.6 726.9 L392.8 726.1 L393.1 725.2 L393.3 724.3 L393.6 723.5 L393.8 722.6 L394.1 721.7 L394.3 720.9 L394.6 720.0 L394.8 719.1 L395.1 718.2 L395.3 717.4 L395.6 716.5 L395.8 715.6 L396.1 714.8 L396.3 713.9 L396.6 713.0 L396.8 712.1 L397.1 711.2 L397.3 710.2 L397.6 709.2 L397.8 708.2 L398.1 707.1 L398.3 706.0 L398.6 704.8 L398.8 703.5 L399.1 702.1 L399.3 700.7 L399.6 699.2 L399.8 697.7 L400.1 696.1 L400.3 694.5 L400.6 692.9 L400.8 691.3 L401.1 689.7 L401.3 688.0 L401.6 686.2 L401.8 684.4 L402.1 682.5 L402.3 680.7 L402.6 679.0 L402.8 677.3 L403.1 675.7 L403.3 674.2 L403.6 672.8 L403.8 671.5 L404.1 670.1 L404.3 668.8 L404.6 667.6 L404.8 666.3 L405.1 665.1 L405.3 663.8 L405.6 662.5 L405.8 661.1 L406.1 659.7 L406.3 658.3 L406.6 656.9 L406.8 655.4 L407.1 654.0 L407.3 652.5 L407.6 651.0 L407.8 649.5 L408.1 647.9 L408.3 646.3 L408.6 644.7 L408.8 642.9 L409.1 641.0 L409.3 639.1 L409.6 637.1 L409.8 635.2 L410.1 633.2 L410.3 631.4 L410.6 629.7 L410.8 628.1 L411.1 626.5 L411.3 625.1 L411.6 623.6 L411.8 622.2 L412.1 620.7 L412.3 619.2 L412.6 617.7 L412.8 616.0 L413.1 614.2 L413.3 612.3 L413.6 610.3 L413.8 608.3 L414.1 606.2 L414.3 604.2 L414.6 602.4 L414.8 600.6 L415.1 598.7 L415.3 596.9 L415.6 595.0 L415.8 593.2 L416.1 591.4 L416.3 589.7 L416.6 588.1 L416.8 586.5 L417.1 585.1 L417.3 583.9 L417.6 582.8 L417.8 581.8 L418.1 580.7 L418.3 579.7 L418.6 578.7 L418.8 577.7 L419.1 576.7 L419.3 575.8 L419.6 574.9 L419.8 574.0 L420.1 573.2 L420.3 572.5 L420.6 571.9 L420.8 571.3 L421.1 570.8 L421.3 570.5 L421.6 570.2 L421.8 570.0 L422.1 570.0 L422.3 570.1 L422.6 570.2 L422.8 570.5 L423.1 570.8 L423.3 571.2 L423.6 571.6 L423.8 572.2 L424.1 572.7 L424.3 573.4 L424.6 574.1 L424.8 574.8 L425.1 575.6 L425.3 576.4 L425.6 577.3 L425.8 578.2 L426.1 579.1 L426.3 580.0 L426.6 581.0 L426.8 581.9 L427.1 582.9 L427.3 583.8 L427.6 584.8 L427.8 585.7 L428.1 586.7 L428.3 587.6 L428.6 588.5 L428.8 589.3 L429.1 590.2 L429.3 591.0 L429.6 591.8 L429.8 592.6 L430.1 593.5 L430.3 594.3 L430.6 595.2 L430.8 596.1 L431.1 597.0 L431.3 597.9 L431.6 598.8 L431.8 599.8 L432.1 600.7 L432.3 601.8 L432.6 602.8 L432.8 603.8 L433.1 604.9 L433.3 606.1 L433.6 607.2 L433.8 608.4 L434.1 609.7 L434.3 611.0 L434.6 612.3 L434.8 613.7 L435.1 615.2 L435.3 616.7 L435.6 618.3 L435.8 620.0 L436.1 621.7 L436.3 623.5 L436.6 625.4 L436.8 627.4 L437.1 629.7 L437.3 632.1 L437.6 634.6 L437.8 637.3 L438.1 640.0 L438.3 642.8 L438.6 645.6 L438.8 648.5 L439.1 651.5 L439.3 654.7 L439.6 658.0 L439.8 661.3 L440.1 664.7 L440.3 668.2 L440.6 671.8 L440.8 675.5 L441.1 679.3 L441.3 683.0 L441.6 686.7 L441.8 690.7 L442.1 694.9 L442.3 699.0 L442.6 702.8 L442.8 706.0 L443.1 708.4 L443.3 710.5 L443.6 712.6 L443.8 714.5 L444.1 716.3 L444.3 717.9 L444.6 719.4 L444.8 720.5 L445.1 721.4 L445.3 721.9 L445.6 722.0 L445.8 721.5 L446.1 720.5 L446.3 718.9 L446.6 717.0 L446.8 714.7 L447.1 712.2 L447.3 709.5 L447.6 706.8 L447.8 704.1 L448.1 701.5 L448.3 698.6 L448.6 695.3 L448.8 691.7 L449.1 688.0 L449.3 684.3 L449.6 680.7 L449.8 677.4 L450.1 674.4 L450.3 671.8 L450.6 669.3 L450.8 666.9 L451.1 664.6 L451.3 662.4 L451.6 660.2 L451.8 657.9 L452.1 655.6 L452.3 653.2 L452.6 650.5 L452.8 647.7 L453.1 644.5 L453.3 641.1 L453.6 637.7 L453.8 634.5 L454.1 631.6 L454.3 629.0 L454.6 626.4 L454.8 623.8 L455.1 621.1 L455.3 618.7 L455.6 616.4 L455.8 614.5 L456.1 613.1 L456.3 612.2 L456.6 612.0 L456.8 612.0 L457.1 612.1 L457.3 612.2 L457.6 612.3 L457.8 612.5 L458.1 612.6 L458.3 612.9 L458.6 613.1 L458.8 613.3 L459.1 613.6 L459.3 613.9 L459.6 614.2 L459.8 614.5 L460.1 614.8 L460.3 615.1 L460.6 615.4 L460.8 615.7 L461.1 616.1 L461.3 616.4 L461.6 616.8 L461.8 617.3 L462.1 617.8 L462.3 618.3 L462.6 618.8 L462.8 619.4 L463.1 620.0 L463.3 620.6 L463.6 621.3 L463.8 621.9 L464.1 622.6 L464.3 623.2 L464.6 623.9 L464.8 624.5 L465.1 625.1 L465.3 625.7 L465.6 626.3 L465.8 626.9 L466.1 627.5 L466.3 628.1 L466.6 628.7 L466.8 629.3 L467.1 629.9 L467.3 630.6 L467.6 631.2 L467.8 631.8 L468.1 632.5 L468.3 633.2 L468.6 633.9 L468.8 634.6 L469.1 635.4 L469.3 636.2 L469.6 637.0 L469.8 637.8 L470.1 638.7 L470.3 639.6 L470.6 640.6 L470.8 641.7 L471.1 643.0 L471.3 644.4 L471.6 645.8 L471.8 647.4 L472.1 648.9 L472.3 650.5 L472.6 652.1 L472.8 653.6 L473.1 655.1 L473.3 656.5 L473.6 657.8 L473.8 659.0 L474.1 660.1 L474.3 661.2 L474.6 662.3 L474.8 663.3 L475.1 664.4 L475.3 665.4 L475.6 666.4 L475.8 667.4 L476.1 668.4 L476.3 669.4 L476.6 670.4 L476.8 671.4 L477.1 672.5 L477.3 673.6 L477.6 674.7 L477.8 675.8 L478.1 676.9 L478.3 678.0 L478.6 679.2 L478.8 680.3 L479.1 681.5 L479.3 682.7 L479.6 683.8 L479.8 685.0 L480.1 686.3 L480.3 687.5 L480.6 688.8 L480.8 690.1 L481.1 691.4 L481.3 692.8 L481.6 694.2 L481.8 695.6 L482.1 697.0 L482.3 698.4 L482.6 699.7 L482.8 701.0 L483.1 702.2 L483.3 703.4 L483.6 704.6 L483.8 705.7 L484.1 706.8 L484.3 707.9 L484.6 709.0 L484.8 710.0 L485.1 711.1 L485.3 712.1 L485.6 713.1 L485.8 714.2 L486.1 715.2 L486.3 716.2 L486.6 717.3 L486.8 718.4 L487.1 719.4 L487.3 720.6 L487.6 721.7 L487.8 722.8 L488.1 724.0 L488.3 725.2 L488.6 726.3 L488.8 727.5 L489.1 728.7 L489.3 729.9 L489.6 731.1 L489.8 732.2 L490.1 733.4 L490.3 734.5 L490.6 735.7 L490.8 736.8 L491.1 738.0 L491.3 739.1 L491.6 740.2 L491.8 741.4 L492.1 742.5 L492.3 743.6 L492.6 744.7 L492.8 745.8 L493.1 746.8 L493.3 747.8 L493.6 748.8 L493.8 749.8 L494.1 750.7 L494.3 751.6 L494.6 752.4 L494.8 753.3 L495.1 754.1 L495.3 754.9 L495.6 755.7 L495.8 756.5 L496.1 757.3 L496.3 758.1 L496.6 759.0 L496.8 759.8 L497.1 760.7 L497.3 761.6 L497.6 762.6 L497.8 763.6 L498.1 764.6 L498.3 765.6 L498.6 766.6 L498.8 767.7 L499.1 768.8 L499.3 769.8 L499.6 770.9 L499.8 772.0 L500.1 773.1 L500.3 774.2 L500.6 775.4 L500.8 776.5 L501.1 777.7 L501.3 778.9 L501.6 780.1 L501.8 781.3 L502.1 782.5 L502.3 783.7 L502.6 784.9 L502.8 786.0 L503.1 787.2 L503.3 788.4 L503.6 789.5 L503.8 790.6 L504.1 791.7 L504.3 792.8 L504.6 793.8 L504.8 794.8 L505.1 795.8 L505.3 796.7 L505.6 797.7 L505.8 798.6 L506.1 799.5 L506.3 800.4 L506.6 801.3 L506.8 802.2 L507.1 803.1 L507.3 804.0 L507.6 804.8 L507.8 805.7 L508.1 806.5 L508.3 807.4 L508.6 808.2 L508.8 809.1 L509.1 809.9 L509.3 810.7 L509.6 811.6 L509.8 812.4 L510.1 813.3 L510.3 814.1 L510.6 815.0 L510.8 815.9 L511.1 816.8 L511.3 817.6 L511.6 818.5 L511.8 819.4 L512.0 820.3 L512.3 821.3 L512.5 822.2 L512.8 823.1 L513.0 824.0 L513.3 824.9 L513.5 825.8 L513.8 826.8 L514.0 827.7 L514.3 828.6 L514.5 829.5 L514.8 830.4 L515.0 831.4 L515.3 832.3 L515.5 833.2 L515.8 834.1 L516.0 835.1 L516.3 836.0 L516.5 836.9 L516.8 837.8 L517.0 838.7 L517.3 839.6 L517.5 840.5 L517.8 841.4 L518.0 842.3 L518.3 843.2 L518.5 844.1 L518.8 845.0 L519.0 845.9 L519.3 846.8 L519.5 847.7 L519.8 848.6 L520.0 849.5 L520.3 850.3 L520.5 851.2 L520.8 852.1 L521.0 853.0 L521.3 853.9 L521.5 854.8 L521.8 855.7 L522.0 856.6 L522.3 857.5 L522.5 858.5 L522.8 859.4 L523.0 860.3 L523.3 861.2 L523.5 862.2 L523.8 863.2 L524.0 864.1 L524.3 865.1 L524.5 866.1 L524.8 867.1 L525.0 868.2 L525.3 869.2 L525.5 870.2 L525.8 871.3 L526.0 872.3 L526.3 873.4 L526.5 874.4 L526.8 875.4 L527.0 876.5 L527.3 877.5 L527.5 878.5 L527.8 879.5 L528.0 880.5 L528.3 881.5 L528.5 882.5 L528.8 883.4 L529.0 884.4 L529.3 885.3 L529.5 886.2 L529.8 887.0 L530.0 887.9 L530.3 888.7 L530.5 889.5 L530.8 890.4 L531.0 891.1 L531.3 891.9 L531.5 892.7 L531.8 893.5 L532.0 894.2 L532.3 895.0 L532.5 895.7 L532.8 896.5 L533.0 897.2 L533.3 897.9 L533.5 898.7 L533.8 899.4 L534.0 900.2 L534.3 900.9 L534.5 901.7 L534.8 902.5 L535.0 903.3 L535.3 904.1 L535.5 904.9 L535.8 905.8 L536.0 906.6 L536.3 907.5 L536.5 908.4 L536.8 909.3 L537.0 910.2 L537.3 911.2 L537.5 912.1 L537.8 913.1 L538.0 914.1 L538.3 915.0 L538.5 916.0 L538.8 917.0 L539.0 918.0 L539.3 919.0 L539.5 920.1 L539.8 921.1 L540.0 922.2 L540.3 923.2 L540.5 924.3 L540.8 925.3 L541.0 926.4 L541.3 927.5 L541.5 928.6 L541.8 929.7 L542.0 930.8 L542.3 931.9 L542.5 933.0 L542.8 934.2 L543.0 935.4 L543.3 936.5 L543.5 937.7 L543.8 939.0 L544.0 940.2 L544.3 941.4 L544.5 942.6 L544.8 943.8 L545.0 945.0 L545.3 946.2 L545.5 947.4 L545.8 948.6 L546.0 949.7 L546.3 950.8 L546.5 952.0 L546.8 953.0 L547.0 954.1 L547.3 955.2 L547.5 956.2 L547.8 957.2 L548.0 958.3 L548.3 959.3 L548.5 960.3 L548.8 961.3 L549.0 962.3 L549.3 963.3 L549.5 964.3 L549.8 965.2 L550.0 966.2 L550.3 967.2 L550.5 968.1 L550.8 969.1 L551.0 970.1 L551.3 971.0 L551.5 972.0 L551.8 972.9 L552.0 973.8 L552.3 974.8 L552.5 975.7 L552.8 976.6 L553.0 977.6 L553.3 978.5 L553.5 979.4 L553.8 980.3 L554.0 981.3 L554.3 982.2 L554.5 983.1 L554.8 984.0 L555.0 984.9 L555.3 985.8 L555.5 986.7 L555.8 987.6 L556.0 988.5 L556.3 989.4 L556.5 990.3 L556.8 991.2 L557.0 992.1 L557.3 993.0 L557.5 994.0 L557.8 994.9 L558.0 995.8 L558.3 996.7 L558.5 997.6 L558.8 998.5 L559.0 999.5 L559.3 1000.4 L559.5 1001.3 L559.8 1002.2 L560.0 1003.2 L560.3 1004.1 L560.5 1005.1 L560.8 1006.0 L561.0 1006.9 L561.3 1007.9 L561.5 1008.8 L561.8 1009.8 L562.0 1010.7 L562.3 1011.7 L562.5 1012.6 L562.8 1013.6 L563.0 1014.5 L563.3 1015.5 L563.5 1016.4 L563.8 1017.4 L564.0 1018.3 L564.3 1019.3 L564.5 1020.2 L564.8 1021.2 L565.0 1022.1 L565.3 1023.1 L565.5 1024.0 L565.8 1025.0 L566.0 1025.9 L566.3 1026.9 L566.5 1027.8 L566.8 1028.8 L567.0 1029.7 L567.3 1030.7 L567.5 1031.6 L567.8 1032.5 L568.0 1033.5 L568.3 1034.4 L568.5 1035.3 L568.8 1036.3 L569.0 1037.2 L569.3 1038.1 L569.5 1039.1 L569.8 1040.0 L570.0 1040.9 L570.3 1041.8 L570.5 1042.7 L570.8 1043.6 L571.0 1044.5 L571.3 1045.4 L571.5 1046.3 L571.8 1047.2 L572.0 1048.1 L572.3 1049.0 L572.5 1049.9 L572.8 1050.7 L573.0 1051.6 L573.3 1052.5 L573.5 1053.4 L573.8 1054.2 L574.0 1055.1 L574.3 1055.9 L574.5 1056.8 L574.8 1057.7 L575.0 1058.5 L575.3 1059.4 L575.5 1060.3 L575.8 1061.1 L576.0 1062.0 L576.3 1062.8 L576.5 1063.7 L576.8 1064.6 L577.0 1065.4 L577.3 1066.3 L577.5 1067.1 L577.8 1068.0 L578.0 1068.8 L578.3 1069.7 L578.5 1070.5 L578.8 1071.4 L579.0 1072.2 L579.3 1073.1 L579.5 1073.9 L579.8 1074.8 L580.0 1075.6 L580.3 1076.5 L580.5 1077.3 L580.8 1078.2 L581.0 1079.0 L581.3 1079.9 L581.5 1080.7 L581.8 1081.6 L582.0 1082.4 L582.3 1083.2 L582.5 1084.1 L582.8 1084.9 L583.0 1085.8 L583.3 1086.6 L583.5 1087.4 L583.8 1088.3 L584.0 1089.1 L584.3 1089.9 L584.5 1090.8 L584.8 1091.6 L585.0 1092.4 L585.3 1093.3 L585.5 1094.1 L585.8 1094.9 L586.0 1095.7 L586.3 1096.6 L586.5 1097.4 L586.8 1098.2 L587.0 1099.1 L587.3 1099.9 L587.5 1100.7 L587.8 1101.5 L588.0 1102.3 L588.3 1103.2 L588.5 1104.0 L588.8 1104.8 L589.0 1105.6 L589.3 1106.4 L589.5 1107.2 L589.8 1108.1 L590.0 1108.9 L590.3 1109.7 L590.5 1110.5 L590.8 1111.3 L591.0 1112.1 L591.3 1112.9 L591.5 1113.7 L591.8 1114.5 L592.0 1115.3 L592.3 1116.1 L592.5 1117.0 L592.8 1117.8 L593.0 1118.6 L593.3 1119.4 L593.5 1120.2 L593.8 1121.0 L594.0 1121.7 L594.3 1122.5 L594.5 1123.3 L594.8 1124.1 L595.0 1124.9 L595.3 1125.7 L595.5 1126.5 L595.8 1127.3 L596.0 1128.1 L596.3 1128.9 L596.5 1129.7 L596.8 1130.4 L597.0 1131.2 L597.3 1132.0 L597.5 1132.8 L597.8 1133.6 L598.0 1134.3 L598.3 1135.1 L598.5 1135.9 L598.8 1136.7 L599.0 1137.4 L599.3 1138.2 L599.5 1139.0 L599.8 1139.8 L600.3 1141.3 L601.3 1144.4 L602.3 1147.4 L603.3 1150.4 L604.3 1153.4 L605.3 1156.4 L606.3 1159.4 L607.3 1162.3 L608.3 1165.2 L609.3 1168.1 L610.3 1171.0 L611.3 1173.9 L612.3 1176.7 L613.3 1179.5 L614.3 1182.3 L615.3 1185.0 L616.3 1187.8 L617.3 1190.5 L618.3 1193.2 L619.3 1195.8 L620.3 1198.5 L621.3 1201.1 L622.3 1203.7 L623.3 1206.2 L624.3 1208.8 L625.3 1211.3 L626.3 1213.8 L627.3 1216.2 L628.3 1218.7 L629.3 1221.1 L630.3 1223.4 L631.3 1225.8 L632.3 1228.1 L633.3 1230.4 L634.3 1232.7 L635.3 1234.9 L636.3 1237.1 L637.3 1239.3 L638.3 1241.5 L639.3 1243.6 L640.3 1245.7 L641.3 1247.8 L642.3 1249.8 L643.3 1251.8 L644.3 1253.8 L645.3 1255.7 L646.3 1257.6 L647.3 1259.5 L648.3 1261.4 L649.3 1263.2 L650.3 1265.0 L651.3 1266.7 L652.3 1268.5 L653.3 1270.2 L654.3 1271.8 L655.3 1273.5 L656.3 1275.1 L657.3 1276.6 L658.3 1278.2 L659.3 1279.7 L660.3 1281.2 L661.3 1282.6 L662.3 1284.0 L663.3 1285.4 L664.3 1286.7 L665.3 1288.0 L666.3 1289.3 L667.3 1290.6 L668.3 1291.8 L669.3 1293.0 L670.3 1294.1 L671.3 1295.2 L672.3 1296.3 L673.3 1297.3 L674.3 1298.4 L675.3 1299.3 L676.3 1300.3 L677.3 1301.2 L678.3 1302.1 L679.3 1302.9 L680.3 1303.7 L681.3 1304.5 L682.3 1305.2 L683.3 1306.0 L684.3 1306.6 L685.3 1307.3 L686.3 1307.9 L687.3 1308.5 L688.3 1309.0 L689.3 1309.5 L690.3 1310.0 L691.3 1310.4 L692.3 1310.8 L693.3 1311.2 L694.3 1311.5 L695.3 1311.8 L696.3 1312.1 L697.3 1312.3 L698.3 1312.5 L699.3 1312.7 L700.3 1312.9 L701.3 1313.0 L702.3 1313.0 L703.3 1313.1 L704.3 1313.1 L705.3 1313.0 L706.3 1313.0 L707.3 1312.9 L708.3 1312.7 L709.3 1312.6 L710.3 1312.4 L711.3 1312.2 L712.3 1311.9 L713.3 1311.6 L714.3 1311.3 L715.3 1310.9 L716.3 1310.5 L717.3 1310.1 L718.3 1309.7 L719.3 1309.2 L720.3 1308.7 L721.3 1308.1 L722.3 1307.5 L723.3 1306.9 L724.3 1306.3 L725.3 1305.6 L726.3 1304.9 L727.3 1304.2 L728.3 1303.4 L729.3 1302.6 L730.3 1301.8 L731.3 1300.9 L732.3 1300.1 L733.3 1299.1 L734.3 1298.2 L735.3 1297.2 L736.3 1296.2 L737.3 1295.2 L738.3 1294.1 L739.3 1293.0 L740.3 1291.9 L741.3 1290.8 L742.3 1289.6 L743.3 1288.4 L744.3 1287.2 L745.3 1285.9 L746.3 1284.6 L747.3 1283.3 L748.3 1282.0 L749.3 1280.6 L750.3 1279.2 L751.3 1277.8 L752.3 1276.4 L753.3 1274.9 L754.3 1273.4 L755.3 1271.9 L756.3 1270.4 L757.3 1268.8 L758.3 1267.2 L759.3 1265.6 L760.3 1263.9 L761.3 1262.3 L762.3 1260.6 L763.3 1258.9 L764.3 1257.1 L765.3 1255.4 L766.3 1253.6 L767.3 1251.8 L768.3 1250.0 L769.3 1248.1 L770.3 1246.3 L771.3 1244.4 L772.3 1242.5 L773.3 1240.6 L774.3 1238.6 L775.3 1236.6 L776.3 1234.7 L777.3 1232.6 L778.3 1230.6 L779.3 1228.6 L780.3 1226.5 L781.3 1224.4 L782.3 1222.3 L783.3 1220.2 L784.3 1218.1 L785.3 1215.9 L786.3 1213.8 L787.3 1211.6 L788.3 1209.4 L789.3 1207.2 L790.3 1204.9 L791.3 1202.7 L792.3 1200.4 L793.3 1198.2 L794.3 1195.9 L795.3 1193.6 L796.3 1191.3 L797.3 1188.9 L798.3 1186.6 L799.3 1184.2 L800.3 1181.9 L801.3 1179.5 L802.3 1177.1 L803.3 1174.7 L804.3 1172.3 L805.3 1169.8 L806.3 1167.4 L807.3 1165.0 L808.3 1162.5 L809.3 1160.0 L810.3 1157.6 L811.3 1155.1 L812.3 1152.6 L813.3 1150.1 L814.3 1147.6 L815.3 1145.1 L816.3 1142.5 L817.3 1140.0 L818.3 1137.5 L819.3 1134.9 L820.3 1132.4 L821.3 1129.8 L822.3 1127.3 L823.3 1124.7 L824.3 1122.1 L825.3 1119.6 L826.3 1117.0 L827.3 1114.4 L828.3 1111.8 L829.3 1109.2 L830.3 1106.6 L831.3 1104.0 L832.3 1101.5 L833.3 1098.9 L834.3 1096.3 L835.3 1093.7 L836.3 1091.1 L837.3 1088.5 L838.3 1085.9 L839.3 1083.3 L840.3 1080.7 L841.3 1078.1 L842.3 1075.5 L843.3 1072.9 L844.3 1070.3 L845.3 1067.7 L846.3 1065.1 L847.3 1062.5 L848.3 1059.9 L849.3 1057.3 L850.3 1054.8 L851.3 1052.2 L852.3 1049.6 L853.3 1047.1 L854.3 1044.5 L855.3 1041.9 L856.3 1039.4 L857.3 1036.8 L858.3 1034.3 L859.3 1031.8 L860.3 1029.2 L861.3 1026.7 L862.3 1024.2 L863.3 1021.7 L864.3 1019.2 L865.3 1016.7 L866.3 1014.2 L867.3 1011.8 L868.3 1009.3 L869.3 1006.9 L870.3 1004.4 L871.3 1002.0 L872.3 999.5 L873.3 997.1 L874.3 994.7 L875.3 992.3 L876.3 990.0 L877.3 987.6 L878.3 985.2 L879.3 982.9 L880.3 980.5 L881.3 978.2 L882.3 975.9 L883.3 973.6 L884.3 971.3 L885.3 969.0 L886.3 966.8 L887.3 964.5 L888.3 962.3 L889.3 960.1 L890.3 957.9 L891.3 955.7 L892.3 953.5 L893.3 951.4 L894.3 949.2 L895.3 947.1 L896.3 945.0 L897.3 942.9 L898.3 940.8 L899.3 938.7 L900.3 936.7 L901.3 934.6 L902.3 932.6 L903.3 930.6 L904.3 928.6 L905.3 926.7 L906.3 924.7 L907.3 922.8 L908.3 920.9 L909.3 919.0 L910.3 917.1 L911.3 915.3 L912.3 913.4 L913.3 911.6 L914.3 909.8 L915.3 908.0 L916.3 906.3 L917.3 904.5 L918.3 902.8 L919.3 901.1 L920.3 899.4 L921.3 897.8 L922.3 896.1 L923.3 894.5 L924.3 892.9 L925.3 891.3 L926.3 889.8 L927.3 888.2 L928.3 886.7 L929.3 885.2 L930.3 883.7 L931.3 882.3 L932.3 880.8 L933.3 879.4 L934.3 878.0 L935.3 876.7 L936.3 875.3 L937.3 874.0 L938.3 872.7 L939.3 871.4 L940.3 870.1 L941.3 868.9 L942.3 867.7 L943.3 866.5 L944.3 865.3 L945.3 864.2 L946.3 863.0 L947.3 861.9 L948.3 860.9 L949.3 859.8 L950.3 858.8 L951.3 857.8 L952.3 856.8 L953.3 855.8 L954.3 854.8 L955.3 853.9 L956.3 853.0 L957.3 852.1 L958.3 851.3 L959.3 850.5 L960.3 849.7 L961.3 848.9 L962.3 848.1 L963.3 847.4 L964.3 846.7 L965.3 846.0 L966.3 845.3 L967.3 844.6 L968.3 844.0 L969.3 843.4 L970.3 842.8 L971.3 842.3 L972.3 841.7 L973.3 841.2 L974.3 840.7 L975.3 840.3 L976.3 839.8 L977.3 839.4 L978.3 839.0 L979.3 838.6 L980.3 838.3 L981.3 838.0 L982.3 837.7 L983.3 837.4 L984.3 837.1 L985.3 836.9 L986.3 836.6 L987.3 836.4 L988.3 836.3 L989.3 836.1 L990.3 836.0 L991.3 835.9 L992.3 835.8 L993.3 835.7 L994.3 835.7 L995.3 835.7 L996.3 835.7 L997.3 835.7 L998.3 835.7 L999.3 835.8 L1000.3 835.9 L1001.3 836.0 L1002.3 836.1 L1003.3 836.2 L1004.3 836.4 L1005.3 836.6 L1006.3 836.8 L1007.3 837.0 L1008.3 837.3 L1009.3 837.5 L1010.3 837.8 L1011.3 838.1 L1012.3 838.4 L1013.3 838.8 L1014.3 839.2 L1015.3 839.5 L1016.3 839.9 L1017.3 840.4 L1018.3 840.8 L1019.3 841.3 L1020.3 841.7 L1021.3 842.2 L1022.3 842.7 L1023.3 843.3 L1024.3 843.8 L1025.3 844.4 L1026.3 844.9 L1027.3 845.5 L1028.3 846.2 L1029.3 846.8 L1030.3 847.4 L1031.3 848.1 L1032.3 848.8 L1033.3 849.5 L1034.3 850.2 L1035.3 850.9 L1036.3 851.7 L1037.3 852.4 L1038.3 853.2 L1039.3 854.0 L1040.3 854.8 L1041.3 855.6 L1042.3 856.4 L1043.3 857.3 L1044.3 858.2 L1045.3 859.0 L1046.3 859.9 L1047.3 860.8 L1048.3 861.7 L1049.3 862.7 L1050.3 863.6 L1051.3 864.6 L1052.3 865.5 L1053.3 866.5 L1054.3 867.5 L1055.3 868.5 L1056.3 869.5 L1057.3 870.5 L1058.3 871.6 L1059.3 872.6 L1060.3 873.7 L1061.3 874.7 L1062.3 875.8 L1063.3 876.9 L1064.3 878.0 L1065.3 879.1 L1066.3 880.2 L1067.3 881.3 L1068.3 882.5 L1069.3 883.6 L1070.3 884.8 L1071.3 885.9 L1072.3 887.1 L1073.3 888.3 L1074.3 889.4 L1075.3 890.6 L1076.3 891.8 L1077.3 893.0 L1078.3 894.3 L1079.3 895.5 L1080.3 896.7 L1081.3 897.9 L1082.3 899.2 L1083.3 900.4 L1084.3 901.6 L1085.3 902.9 L1086.3 904.1 L1087.3 905.4 L1088.3 906.7 L1089.3 907.9 L1090.3 909.2 L1091.3 910.5 L1092.3 911.8 L1093.3 913.1 L1094.3 914.3 L1095.3 915.6 L1096.3 916.9 L1097.3 918.2 L1098.3 919.5 L1099.3 920.8 L1100.3 922.1 L1101.3 923.4 L1102.3 924.7 L1103.3 926.0 L1104.3 927.3 L1105.3 928.6 L1106.3 929.9 L1107.3 931.2 L1108.3 932.5 L1109.3 933.9 L1110.3 935.2 L1111.3 936.5 L1112.3 937.8 L1113.3 939.1 L1114.3 940.4 L1115.3 941.7 L1116.3 943.0 L1117.3 944.3 L1118.3 945.6 L1119.3 946.9 L1120.3 948.1 L1121.3 949.4 L1122.3 950.7 L1123.3 952.0 L1124.3 953.3 L1125.3 954.5 L1126.3 955.8 L1127.3 957.1 L1128.3 958.3 L1129.3 959.6 L1130.3 960.9 L1131.3 962.1 L1132.3 963.3 L1133.3 964.6 L1134.3 965.8 L1135.3 967.0 L1136.3 968.3 L1137.3 969.5 L1138.3 970.7 L1139.3 971.9 L1140.3 973.1 L1141.3 974.3 L1142.3 975.5 L1143.3 976.6 L1144.3 977.8 L1145.3 979.0 L1146.3 980.1 L1147.3 981.3 L1148.3 982.4 L1149.3 983.6 L1150.3 984.7 L1151.3 985.8 L1152.3 986.9 L1153.3 988.0 L1154.3 989.1 L1155.3 990.2 L1156.3 991.3 L1157.3 992.3 L1158.3 993.4 L1159.3 994.4 L1160.3 995.5 L1161.3 996.5 L1162.3 997.5 L1163.3 998.5 L1164.3 999.5 L1165.3 1000.5 L1166.3 1001.5 L1167.3 1002.5 L1168.3 1003.4 L1169.3 1004.4 L1170.3 1005.3 L1171.3 1006.2 L1172.3 1007.1 L1173.3 1008.1 L1174.3 1008.9 L1175.3 1009.8 L1176.3 1010.7 L1177.3 1011.6 L1178.3 1012.4 L1179.3 1013.2 L1180.3 1014.1 L1181.3 1014.9 L1182.3 1015.7 L1183.3 1016.5 L1184.3 1017.2 L1185.3 1018.0 L1186.3 1018.8 L1187.3 1019.5 L1188.3 1020.2 L1189.3 1021.0 L1190.3 1021.7 L1191.3 1022.3 L1192.3 1023.0 L1193.3 1023.7 L1194.3 1024.3 L1195.3 1025.0 L1196.3 1025.6 L1197.3 1026.2 L1198.3 1026.8 L1199.3 1027.4 L1200.3 1028.0 L1201.3 1028.6 L1202.3 1029.1 L1203.3 1029.7 L1204.3 1030.2 L1205.3 1030.7 L1206.3 1031.2 L1207.3 1031.7 L1208.3 1032.2 L1209.3 1032.6 L1210.3 1033.1 L1211.3 1033.5 L1212.3 1033.9 L1213.3 1034.3 L1214.3 1034.7 L1215.3 1035.1 L1216.3 1035.5 L1217.3 1035.8 L1218.3 1036.2 L1219.3 1036.5 L1220.3 1036.8 L1221.3 1037.1 L1222.3 1037.4 L1223.3 1037.7 L1224.3 1037.9 L1225.3 1038.2 L1226.3 1038.4 L1227.3 1038.7 L1228.3 1038.9 L1229.3 1039.1 L1230.3 1039.3 L1231.3 1039.4 L1232.3 1039.6 L1233.3 1039.7 L1234.3 1039.9 L1235.3 1040.0 L1236.3 1040.1 L1237.3 1040.2 L1238.3 1040.3 L1239.3 1040.4 L1240.3 1040.4 L1241.3 1040.5 L1242.3 1040.5 L1243.3 1040.5 L1244.3 1040.5 L1245.3 1040.5 L1246.3 1040.5 L1247.3 1040.5 L1248.3 1040.5 L1249.3 1040.4 L1250.3 1040.3 L1251.3 1040.3 L1252.3 1040.2 L1253.3 1040.1 L1254.3 1040.0 L1255.3 1039.9 L1256.3 1039.8 L1257.3 1039.6 L1258.3 1039.5 L1259.3 1039.3 L1260.3 1039.1 L1261.3 1039.0 L1262.3 1038.8 L1263.3 1038.6 L1264.3 1038.3 L1265.3 1038.1 L1266.3 1037.9 L1267.3 1037.7 L1268.3 1037.4 L1269.3 1037.1 L1270.3 1036.9 L1271.3 1036.6 L1272.3 1036.3 L1273.3 1036.0 L1274.3 1035.7 L1275.3 1035.4 L1276.3 1035.1 L1277.3 1034.7 L1278.3 1034.4 L1279.3 1034.0 L1280.3 1033.7 L1281.3 1033.3 L1282.3 1032.9 L1283.3 1032.5 L1284.3 1032.2 L1285.3 1031.8 L1286.3 1031.4 L1287.3 1030.9 L1288.3 1030.5 L1289.3 1030.1 L1290.3 1029.7 L1291.3 1029.2 L1292.3 1028.8 L1293.3 1028.3 L1294.3 1027.9 L1295.3 1027.4 L1296.3 1026.9 L1297.3 1026.5 L1298.3 1026.0 L1299.3 1025.5 L1300.3 1025.0 L1301.3 1024.5 L1302.3 1024.0 L1303.3 1023.5 L1304.3 1023.0 L1305.3 1022.5 L1306.3 1022.0 L1307.3 1021.5 L1308.3 1020.9 L1309.3 1020.4 L1310.3 1019.9 L1311.3 1019.3 L1312.3 1018.8 L1313.3 1018.3 L1314.3 1017.7 L1315.3 1017.2 L1316.3 1016.6 L1317.3 1016.1 L1318.3 1015.5 L1319.3 1015.0 L1320.3 1014.4 L1321.3 1013.8 L1322.3 1013.3 L1323.3 1012.7 L1324.3 1012.2 L1325.3 1011.6 L1326.3 1011.0 L1327.3 1010.5 L1328.3 1009.9 L1329.3 1009.3 L1330.3 1008.8 L1331.3 1008.2 L1332.3 1007.7 L1333.3 1007.1 L1334.3 1006.5 L1335.3 1006.0 L1336.3 1005.4 L1337.3 1004.9 L1338.3 1004.3 L1339.3 1003.7 L1340.3 1003.2 L1341.3 1002.6 L1342.3 1002.1 L1343.3 1001.5 L1344.3 1001.0 L1345.3 1000.5 L1346.3 999.9 L1347.3 999.4 L1348.3 998.9 L1349.3 998.3 L1350.3 997.8 L1351.3 997.3 L1352.3 996.8 L1353.3 996.3 L1354.3 995.7 L1355.3 995.2 L1356.3 994.7 L1357.3 994.3 L1358.3 993.8 L1359.3 993.3 L1360.3 992.8 L1361.3 992.3 L1362.3 991.9 L1363.3 991.4 L1364.3 990.9 L1365.3 990.5 L1366.3 990.0 L1367.3 989.6 L1368.3 989.2 L1369.3 988.8 L1370.3 988.3 L1371.3 987.9 L1372.3 987.5 L1373.3 987.1 L1374.3 986.7 L1375.3 986.4 L1376.3 986.0 L1377.3 985.6 L1378.3 985.3 L1379.3 984.9 L1380.3 984.6 L1381.3 984.3 L1382.3 983.9 L1383.3 983.6 L1384.3 983.3 L1385.3 983.0 L1386.3 982.7 L1387.3 982.5 L1388.3 982.2 L1389.3 981.9 L1390.3 981.7 L1391.3 981.4 L1392.3 981.2 L1393.3 981.0 L1394.3 980.8 L1395.3 980.6 L1396.3 980.4 L1397.3 980.2 L1398.3 980.0 L1399.3 979.9 L1400.3 979.7 L1401.3 979.6 L1402.3 979.5 L1403.3 979.4 L1404.3 979.3 L1405.3 979.2 L1406.3 979.1 L1407.3 979.0 L1408.3 979.0 L1409.3 978.9 L1410.3 978.9 L1411.3 978.9 L1412.3 978.9 L1413.3 978.9 L1414.3 978.9 L1415.3 978.9 L1416.3 979.0 L1417.3 979.0 L1418.3 979.1 L1419.3 979.1 L1420.3 979.2 L1421.3 979.3 L1422.3 979.4 L1423.3 979.6 L1424.3 979.7 L1425.3 979.9 L1426.3 980.0 L1427.3 980.2 L1428.3 980.4 L1429.3 980.6 L1430.3 980.8 L1431.3 981.0 L1432.3 981.3 L1433.3 981.5 L1434.3 981.8 L1435.3 982.1 L1436.3 982.4 L1437.3 982.7 L1438.3 983.0 L1439.3 983.3 L1440.3 983.7 L1441.3 984.0 L1442.3 984.4 L1443.3 984.8 L1444.3 985.2 L1445.3 985.6 L1446.3 986.0 L1447.3 986.5 L1448.3 986.9 L1449.3 987.4 L1450.3 987.9 L1451.3 988.3 L1452.3 988.8 L1453.3 989.4 L1454.3 989.9 L1455.3 990.4 L1456.3 991.0 L1457.3 991.6 L1458.3 992.1 L1459.3 992.7 L1460.3 993.3 L1461.3 994.0 L1462.3 994.6 L1463.3 995.2 L1464.3 995.9 L1465.3 996.6 L1466.3 997.2 L1467.3 997.9 L1468.3 998.6 L1469.3 999.4 L1470.3 1000.1 L1471.3 1000.8 L1472.3 1001.6 L1473.3 1002.4 L1474.3 1003.1 L1475.3 1003.9 L1476.3 1004.7 L1477.3 1005.6 L1478.3 1006.4 L1479.3 1007.2 L1480.3 1008.1 L1481.3 1008.9 L1482.3 1009.8 L1483.3 1010.7 L1484.3 1011.6 L1485.3 1012.5 L1486.3 1013.4 L1487.3 1014.4 L1488.3 1015.3 L1489.3 1016.2 L1490.3 1017.2 L1491.3 1018.2 L1492.3 1019.2 L1493.3 1020.1 L1494.3 1021.1 L1495.3 1022.2 L1496.3 1023.2 L1497.3 1024.2 L1498.3 1025.3 L1499.3 1026.3 L1500.3 1027.4 L1501.3 1028.4 L1502.3 1029.5 L1503.3 1030.6 L1504.3 1031.7 L1505.3 1032.8 L1506.3 1033.9 L1507.3 1035.0 L1508.3 1036.1 L1509.3 1037.3 L1510.3 1038.4 L1511.3 1039.6 L1512.3 1040.7 L1513.3 1041.9 L1514.3 1043.1 L1515.3 1044.3 L1516.3 1045.4 L1517.3 1046.6 L1518.3 1047.8 L1519.3 1049.0 L1520.3 1050.3 L1521.3 1051.5 L1522.3 1052.7 L1523.3 1053.9 L1524.3 1055.2 L1525.3 1056.4 L1526.3 1057.6 L1527.3 1058.9 L1528.3 1060.1 L1529.3 1061.4 L1530.3 1062.7 L1531.3 1063.9 L1532.3 1065.2 L1533.3 1066.5 L1534.3 1067.8 L1535.3 1069.0 L1536.3 1070.3 L1537.3 1071.6 L1538.3 1072.9 L1539.3 1074.2 L1540.3 1075.5 L1541.3 1076.8 L1542.3 1078.1 L1543.3 1079.4 L1544.3 1080.7 L1545.3 1082.0 L1546.3 1083.3 L1547.3 1084.6 L1548.3 1085.9 L1549.3 1087.2 L1550.3 1088.5 L1551.3 1089.8 L1552.3 1091.1 L1553.3 1092.4 L1554.3 1093.7 L1555.3 1095.0 L1556.3 1096.3 L1557.3 1097.6 L1558.3 1098.9 L1559.3 1100.2 L1560.3 1101.5 L1561.3 1102.8 L1562.3 1104.1 L1563.3 1105.4 L1564.3 1106.7 L1565.3 1108.0 L1566.3 1109.3 L1567.3 1110.5 L1568.3 1111.8 L1569.3 1113.1 L1570.3 1114.3 L1571.3 1115.6 L1572.3 1116.9 L1573.3 1118.1 L1574.3 1119.3 L1575.3 1120.6 L1576.3 1121.8 L1577.3 1123.0 L1578.3 1124.3 L1579.3 1125.5 L1580.3 1126.7 L1581.3 1127.9 L1582.3 1129.1 L1583.3 1130.3 L1584.3 1131.5 L1585.3 1132.6 L1586.3 1133.8 L1587.3 1135.0 L1588.3 1136.1 L1589.3 1137.2 L1590.3 1138.4 L1591.3 1139.5 L1592.3 1140.6 L1593.3 1141.7 L1594.3 1142.8 L1595.3 1143.9 L1596.3 1145.0 L1597.3 1146.0 L1598.3 1147.1 L1599.3 1148.1 L1600.3 1149.2 L1601.3 1150.2 L1602.3 1151.2 L1603.3 1152.2 L1604.3 1153.2 L1605.3 1154.1 L1606.3 1155.1 L1607.3 1156.1 L1608.3 1157.0 L1609.3 1157.9 L1610.3 1158.8 L1611.3 1159.7 L1612.3 1160.6 L1613.3 1161.5 L1614.3 1162.3 L1615.3 1163.2 L1616.3 1164.0 L1617.3 1164.8 L1618.3 1165.6 L1619.3 1166.4 L1620.3 1167.2 L1621.3 1167.9 L1622.3 1168.7 L1623.3 1169.4 L1624.3 1170.1 L1625.3 1170.8 L1626.3 1171.5 L1627.3 1172.1 L1628.3 1172.8 L1629.3 1173.4 L1630.3 1174.0 L1631.3 1174.6 L1632.3 1175.2 L1633.3 1175.7 L1634.3 1176.3 L1635.3 1176.8 L1636.3 1177.3 L1637.3 1177.8 L1638.3 1178.3 L1639.3 1178.7 L1640.3 1179.2 L1641.3 1179.6 L1642.3 1180.0 L1643.3 1180.3 L1644.3 1180.7 L1645.3 1181.0 L1646.3 1181.4 L1647.3 1181.7 L1648.3 1181.9 L1649.3 1182.2 L1650.3 1182.4 L1651.3 1182.7 L1652.3 1182.9 L1653.3 1183.0 L1654.3 1183.2 L1655.3 1183.3 L1656.3 1183.5 L1657.3 1183.6 L1658.3 1183.6 L1659.3 1183.7 L1660.3 1183.7 L1661.3 1183.7 L1662.3 1183.7 L1663.3 1183.7 L1664.3 1183.7 L1665.3 1183.6 L1666.3 1183.5 L1667.3 1183.4 L1668.3 1183.2 L1669.3 1183.1 L1670.3 1182.9 L1671.3 1182.7 L1672.3 1182.5 L1673.3 1182.2 L1674.3 1182.0 L1675.3 1181.7 L1676.3 1181.4 L1677.3 1181.0 L1678.3 1180.7 L1679.3 1180.3 L1680.3 1179.9 L1681.3 1179.4 L1682.3 1179.0 L1683.3 1178.5 L1684.3 1178.0 L1685.3 1177.5 L1686.3 1177.0 L1687.3 1176.4 L1688.3 1175.8 L1689.3 1175.2 L1690.3 1174.6 L1691.3 1173.9 L1692.3 1173.3 L1693.3 1172.6 L1694.3 1171.8 L1695.3 1171.1 L1696.3 1170.3 L1697.3 1169.5 L1698.3 1168.7 L1699.3 1167.9 L1700.3 1167.0 L1701.3 1166.1 L1702.3 1165.2 L1703.3 1164.3 L1704.3 1163.3 L1705.3 1162.4 L1706.3 1161.4 L1707.3 1160.4 L1708.3 1159.3 L1709.3 1158.2 L1710.3 1157.2 L1711.3 1156.0 L1712.3 1154.9 L1713.3 1153.8 L1714.3 1152.6 L1715.3 1151.4 L1716.3 1150.2 L1717.3 1148.9 L1718.3 1147.6 L1719.3 1146.4 L1720.3 1145.0 L1721.3 1143.7 L1722.3 1142.4 L1723.3 1141.0 L1724.3 1139.6 L1725.3 1138.2 L1726.3 1136.7 L1727.3 1135.3 L1728.3 1133.8 L1729.3 1132.3 L1730.3 1130.8 L1731.3 1129.2 L1732.3 1127.6 L1733.3 1126.1 L1734.3 1124.5 L1735.3 1122.8 L1736.3 1121.2 L1737.3 1119.5 L1738.3 1117.8 L1739.3 1116.1 L1740.3 1114.4 L1741.3 1112.6 L1742.3 1110.9 L1743.3 1109.1 L1744.3 1107.3 L1745.3 1105.5 L1746.3 1103.6 L1747.3 1101.8 L1748.3 1099.9 L1749.3 1098.0 L1750.3 1096.1 L1751.3 1094.1 L1752.3 1092.2 L1753.3 1090.2 L1754.3 1088.2 L1755.3 1086.2 L1756.3 1084.2 L1757.3 1082.2 L1758.3 1080.1 L1759.3 1078.0 L1760.3 1076.0 L1761.3 1073.9 L1762.3 1071.7 L1763.3 1069.6 L1764.3 1067.5 L1765.3 1065.3 L1766.3 1063.1 L1767.3 1060.9 L1768.3 1058.7 L1769.3 1056.5 L1770.3 1054.3 L1771.3 1052.0 L1772.3 1049.7 L1773.3 1047.5 L1774.3 1045.2 L1775.3 1042.9 L1776.3 1040.6 L1777.3 1038.2 L1778.3 1035.9 L1779.3 1033.5 L1780.3 1031.2 L1781.3 1028.8 L1782.3 1026.4 L1783.3 1024.0 L1784.3 1021.6 L1785.3 1019.2 L1786.3 1016.8 L1787.3 1014.3 L1788.3 1011.9 L1789.3 1009.4 L1790.3 1006.9 L1791.3 1004.5 L1792.3 1002.0 L1793.3 999.5 L1794.3 997.0 L1795.3 994.5 L1796.3 992.0 L1797.3 989.5 L1798.3 986.9 L1799.3 984.4 L1800.3 981.9 L1801.3 979.3 L1802.3 976.8 L1803.3 974.2 L1804.3 971.6 L1805.3 969.1 L1806.3 966.5 L1807.3 963.9 L1808.3 961.4 L1809.3 958.8 L1810.3 956.2 L1811.3 953.6 L1812.3 951.0 L1813.3 948.4 L1814.3 945.8 L1815.3 943.2 L1816.3 940.6 L1817.3 938.0 L1818.3 935.4 L1819.3 932.8 L1820.3 930.2 L1821.3 927.6 L1822.3 925.0 L1823.3 922.4 L1824.3 919.8 L1825.3 917.2 L1826.3 914.6 L1827.3 912.0 L1828.3 909.5 L1829.3 906.9 L1830.3 904.3 L1831.3 901.7 L1832.3 899.1 L1833.3 896.6 L1834.3 894.0 L1835.3 891.4 L1836.3 888.9 L1837.3 886.3 L1838.3 883.8 L1839.3 881.2 L1840.3 878.7 L1841.3 876.2 L1842.3 873.6 L1843.3 871.1 L1844.3 868.6 L1845.3 866.1 L1846.3 863.6 L1847.3 861.2 L1848.3 858.7 L1849.3 856.2 L1850.3 853.8 L1851.3 851.3 L1852.3 848.9 L1853.3 846.5 L1854.3 844.1 L1855.3 841.7 L1856.3 839.3 L1857.3 836.9 L1858.3 834.5 L1859.3 832.2 L1860.3 829.8 L1861.3 827.5 L1862.3 825.2 L1863.3 822.9 L1864.3 820.6 L1865.3 818.3 L1866.3 816.1 L1867.3 813.8 L1868.3 811.6 L1869.3 809.4 L1870.3 807.2 L1871.3 805.0 L1872.3 802.9 L1873.3 800.7 L1874.3 798.6 L1875.3 796.5 L1876.3 794.4 L1877.3 792.3 L1878.3 790.3 L1879.3 788.2 L1880.3 786.2 L1881.3 784.2 L1882.3 782.2 L1883.3 780.3 L1884.3 778.3 L1885.3 776.4 L1886.3 774.5 L1887.3 772.6 L1888.3 770.7 L1889.3 768.9 L1890.3 767.1 L1891.3 765.3 L1892.3 763.5 L1893.3 761.8 L1894.3 760.1 L1895.3 758.3 L1896.3 756.7 L1897.3 755.0 L1898.3 753.4 L1899.3 751.8 L1900.3 750.2 L1901.3 748.6 L1902.3 747.1 L1903.3 745.6 L1904.3 744.1 L1905.3 742.6 L1906.3 741.2 L1907.3 739.8 L1908.3 738.4 L1909.3 737.0 L1910.3 735.7 L1911.3 734.4 L1912.3 733.1 L1913.3 731.9 L1914.3 730.7 L1915.3 729.5 L1916.3 728.3 L1917.3 727.2 L1918.3 726.1 L1919.3 725.0 L1920.3 723.9 L1921.3 722.9 L1922.3 721.9 L1923.3 720.9 L1924.3 720.0 L1925.3 719.1 L1926.3 718.2 L1927.3 717.4 L1928.3 716.6 L1929.3 715.8 L1930.3 715.0 L1931.3 714.3 L1932.3 713.6 L1933.3 712.9 L1934.3 712.3 L1935.3 711.7 L1936.3 711.1 L1937.3 710.6 L1938.3 710.1 L1939.3 709.6 L1940.3 709.2 L1941.3 708.7 L1942.3 708.4 L1943.3 708.0 L1944.3 707.7 L1945.3 707.4 L1945.5 707.4"/>
<path stroke="#000000" stroke-dasharray="24 7" stroke-dashoffset="23.00" d="M235.3 951.0 L235.6 951.0 L235.8 951.0 L236.1 951.0 L236.3 951.0 L236.6 951.0 L236.8 951.0 L237.1 951.0 L237.3 951.0 L237.6 951.0 L237.8 951.0 L238.1 951.0 L238.3 951.0 L238.6 950.9 L238.8 950.9 L239.1 950.9 L239.3 950.9 L239.6 950.9 L239.8 950.9 L240.1 950.9 L240.3 950.9 L240.6 950.9 L240.8 950.9 L241.1 950.9 L241.3 950.9 L241.6 950.9 L241.8 950.9 L242.1 950.9 L242.3 950.9 L242.6 950.9 L242.8 950.9 L243.1 950.9 L243.3 950.8 L243.6 950.8 L243.8 950.8 L244.1 950.8 L244.3 950.8 L244.6 950.8 L244.8 950.8 L245.1 950.8 L245.3 950.8 L245.6 950.8 L245.8 950.8 L246.1 950.8 L246.3 950.8 L246.6 950.7 L246.8 950.7 L247.1 950.7 L247.3 950.7 L247.6 950.7 L247.8 950.7 L248.1 950.7 L248.3 950.7 L248.6 950.6 L248.8 950.6 L249.1 950.6 L249.3 950.6 L249.6 950.6 L249.8 950.6 L250.1 950.5 L250.3 950.5 L250.6 950.5 L250.8 950.5 L251.1 950.5 L251.3 950.4 L251.6 950.4 L251.8 950.4 L252.1 950.4 L252.3 950.4 L252.6 950.3 L252.8 950.3 L253.1 950.3 L253.3 950.3 L253.6 950.2 L253.8 950.2 L254.1 950.2 L254.3 950.2 L254.6 950.2 L254.8 950.1 L255.1 950.1 L255.3 950.1 L255.6 950.0 L255.8 950.0 L256.1 950.0 L256.3 950.0 L256.6 949.9 L256.8 949.9 L257.1 949.9 L257.3 949.8 L257.6 949.8 L257.8 949.8 L258.1 949.7 L258.3 949.7 L258.6 949.6 L258.8 949.6 L259.1 949.6 L259.3 949.5 L259.6 949.5 L259.8 949.4 L260.1 949.4 L260.3 949.3 L260.6 949.3 L260.8 949.2 L261.1 949.2 L261.3 949.1 L261.6 949.1 L261.8 949.0 L262.1 948.9 L262.3 948.9 L262.6 948.8 L262.8 948.8 L263.1 948.7 L263.3 948.6 L263.6 948.6 L263.8 948.5 L264.1 948.4 L264.3 948.4 L264.6 948.3 L264.8 948.2 L265.1 948.2 L265.3 948.1 L265.6 948.0 L265.8 948.0 L266.1 947.9 L266.3 947.8 L266.6 947.7 L266.8 947.7 L267.1 947.6 L267.3 947.5 L267.6 947.4 L267.8 947.4 L268.1 947.3 L268.3 947.2 L268.6 947.1 L268.8 947.1 L269.1 947.0 L269.3 946.9 L269.6 946.8 L269.8 946.7 L270.1 946.7 L270.3 946.6 L270.6 946.5 L270.8 946.4 L271.1 946.3 L271.3 946.2 L271.6 946.2 L271.8 946.1 L272.1 946.0 L272.3 945.9 L272.6 945.8 L272.8 945.7 L273.1 945.7 L273.3 945.6 L273.6 945.5 L273.8 945.4 L274.1 945.3 L274.3 945.2 L274.6 945.2 L274.8 945.1 L275.1 945.0 L275.3 944.9 L275.6 944.8 L275.8 944.7 L276.1 944.7 L276.3 944.6 L276.6 944.5 L276.8 944.4 L277.1 944.3 L277.3 944.2 L277.6 944.1 L277.8 944.1 L278.1 944.0 L278.3 943.9 L278.6 943.8 L278.8 943.7 L279.1 943.6 L279.3 943.6 L279.6 943.5 L279.8 943.4 L280.1 943.3 L280.3 943.2 L280.6 943.1 L280.8 943.0 L281.1 943.0 L281.3 942.9 L281.6 942.8 L281.8 942.7 L282.1 942.6 L282.3 942.5 L282.6 942.4 L282.8 942.3 L283.1 942.2 L283.3 942.1 L283.6 942.0 L283.8 942.0 L284.1 941.9 L284.3 941.8 L284.6 941.7 L284.8 941.6 L285.1 941.5 L285.3 941.4 L285.6 941.3 L285.8 941.2 L286.1 941.1 L286.3 941.0 L286.6 940.9 L286.8 940.8 L287.1 940.7 L287.3 940.6 L287.6 940.5 L287.8 940.4 L288.1 940.3 L288.3 940.2 L288.6 940.1 L288.8 940.0 L289.1 939.9 L289.3 939.8 L289.6 939.7 L289.8 939.6 L290.1 939.5 L290.3 939.4 L290.6 939.3 L290.8 939.2 L291.1 939.1 L291.3 939.0 L291.6 938.8 L291.8 938.7 L292.1 938.6 L292.3 938.5 L292.6 938.4 L292.8 938.3 L293.1 938.2 L293.3 938.1 L293.6 938.0 L293.8 937.9 L294.1 937.8 L294.3 937.6 L294.6 937.5 L294.8 937.4 L295.1 937.3 L295.3 937.2 L295.6 937.1 L295.8 937.0 L296.1 936.9 L296.3 936.7 L296.6 936.6 L296.8 936.5 L297.1 936.4 L297.3 936.3 L297.6 936.2 L297.8 936.0 L298.1 935.9 L298.3 935.8 L298.6 935.7 L298.8 935.6 L299.1 935.5 L299.3 935.3 L299.6 935.2 L299.8 935.1 L300.1 935.0 L300.3 934.9 L300.6 934.7 L300.8 934.6 L301.1 934.5 L301.3 934.4 L301.6 934.2 L301.8 934.1 L302.1 934.0 L302.3 933.9 L302.6 933.8 L302.8 933.6 L303.1 933.5 L303.3 933.4 L303.6 933.3 L303.8 933.1 L304.1 933.0 L304.3 932.9 L304.6 932.7 L304.8 932.6 L305.1 932.5 L305.3 932.4 L305.6 932.2 L305.8 932.1 L306.1 932.0 L306.3 931.8 L306.6 931.7 L306.8 931.6 L307.1 931.5 L307.3 931.3 L307.6 931.2 L307.8 931.0 L308.1 930.9 L308.3 930.8 L308.6 930.6 L308.8 930.5 L309.1 930.4 L309.3 930.2 L309.6 930.1 L309.8 929.9 L310.1 929.8 L310.3 929.7 L310.6 929.5 L310.8 929.4 L311.1 929.2 L311.3 929.1 L311.6 928.9 L311.8 928.8 L312.1 928.6 L312.3 928.5 L312.6 928.3 L312.8 928.2 L313.1 928.0 L313.3 927.9 L313.6 927.7 L313.8 927.6 L314.1 927.4 L314.3 927.3 L314.6 927.1 L314.8 926.9 L315.1 926.8 L315.3 926.6 L315.6 926.5 L315.8 926.3 L316.1 926.1 L316.3 926.0 L316.6 925.8 L316.8 925.7 L317.1 925.5 L317.3 925.3 L317.6 925.2 L317.8 925.0 L318.1 924.8 L318.3 924.6 L318.6 924.5 L318.8 924.3 L319.1 924.1 L319.3 923.9 L319.6 923.8 L319.8 923.6 L320.1 923.4 L320.3 923.2 L320.6 923.1 L320.8 922.9 L321.1 922.7 L321.3 922.5 L321.6 922.3 L321.8 922.1 L322.1 922.0 L322.3 921.8 L322.6 921.6 L322.8 921.4 L323.1 921.2 L323.3 921.0 L323.6 920.8 L323.8 920.6 L324.1 920.4 L324.3 920.2 L324.6 920.0 L324.8 919.8 L325.1 919.6 L325.3 919.4 L325.6 919.2 L325.8 919.0 L326.1 918.8 L326.3 918.6 L326.6 918.4 L326.8 918.2 L327.1 917.9 L327.3 917.7 L327.6 917.5 L327.8 917.2 L328.1 917.0 L328.3 916.8 L328.6 916.5 L328.8 916.3 L329.1 916.0 L329.3 915.7 L329.6 915.5 L329.8 915.2 L330.1 914.9 L330.3 914.7 L330.6 914.4 L330.8 914.1 L331.1 913.8 L331.3 913.5 L331.6 913.2 L331.8 912.8 L332.1 912.5 L332.3 912.2 L332.6 911.8 L332.8 911.5 L333.1 911.1 L333.3 910.8 L333.6 910.4 L333.8 910.1 L334.1 909.7 L334.3 909.3 L334.6 908.9 L334.8 908.5 L335.1 908.2 L335.3 907.8 L335.6 907.4 L335.8 907.0 L336.1 906.6 L336.3 906.2 L336.6 905.7 L336.8 905.3 L337.1 904.9 L337.3 904.5 L337.6 904.1 L337.8 903.7 L338.1 903.2 L338.3 902.8 L338.6 902.3 L338.8 901.9 L339.1 901.5 L339.3 901.0 L339.6 900.5 L339.8 900.1 L340.1 899.6 L340.3 899.1 L340.6 898.7 L340.8 898.2 L341.1 897.7 L341.3 897.2 L341.6 896.7 L341.8 896.2 L342.1 895.6 L342.3 895.1 L342.6 894.6 L342.8 894.1 L343.1 893.5 L343.3 893.0 L343.6 892.4 L343.8 891.8 L344.1 891.3 L344.3 890.7 L344.6 890.1 L344.8 889.5 L345.1 888.9 L345.3 888.3 L345.6 887.6 L345.8 886.9 L346.1 886.2 L346.3 885.5 L346.6 884.8 L346.8 884.1 L347.1 883.3 L347.3 882.5 L347.6 881.8 L347.8 881.0 L348.1 880.2 L348.3 879.4 L348.6 878.6 L348.8 877.8 L349.1 877.0 L349.3 876.2 L349.6 875.4 L349.8 874.6 L350.1 873.8 L350.3 873.0 L350.6 872.2 L350.8 871.3 L351.1 870.5 L351.3 869.6 L351.6 868.7 L351.8 867.8 L352.1 866.9 L352.3 866.1 L352.6 865.2 L352.8 864.4 L353.1 863.6 L353.3 862.9 L353.6 862.1 L353.8 861.5 L354.1 860.9 L354.3 860.3 L354.6 859.7 L354.8 859.1 L355.1 858.4 L355.3 857.8 L355.6 857.2 L355.8 856.6 L356.1 856.0 L356.3 855.5 L356.6 854.9 L356.8 854.4 L357.1 854.0 L357.3 853.5 L357.6 853.1 L357.8 852.8 L358.1 852.5 L358.3 852.3 L358.6 852.1 L358.8 852.0 L359.1 852.0 L359.3 852.1 L359.6 852.2 L359.8 852.4 L360.1 852.7 L360.3 853.0 L360.6 853.4 L360.8 853.8 L361.1 854.3 L361.3 854.9 L361.6 855.5 L361.8 856.1 L362.1 856.8 L362.3 857.5 L362.6 858.2 L362.8 859.0 L363.1 859.7 L363.3 860.5 L363.6 861.3 L363.8 862.1 L364.1 862.9 L364.3 863.8 L364.6 864.6 L364.8 865.4 L365.1 866.2 L365.3 867.0 L365.6 867.9 L365.8 868.9 L366.1 869.9 L366.3 871.0 L366.6 872.1 L366.8 873.3 L367.1 874.4 L367.3 875.7 L367.6 876.9 L367.8 878.1 L368.1 879.4 L368.3 880.6 L368.6 881.8 L368.8 883.0 L369.1 884.2 L369.3 885.4 L369.6 886.6 L369.8 887.8 L370.1 889.0 L370.3 890.2 L370.6 891.4 L370.8 892.7 L371.1 893.9 L371.3 895.1 L371.6 896.4 L371.8 897.7 L372.1 899.0 L372.3 900.3 L372.6 901.6 L372.8 902.9 L373.1 904.3 L373.3 905.7 L373.6 907.1 L373.8 908.5 L374.1 909.9 L374.3 911.4 L374.6 912.9 L374.8 914.4 L375.1 915.9 L375.3 917.4 L375.6 918.9 L375.8 920.5 L376.1 922.0 L376.3 923.6 L376.6 925.2 L376.8 926.7 L377.1 928.3 L377.3 929.9 L377.6 931.4 L377.8 933.0 L378.1 934.5 L378.3 936.1 L378.6 937.7 L378.8 939.3 L379.1 941.0 L379.3 942.7 L379.6 944.5 L379.8 946.4 L380.1 948.4 L380.3 950.5 L380.6 952.6 L380.8 954.9 L381.1 957.3 L381.3 959.8 L381.6 962.4 L381.8 965.2 L382.1 968.1 L382.3 971.3 L382.6 975.0 L382.8 979.1 L383.1 983.5 L383.3 988.0 L383.6 992.5 L383.8 996.8 L384.1 1000.8 L384.3 1004.6 L384.6 1008.4 L384.8 1012.1 L385.1 1015.8 L385.3 1019.3 L385.6 1022.6 L385.8 1025.7 L386.1 1028.5 L386.3 1031.2 L386.6 1033.7 L386.8 1036.0 L387.1 1038.2 L387.3 1040.4 L387.6 1042.4 L387.8 1044.4 L388.1 1046.4 L388.3 1048.3 L388.6 1050.1 L388.8 1051.8 L389.1 1053.4 L389.3 1055.1 L389.6 1056.6 L389.8 1058.2 L390.1 1059.8 L390.3 1061.4 L390.6 1063.0 L390.8 1064.6 L391.1 1066.3 L391.3 1068.0 L391.6 1069.8 L391.8 1071.5 L392.1 1073.3 L392.3 1075.1 L392.6 1076.9 L392.8 1078.7 L393.1 1080.5 L393.3 1082.4 L393.6 1084.3 L393.8 1086.2 L394.1 1088.2 L394.3 1090.1 L394.6 1092.2 L394.8 1094.3 L395.1 1096.4 L395.3 1098.7 L395.6 1101.0 L395.8 1103.3 L396.1 1105.7 L396.3 1108.2 L396.6 1110.8 L396.8 1113.3 L397.1 1115.9 L397.3 1118.6 L397.6 1121.2 L397.8 1123.9 L398.1 1126.5 L398.3 1129.2 L398.6 1132.0 L398.8 1134.7 L399.1 1137.5 L399.3 1140.4 L399.6 1143.2 L399.8 1146.1 L400.1 1149.1 L400.3 1152.0 L400.6 1155.0 L400.8 1158.0 L401.1 1161.1 L401.3 1164.3 L401.6 1167.5 L401.8 1170.8 L402.1 1174.1 L402.3 1177.4 L402.6 1180.7 L402.8 1183.9 L403.1 1187.0 L403.3 1190.0 L403.6 1192.9 L403.8 1195.8 L404.1 1198.7 L404.3 1201.5 L404.6 1204.3 L404.8 1207.0 L405.1 1209.7 L405.3 1212.3 L405.6 1214.8 L405.8 1217.2 L406.1 1219.5 L406.3 1221.8 L406.6 1224.0 L406.8 1226.1 L407.1 1228.2 L407.3 1230.2 L407.6 1232.2 L407.8 1234.1 L408.1 1236.0 L408.3 1237.8 L408.6 1239.6 L408.8 1241.4 L409.1 1243.1 L409.3 1244.7 L409.6 1246.3 L409.8 1247.9 L410.1 1249.3 L410.3 1250.8 L410.6 1252.1 L410.8 1253.5 L411.1 1254.8 L411.3 1256.1 L411.6 1257.4 L411.8 1258.6 L412.1 1259.9 L412.3 1261.1 L412.6 1262.4 L412.8 1263.7 L413.1 1265.0 L413.3 1266.3 L413.6 1267.7 L413.8 1269.1 L414.1 1270.5 L414.3 1271.9 L414.6 1273.3 L414.8 1274.7 L415.1 1276.1 L415.3 1277.5 L415.6 1279.0 L415.8 1280.5 L416.1 1282.0 L416.3 1283.5 L416.6 1285.1 L416.8 1286.7 L417.1 1288.3 L417.3 1290.4 L417.6 1292.7 L417.8 1295.3 L418.1 1297.8 L418.3 1300.1 L418.6 1302.0 L418.8 1303.4 L419.1 1304.0 L419.3 1303.0 L419.6 1299.5 L419.8 1293.9 L420.1 1286.9 L420.3 1279.2 L420.6 1271.5 L420.8 1263.3 L421.1 1253.1 L421.3 1241.7 L421.6 1229.6 L421.8 1217.5 L422.1 1206.2 L422.3 1196.2 L422.6 1187.1 L422.8 1178.6 L423.1 1170.5 L423.3 1162.4 L423.6 1154.1 L423.8 1145.4 L424.1 1136.0 L424.3 1125.8 L424.6 1114.9 L424.8 1103.3 L425.1 1091.0 L425.3 1078.1 L425.6 1064.4 L425.8 1050.0 L426.1 1034.3 L426.3 1017.2 L426.6 998.9 L426.8 980.1 L427.1 961.2 L427.3 942.6 L427.6 923.8 L427.8 904.8 L428.1 885.5 L428.3 865.9 L428.6 846.0 L428.8 825.4 L429.1 804.2 L429.3 783.0 L429.6 762.2 L429.8 742.0 L430.1 721.7 L430.3 701.6 L430.6 682.1 L430.8 663.6 L431.1 646.8 L431.3 631.2 L431.6 616.5 L431.8 602.5 L432.1 589.1 L432.3 575.8 L432.6 562.6 L432.8 549.4 L433.1 536.1 L433.3 523.0 L433.6 510.1 L433.8 497.4 L434.1 485.2 L434.3 473.4 L434.6 462.2 L434.8 451.5 L435.1 441.1 L435.3 430.9 L435.6 421.1 L435.8 411.5 L436.1 402.3 L436.3 393.3 L436.6 384.7 L436.8 376.4 L437.1 368.4 L437.3 360.7 L437.6 353.1 L437.8 345.7 L438.1 338.6 L438.3 331.7 L438.6 325.0 L438.8 318.5 L439.1 312.4 L439.3 306.6 L439.6 301.1 L439.8 295.8 L440.1 290.5 L440.3 285.3 L440.6 280.2 L440.8 275.3 L441.1 270.6 L441.3 266.1 L441.6 262.0 L441.8 258.2 L442.1 254.9 L442.3 252.0 L442.6 249.6 L442.8 247.3 L443.1 245.1 L443.3 243.0 L443.6 240.9 L443.8 239.1 L444.1 237.4 L444.3 235.9 L444.6 234.7 L444.8 233.8 L445.1 233.2 L445.3 233.0 L445.6 233.2 L445.8 233.9 L446.1 234.9 L446.3 236.3 L446.6 237.9 L446.8 239.9 L447.1 242.0 L447.3 244.4 L447.6 246.8 L447.8 249.4 L448.1 252.1 L448.3 254.8 L448.6 257.5 L448.8 260.3 L449.1 263.6 L449.3 267.4 L449.6 271.5 L449.8 275.8 L450.1 280.2 L450.3 284.7 L450.6 289.1 L450.8 293.4 L451.1 297.7 L451.3 302.1 L451.6 306.7 L451.8 311.5 L452.1 316.7 L452.3 322.3 L452.6 328.8 L452.8 335.9 L453.1 343.4 L453.3 351.0 L453.6 358.5 L453.8 365.9 L454.1 373.4 L454.3 381.0 L454.6 388.5 L454.8 396.2 L455.1 404.0 L455.3 411.7 L455.6 418.7 L455.8 424.9 L456.1 430.7 L456.3 436.1 L456.6 441.3 L456.8 446.3 L457.1 451.2 L457.3 456.0 L457.6 460.9 L457.8 465.6 L458.1 470.2 L458.3 474.7 L458.6 479.3 L458.8 484.0 L459.1 488.7 L459.3 493.4 L459.6 498.2 L459.8 503.2 L460.1 508.6 L460.3 514.4 L460.6 520.9 L460.8 527.9 L461.1 535.3 L461.3 542.9 L461.6 550.9 L461.8 559.9 L462.1 568.9 L462.3 577.2 L462.6 583.8 L462.8 589.6 L463.1 594.9 L463.3 599.9 L463.6 605.0 L463.8 610.1 L464.1 615.2 L464.3 620.2 L464.6 625.1 L464.8 630.1 L465.1 635.0 L465.3 640.0 L465.6 645.3 L465.8 650.6 L466.1 655.9 L466.3 661.1 L466.6 665.8 L466.8 670.0 L467.1 673.8 L467.3 677.4 L467.6 680.7 L467.8 684.0 L468.1 687.1 L468.3 690.0 L468.6 692.9 L468.8 695.8 L469.1 698.7 L469.3 701.6 L469.6 704.6 L469.8 707.5 L470.1 710.4 L470.3 713.3 L470.6 716.1 L470.8 718.7 L471.1 721.3 L471.3 723.8 L471.6 726.1 L471.8 728.3 L472.1 730.3 L472.3 732.2 L472.6 733.9 L472.8 735.5 L473.1 736.9 L473.3 738.3 L473.6 739.6 L473.8 740.8 L474.1 741.9 L474.3 742.9 L474.6 743.9 L474.8 744.8 L475.1 745.7 L475.3 746.5 L475.6 747.3 L475.8 748.0 L476.1 748.7 L476.3 749.3 L476.6 750.0 L476.8 750.6 L477.1 751.2 L477.3 751.9 L477.6 752.5 L477.8 753.1 L478.1 753.8 L478.3 754.5 L478.6 755.2 L478.8 755.9 L479.1 756.6 L479.3 757.3 L479.6 758.0 L479.8 758.7 L480.1 759.4 L480.3 760.1 L480.6 760.8 L480.8 761.5 L481.1 762.2 L481.3 762.9 L481.6 763.6 L481.8 764.4 L482.1 765.1 L482.3 765.8 L482.6 766.5 L482.8 767.2 L483.1 768.0 L483.3 768.7 L483.6 769.4 L483.8 770.1 L484.1 770.9 L484.3 771.6 L484.6 772.3 L484.8 773.1 L485.1 773.8 L485.3 774.5 L485.6 775.3 L485.8 776.0 L486.1 776.8 L486.3 777.5 L486.6 778.2 L486.8 779.0 L487.1 779.7 L487.3 780.5 L487.6 781.2 L487.8 782.0 L488.1 782.7 L488.3 783.5 L488.6 784.2 L488.8 785.0 L489.1 785.7 L489.3 786.5 L489.6 787.3 L489.8 788.0 L490.1 788.8 L490.3 789.5 L490.6 790.3 L490.8 791.1 L491.1 791.8 L491.3 792.6 L491.6 793.4 L491.8 794.2 L492.1 794.9 L492.3 795.7 L492.6 796.5 L492.8 797.2 L493.1 798.0 L493.3 798.8 L493.6 799.6 L493.8 800.4 L494.1 801.1 L494.3 801.9 L494.6 802.7 L494.8 803.5 L495.1 804.3 L495.3 805.1 L495.6 805.9 L495.8 806.6 L496.1 807.4 L496.3 808.2 L496.6 809.0 L496.8 809.8 L497.1 810.6 L497.3 811.4 L497.6 812.2 L497.8 813.0 L498.1 813.8 L498.3 814.6 L498.6 815.4 L498.8 816.2 L499.1 817.0 L499.3 817.8 L499.6 818.6 L499.8 819.4 L500.1 820.2 L500.3 821.0 L500.6 821.9 L500.8 822.7 L501.1 823.5 L501.3 824.3 L501.6 825.1 L501.8 825.9 L502.1 826.7 L502.3 827.6 L502.6 828.4 L502.8 829.2 L503.1 830.0 L503.3 830.8 L503.6 831.7 L503.8 832.5 L504.1 833.3 L504.3 834.1 L504.6 834.9 L504.8 835.8 L505.1 836.6 L505.3 837.4 L505.6 838.3 L505.8 839.1 L506.1 839.9 L506.3 840.8 L506.6 841.6 L506.8 842.4 L507.1 843.3 L507.3 844.1 L507.6 844.9 L507.8 845.8 L508.1 846.6 L508.3 847.4 L508.6 848.3 L508.8 849.1 L509.1 850.0 L509.3 850.8 L509.6 851.7 L509.8 852.5 L510.1 853.3 L510.3 854.2 L510.6 855.0 L510.8 855.9 L511.1 856.7 L511.3 857.6 L511.6 858.4 L511.8 859.3 L512.0 860.1 L512.3 861.0 L512.5 861.8 L512.8 862.7 L513.0 863.5 L513.3 864.4 L513.5 865.3 L513.8 866.1 L514.0 867.0 L514.3 867.8 L514.5 868.7 L514.8 869.5 L515.0 870.4 L515.3 871.3 L515.5 872.1 L515.8 873.0 L516.0 873.9 L516.3 874.7 L516.5 875.6 L516.8 876.4 L517.0 877.3 L517.3 878.2 L517.5 879.0 L517.8 879.9 L518.0 880.8 L518.3 881.6 L518.5 882.5 L518.8 883.4 L519.0 884.3 L519.3 885.1 L519.5 886.0 L519.8 886.9 L520.0 887.7 L520.3 888.6 L520.5 889.5 L520.8 890.4 L521.0 891.2 L521.3 892.1 L521.5 893.0 L521.8 893.9 L522.0 894.7 L522.3 895.6 L522.5 896.5 L522.8 897.4 L523.0 898.3 L523.3 899.1 L523.5 900.0 L523.8 900.9 L524.0 901.8 L524.3 902.7 L524.5 903.5 L524.8 904.4 L525.0 905.3 L525.3 906.2 L525.5 907.1 L525.8 907.9 L526.0 908.8 L526.3 909.7 L526.5 910.6 L526.8 911.5 L527.0 912.4 L527.3 913.3 L527.5 914.1 L527.8 915.0 L528.0 915.9 L528.3 916.8 L528.5 917.7 L528.8 918.6 L529.0 919.5 L529.3 920.4 L529.5 921.2 L529.8 922.1 L530.0 923.0 L530.3 923.9 L530.5 924.8 L530.8 925.7 L531.0 926.6 L531.3 927.5 L531.5 928.4 L531.8 929.3 L532.0 930.1 L532.3 931.0 L532.5 931.9 L532.8 932.8 L533.0 933.7 L533.3 934.6 L533.5 935.5 L533.8 936.4 L534.0 937.3 L534.3 938.2 L534.5 939.1 L534.8 940.0 L535.0 940.9 L535.3 941.8 L535.5 942.7 L535.8 943.5 L536.0 944.4 L536.3 945.3 L536.5 946.2 L536.8 947.1 L537.0 948.0 L537.3 948.9 L537.5 949.8 L537.8 950.7 L538.0 951.6 L538.3 952.5 L538.5 953.4 L538.8 954.3 L539.0 955.2 L539.3 956.1 L539.5 957.0 L539.8 957.9 L540.0 958.8 L540.3 959.7 L540.5 960.6 L540.8 961.5 L541.0 962.4 L541.3 963.3 L541.5 964.2 L541.8 965.1 L542.0 965.9 L542.3 966.8 L542.5 967.7 L542.8 968.6 L543.0 969.5 L543.3 970.4 L543.5 971.3 L543.8 972.2 L544.0 973.1 L544.3 974.0 L544.5 974.9 L544.8 975.8 L545.0 976.7 L545.3 977.6 L545.5 978.5 L545.8 979.4 L546.0 980.3 L546.3 981.2 L546.5 982.1 L546.8 983.0 L547.0 983.9 L547.3 984.8 L547.5 985.7 L547.8 986.6 L548.0 987.5 L548.3 988.3 L548.5 989.2 L548.8 990.1 L549.0 991.0 L549.3 991.9 L549.5 992.8 L549.8 993.7 L550.0 994.6 L550.3 995.5 L550.5 996.4 L550.8 997.3 L551.0 998.2 L551.3 999.1 L551.5 1000.0 L551.8 1000.8 L552.0 1001.7 L552.3 1002.6 L552.5 1003.5 L552.8 1004.4 L553.0 1005.3 L553.3 1006.2 L553.5 1007.1 L553.8 1008.0 L554.0 1008.9 L554.3 1009.8 L554.5 1010.6 L554.8 1011.5 L555.0 1012.4 L555.3 1013.3 L555.5 1014.2 L555.8 1015.1 L556.0 1016.0 L556.3 1016.8 L556.5 1017.7 L556.8 1018.6 L557.0 1019.5 L557.3 1020.4 L557.5 1021.3 L557.8 1022.2 L558.0 1023.0 L558.3 1023.9 L558.5 1024.8 L558.8 1025.7 L559.0 1026.6 L559.3 1027.5 L559.5 1028.3 L559.8 1029.2 L560.0 1030.1 L560.3 1031.0 L560.5 1031.9 L560.8 1032.7 L561.0 1033.6 L561.3 1034.5 L561.5 1035.4 L561.8 1036.2 L562.0 1037.1 L562.3 1038.0 L562.5 1038.9 L562.8 1039.7 L563.0 1040.6 L563.3 1041.5 L563.5 1042.4 L563.8 1043.2 L564.0 1044.1 L564.3 1045.0 L564.5 1045.9 L564.8 1046.7 L565.0 1047.6 L565.3 1048.5 L565.5 1049.3 L565.8 1050.2 L566.0 1051.1 L566.3 1051.9 L566.5 1052.8 L566.8 1053.7 L567.0 1054.5 L567.3 1055.4 L567.5 1056.3 L567.8 1057.1 L568.0 1058.0 L568.3 1058.8 L568.5 1059.7 L568.8 1060.6 L569.0 1061.4 L569.3 1062.3 L569.5 1063.1 L569.8 1064.0 L570.0 1064.9 L570.3 1065.7 L570.5 1066.6 L570.8 1067.4 L571.0 1068.3 L571.3 1069.1 L571.5 1070.0 L571.8 1070.8 L572.0 1071.7 L572.3 1072.5 L572.5 1073.4 L572.8 1074.2 L573.0 1075.1 L573.3 1075.9 L573.5 1076.8 L573.8 1077.6 L574.0 1078.5 L574.3 1079.3 L574.5 1080.2 L574.8 1081.0 L575.0 1081.9 L575.3 1082.7 L575.5 1083.5 L575.8 1084.4 L576.0 1085.2 L576.3 1086.1 L576.5 1086.9 L576.8 1087.7 L577.0 1088.6 L577.3 1089.4 L577.5 1090.2 L577.8 1091.1 L578.0 1091.9 L578.3 1092.7 L578.5 1093.6 L578.8 1094.4 L579.0 1095.2 L579.3 1096.1 L579.5 1096.9 L579.8 1097.7 L580.0 1098.5 L580.3 1099.4 L580.5 1100.2 L580.8 1101.0 L581.0 1101.8 L581.3 1102.6 L581.5 1103.5 L581.8 1104.3 L582.0 1105.1 L582.3 1105.9 L582.5 1106.7 L582.8 1107.5 L583.0 1108.4 L583.3 1109.2 L583.5 1110.0 L583.8 1110.8 L584.0 1111.6 L584.3 1112.4 L584.5 1113.2 L584.8 1114.0 L585.0 1114.8 L585.3 1115.6 L585.5 1116.4 L585.8 1117.2 L586.0 1118.0 L586.3 1118.8 L586.5 1119.6 L586.8 1120.4 L587.0 1121.2 L587.3 1122.0 L587.5 1122.8 L587.8 1123.6 L588.0 1124.4 L588.3 1125.2 L588.5 1126.0 L588.8 1126.8 L589.0 1127.6 L589.3 1128.4 L589.5 1129.2 L589.8 1129.9 L590.0 1130.7 L590.3 1131.5 L590.5 1132.3 L590.8 1133.1 L591.0 1133.8 L591.3 1134.6 L591.5 1135.4 L591.8 1136.2 L592.0 1137.0 L592.3 1137.7 L592.5 1138.5 L592.8 1139.3 L593.0 1140.0 L593.3 1140.8 L593.5 1141.6 L593.8 1142.3 L594.0 1143.1 L594.3 1143.9 L594.5 1144.6 L594.8 1145.4 L595.0 1146.2 L595.3 1146.9 L595.5 1147.7 L595.8 1148.4 L596.0 1149.2 L596.3 1149.9 L596.5 1150.7 L596.8 1151.5 L597.0 1152.2 L597.3 1153.0 L597.5 1153.7 L597.8 1154.4 L598.0 1155.2 L598.3 1155.9 L598.5 1156.7 L598.8 1157.4 L599.0 1158.2 L599.3 1158.9 L599.5 1159.6 L599.8 1160.4 L600.3 1161.8 L601.3 1164.8 L602.3 1167.7 L603.3 1170.5 L604.3 1173.4 L605.3 1176.2 L606.3 1179.0 L607.3 1181.8 L608.3 1184.6 L609.3 1187.3 L610.3 1190.1 L611.3 1192.7 L612.3 1195.4 L613.3 1198.1 L614.3 1200.7 L615.3 1203.3 L616.3 1205.8 L617.3 1208.4 L618.3 1210.9 L619.3 1213.4 L620.3 1215.8 L621.3 1218.3 L622.3 1220.7 L623.3 1223.1 L624.3 1225.4 L625.3 1227.8 L626.3 1230.1 L627.3 1232.3 L628.3 1234.6 L629.3 1236.8 L630.3 1239.0 L631.3 1241.1 L632.3 1243.3 L633.3 1245.4 L634.3 1247.4 L635.3 1249.5 L636.3 1251.5 L637.3 1253.5 L638.3 1255.4 L639.3 1257.3 L640.3 1259.2 L641.3 1261.1 L642.3 1262.9 L643.3 1264.7 L644.3 1266.5 L645.3 1268.2 L646.3 1269.9 L647.3 1271.6 L648.3 1273.2 L649.3 1274.8 L650.3 1276.4 L651.3 1277.9 L652.3 1279.4 L653.3 1280.9 L654.3 1282.4 L655.3 1283.8 L656.3 1285.2 L657.3 1286.5 L658.3 1287.8 L659.3 1289.1 L660.3 1290.4 L661.3 1291.6 L662.3 1292.8 L663.3 1293.9 L664.3 1295.0 L665.3 1296.1 L666.3 1297.2 L667.3 1298.2 L668.3 1299.2 L669.3 1300.1 L670.3 1301.1 L671.3 1301.9 L672.3 1302.8 L673.3 1303.6 L674.3 1304.4 L675.3 1305.1 L676.3 1305.8 L677.3 1306.5 L678.3 1307.2 L679.3 1307.8 L680.3 1308.4 L681.3 1308.9 L682.3 1309.4 L683.3 1309.9 L684.3 1310.3 L685.3 1310.8 L686.3 1311.1 L687.3 1311.5 L688.3 1311.8 L689.3 1312.1 L690.3 1312.3 L691.3 1312.5 L692.3 1312.7 L693.3 1312.8 L694.3 1312.9 L695.3 1313.0 L696.3 1313.1 L697.3 1313.1 L698.3 1313.0 L699.3 1313.0 L700.3 1312.9 L701.3 1312.8 L702.3 1312.6 L703.3 1312.4 L704.3 1312.2 L705.3 1311.9 L706.3 1311.7 L707.3 1311.3 L708.3 1311.0 L709.3 1310.6 L710.3 1310.2 L711.3 1309.7 L712.3 1309.3 L713.3 1308.8 L714.3 1308.2 L715.3 1307.6 L716.3 1307.0 L717.3 1306.4 L718.3 1305.7 L719.3 1305.0 L720.3 1304.3 L721.3 1303.5 L722.3 1302.7 L723.3 1301.9 L724.3 1301.1 L725.3 1300.2 L726.3 1299.3 L727.3 1298.3 L728.3 1297.4 L729.3 1296.4 L730.3 1295.4 L731.3 1294.3 L732.3 1293.2 L733.3 1292.1 L734.3 1291.0 L735.3 1289.8 L736.3 1288.6 L737.3 1287.4 L738.3 1286.1 L739.3 1284.8 L740.3 1283.5 L741.3 1282.2 L742.3 1280.8 L743.3 1279.5 L744.3 1278.0 L745.3 1276.6 L746.3 1275.1 L747.3 1273.7 L748.3 1272.1 L749.3 1270.6 L750.3 1269.0 L751.3 1267.4 L752.3 1265.8 L753.3 1264.2 L754.3 1262.5 L755.3 1260.9 L756.3 1259.1 L757.3 1257.4 L758.3 1255.7 L759.3 1253.9 L760.3 1252.1 L761.3 1250.3 L762.3 1248.4 L763.3 1246.6 L764.3 1244.7 L765.3 1242.8 L766.3 1240.9 L767.3 1238.9 L768.3 1237.0 L769.3 1235.0 L770.3 1233.0 L771.3 1230.9 L772.3 1228.9 L773.3 1226.8 L774.3 1224.8 L775.3 1222.7 L776.3 1220.6 L777.3 1218.4 L778.3 1216.3 L779.3 1214.1 L780.3 1211.9 L781.3 1209.7 L782.3 1207.5 L783.3 1205.3 L784.3 1203.1 L785.3 1200.8 L786.3 1198.5 L787.3 1196.2 L788.3 1193.9 L789.3 1191.6 L790.3 1189.3 L791.3 1187.0 L792.3 1184.6 L793.3 1182.2 L794.3 1179.9 L795.3 1177.5 L796.3 1175.1 L797.3 1172.6 L798.3 1170.2 L799.3 1167.8 L800.3 1165.3 L801.3 1162.9 L802.3 1160.4 L803.3 1158.0 L804.3 1155.5 L805.3 1153.0 L806.3 1150.5 L807.3 1148.0 L808.3 1145.5 L809.3 1142.9 L810.3 1140.4 L811.3 1137.9 L812.3 1135.3 L813.3 1132.8 L814.3 1130.2 L815.3 1127.7 L816.3 1125.1 L817.3 1122.5 L818.3 1120.0 L819.3 1117.4 L820.3 1114.8 L821.3 1112.2 L822.3 1109.6 L823.3 1107.1 L824.3 1104.5 L825.3 1101.9 L826.3 1099.3 L827.3 1096.7 L828.3 1094.1 L829.3 1091.5 L830.3 1088.9 L831.3 1086.3 L832.3 1083.7 L833.3 1081.1 L834.3 1078.5 L835.3 1075.9 L836.3 1073.3 L837.3 1070.7 L838.3 1068.1 L839.3 1065.5 L840.3 1062.9 L841.3 1060.3 L842.3 1057.7 L843.3 1055.2 L844.3 1052.6 L845.3 1050.0 L846.3 1047.5 L847.3 1044.9 L848.3 1042.3 L849.3 1039.8 L850.3 1037.2 L851.3 1034.7 L852.3 1032.2 L853.3 1029.6 L854.3 1027.1 L855.3 1024.6 L856.3 1022.1 L857.3 1019.6 L858.3 1017.1 L859.3 1014.6 L860.3 1012.2 L861.3 1009.7 L862.3 1007.2 L863.3 1004.8 L864.3 1002.4 L865.3 999.9 L866.3 997.5 L867.3 995.1 L868.3 992.7 L869.3 990.3 L870.3 988.0 L871.3 985.6 L872.3 983.2 L873.3 980.9 L874.3 978.6 L875.3 976.3 L876.3 974.0 L877.3 971.7 L878.3 969.4 L879.3 967.1 L880.3 964.9 L881.3 962.7 L882.3 960.4 L883.3 958.2 L884.3 956.0 L885.3 953.9 L886.3 951.7 L887.3 949.5 L888.3 947.4 L889.3 945.3 L890.3 943.2 L891.3 941.1 L892.3 939.0 L893.3 937.0 L894.3 935.0 L895.3 932.9 L896.3 930.9 L897.3 929.0 L898.3 927.0 L899.3 925.0 L900.3 923.1 L901.3 921.2 L902.3 919.3 L903.3 917.4 L904.3 915.6 L905.3 913.7 L906.3 911.9 L907.3 910.1 L908.3 908.3 L909.3 906.6 L910.3 904.8 L911.3 903.1 L912.3 901.4 L913.3 899.7 L914.3 898.0 L915.3 896.4 L916.3 894.8 L917.3 893.2 L918.3 891.6 L919.3 890.0 L920.3 888.5 L921.3 886.9 L922.3 885.4 L923.3 884.0 L924.3 882.5 L925.3 881.1 L926.3 879.6 L927.3 878.3 L928.3 876.9 L929.3 875.5 L930.3 874.2 L931.3 872.9 L932.3 871.6 L933.3 870.3 L934.3 869.1 L935.3 867.9 L936.3 866.7 L937.3 865.5 L938.3 864.4 L939.3 863.2 L940.3 862.1 L941.3 861.0 L942.3 860.0 L943.3 858.9 L944.3 857.9 L945.3 856.9 L946.3 855.9 L947.3 855.0 L948.3 854.1 L949.3 853.2 L950.3 852.3 L951.3 851.4 L952.3 850.6 L953.3 849.8 L954.3 849.0 L955.3 848.2 L956.3 847.5 L957.3 846.8 L958.3 846.1 L959.3 845.4 L960.3 844.7 L961.3 844.1 L962.3 843.5 L963.3 842.9 L964.3 842.4 L965.3 841.8 L966.3 841.3 L967.3 840.8 L968.3 840.4 L969.3 839.9 L970.3 839.5 L971.3 839.1 L972.3 838.7 L973.3 838.3 L974.3 838.0 L975.3 837.7 L976.3 837.4 L977.3 837.1 L978.3 836.9 L979.3 836.7 L980.3 836.5 L981.3 836.3 L982.3 836.1 L983.3 836.0 L984.3 835.9 L985.3 835.8 L986.3 835.7 L987.3 835.7 L988.3 835.7 L989.3 835.7 L990.3 835.7 L991.3 835.7 L992.3 835.8 L993.3 835.9 L994.3 836.0 L995.3 836.1 L996.3 836.2 L997.3 836.4 L998.3 836.6 L999.3 836.8 L1000.3 837.0 L1001.3 837.2 L1002.3 837.5 L1003.3 837.8 L1004.3 838.1 L1005.3 838.4 L1006.3 838.7 L1007.3 839.1 L1008.3 839.5 L1009.3 839.9 L1010.3 840.3 L1011.3 840.7 L1012.3 841.2 L1013.3 841.6 L1014.3 842.1 L1015.3 842.6 L1016.3 843.2 L1017.3 843.7 L1018.3 844.3 L1019.3 844.9 L1020.3 845.4 L1021.3 846.1 L1022.3 846.7 L1023.3 847.3 L1024.3 848.0 L1025.3 848.7 L1026.3 849.4 L1027.3 850.1 L1028.3 850.8 L1029.3 851.5 L1030.3 852.3 L1031.3 853.1 L1032.3 853.9 L1033.3 854.7 L1034.3 855.5 L1035.3 856.3 L1036.3 857.2 L1037.3 858.0 L1038.3 858.9 L1039.3 859.8 L1040.3 860.7 L1041.3 861.6 L1042.3 862.5 L1043.3 863.4 L1044.3 864.4 L1045.3 865.4 L1046.3 866.3 L1047.3 867.3 L1048.3 868.3 L1049.3 869.3 L1050.3 870.4 L1051.3 871.4 L1052.3 872.4 L1053.3 873.5 L1054.3 874.6 L1055.3 875.6 L1056.3 876.7 L1057.3 877.8 L1058.3 878.9 L1059.3 880.0 L1060.3 881.2 L1061.3 882.3 L1062.3 883.4 L1063.3 884.6 L1064.3 885.7 L1065.3 886.9 L1066.3 888.1 L1067.3 889.3 L1068.3 890.4 L1069.3 891.6 L1070.3 892.8 L1071.3 894.1 L1072.3 895.3 L1073.3 896.5 L1074.3 897.7 L1075.3 899.0 L1076.3 900.2 L1077.3 901.4 L1078.3 902.7 L1079.3 903.9 L1080.3 905.2 L1081.3 906.5 L1082.3 907.7 L1083.3 909.0 L1084.3 910.3 L1085.3 911.6 L1086.3 912.9 L1087.3 914.1 L1088.3 915.4 L1089.3 916.7 L1090.3 918.0 L1091.3 919.3 L1092.3 920.6 L1093.3 921.9 L1094.3 923.2 L1095.3 924.5 L1096.3 925.8 L1097.3 927.1 L1098.3 928.4 L1099.3 929.7 L1100.3 931.0 L1101.3 932.3 L1102.3 933.6 L1103.3 935.0 L1104.3 936.3 L1105.3 937.6 L1106.3 938.9 L1107.3 940.2 L1108.3 941.5 L1109.3 942.8 L1110.3 944.1 L1111.3 945.4 L1112.3 946.6 L1113.3 947.9 L1114.3 949.2 L1115.3 950.5 L1116.3 951.8 L1117.3 953.1 L1118.3 954.3 L1119.3 955.6 L1120.3 956.9 L1121.3 958.1 L1122.3 959.4 L1123.3 960.7 L1124.3 961.9 L1125.3 963.1 L1126.3 964.4 L1127.3 965.6 L1128.3 966.8 L1129.3 968.1 L1130.3 969.3 L1131.3 970.5 L1132.3 971.7 L1133.3 972.9 L1134.3 974.1 L1135.3 975.3 L1136.3 976.5 L1137.3 977.6 L1138.3 978.8 L1139.3 980.0 L1140.3 981.1 L1141.3 982.2 L1142.3 983.4 L1143.3 984.5 L1144.3 985.6 L1145.3 986.7 L1146.3 987.8 L1147.3 988.9 L1148.3 990.0 L1149.3 991.1 L1150.3 992.2 L1151.3 993.2 L1152.3 994.3 L1153.3 995.3 L1154.3 996.3 L1155.3 997.4 L1156.3 998.4 L1157.3 999.4 L1158.3 1000.4 L1159.3 1001.3 L1160.3 1002.3 L1161.3 1003.3 L1162.3 1004.2 L1163.3 1005.2 L1164.3 1006.1 L1165.3 1007.0 L1166.3 1007.9 L1167.3 1008.8 L1168.3 1009.7 L1169.3 1010.6 L1170.3 1011.4 L1171.3 1012.3 L1172.3 1013.1 L1173.3 1013.9 L1174.3 1014.8 L1175.3 1015.6 L1176.3 1016.3 L1177.3 1017.1 L1178.3 1017.9 L1179.3 1018.6 L1180.3 1019.4 L1181.3 1020.1 L1182.3 1020.8 L1183.3 1021.5 L1184.3 1022.2 L1185.3 1022.9 L1186.3 1023.6 L1187.3 1024.2 L1188.3 1024.9 L1189.3 1025.5 L1190.3 1026.1 L1191.3 1026.7 L1192.3 1027.3 L1193.3 1027.9 L1194.3 1028.5 L1195.3 1029.0 L1196.3 1029.6 L1197.3 1030.1 L1198.3 1030.6 L1199.3 1031.1 L1200.3 1031.6 L1201.3 1032.1 L1202.3 1032.5 L1203.3 1033.0 L1204.3 1033.4 L1205.3 1033.9 L1206.3 1034.3 L1207.3 1034.7 L1208.3 1035.0 L1209.3 1035.4 L1210.3 1035.8 L1211.3 1036.1 L1212.3 1036.4 L1213.3 1036.8 L1214.3 1037.1 L1215.3 1037.4 L1216.3 1037.6 L1217.3 1037.9 L1218.3 1038.2 L1219.3 1038.4 L1220.3 1038.6 L1221.3 1038.8 L1222.3 1039.0 L1223.3 1039.2 L1224.3 1039.4 L1225.3 1039.6 L1226.3 1039.7 L1227.3 1039.8 L1228.3 1040.0 L1229.3 1040.1 L1230.3 1040.2 L1231.3 1040.3 L1232.3 1040.3 L1233.3 1040.4 L1234.3 1040.5 L1235.3 1040.5 L1236.3 1040.5 L1237.3 1040.5 L1238.3 1040.5 L1239.3 1040.5 L1240.3 1040.5 L1241.3 1040.5 L1242.3 1040.4 L1243.3 1040.4 L1244.3 1040.3 L1245.3 1040.2 L1246.3 1040.1 L1247.3 1040.0 L1248.3 1039.9 L1249.3 1039.8 L1250.3 1039.6 L1251.3 1039.5 L1252.3 1039.3 L1253.3 1039.2 L1254.3 1039.0 L1255.3 1038.8 L1256.3 1038.6 L1257.3 1038.4 L1258.3 1038.2 L1259.3 1037.9 L1260.3 1037.7 L1261.3 1037.4 L1262.3 1037.2 L1263.3 1036.9 L1264.3 1036.6 L1265.3 1036.3 L1266.3 1036.1 L1267.3 1035.7 L1268.3 1035.4 L1269.3 1035.1 L1270.3 1034.8 L1271.3 1034.4 L1272.3 1034.1 L1273.3 1033.7 L1274.3 1033.4 L1275.3 1033.0 L1276.3 1032.6 L1277.3 1032.2 L1278.3 1031.8 L1279.3 1031.4 L1280.3 1031.0 L1281.3 1030.6 L1282.3 1030.2 L1283.3 1029.7 L1284.3 1029.3 L1285.3 1028.9 L1286.3 1028.4 L1287.3 1027.9 L1288.3 1027.5 L1289.3 1027.0 L1290.3 1026.5 L1291.3 1026.1 L1292.3 1025.6 L1293.3 1025.1 L1294.3 1024.6 L1295.3 1024.1 L1296.3 1023.6 L1297.3 1023.1 L1298.3 1022.6 L1299.3 1022.1 L1300.3 1021.5 L1301.3 1021.0 L1302.3 1020.5 L1303.3 1020.0 L1304.3 1019.4 L1305.3 1018.9 L1306.3 1018.3 L1307.3 1017.8 L1308.3 1017.2 L1309.3 1016.7 L1310.3 1016.1 L1311.3 1015.6 L1312.3 1015.0 L1313.3 1014.5 L1314.3 1013.9 L1315.3 1013.4 L1316.3 1012.8 L1317.3 1012.2 L1318.3 1011.7 L1319.3 1011.1 L1320.3 1010.6 L1321.3 1010.0 L1322.3 1009.4 L1323.3 1008.9 L1324.3 1008.3 L1325.3 1007.7 L1326.3 1007.2 L1327.3 1006.6 L1328.3 1006.1 L1329.3 1005.5 L1330.3 1004.9 L1331.3 1004.4 L1332.3 1003.8 L1333.3 1003.3 L1334.3 1002.7 L1335.3 1002.2 L1336.3 1001.6 L1337.3 1001.1 L1338.3 1000.5 L1339.3 1000.0 L1340.3 999.5 L1341.3 998.9 L1342.3 998.4 L1343.3 997.9 L1344.3 997.4 L1345.3 996.8 L1346.3 996.3 L1347.3 995.8 L1348.3 995.3 L1349.3 994.8 L1350.3 994.3 L1351.3 993.8 L1352.3 993.4 L1353.3 992.9 L1354.3 992.4 L1355.3 991.9 L1356.3 991.5 L1357.3 991.0 L1358.3 990.6 L1359.3 990.1 L1360.3 989.7 L1361.3 989.2 L1362.3 988.8 L1363.3 988.4 L1364.3 988.0 L1365.3 987.6 L1366.3 987.2 L1367.3 986.8 L1368.3 986.4 L1369.3 986.1 L1370.3 985.7 L1371.3 985.3 L1372.3 985.0 L1373.3 984.6 L1374.3 984.3 L1375.3 984.0 L1376.3 983.7 L1377.3 983.4 L1378.3 983.1 L1379.3 982.8 L1380.3 982.5 L1381.3 982.2 L1382.3 982.0 L1383.3 981.7 L1384.3 981.5 L1385.3 981.2 L1386.3 981.0 L1387.3 980.8 L1388.3 980.6 L1389.3 980.4 L1390.3 980.2 L1391.3 980.1 L1392.3 979.9 L1393.3 979.8 L1394.3 979.6 L1395.3 979.5 L1396.3 979.4 L1397.3 979.3 L1398.3 979.2 L1399.3 979.1 L1400.3 979.0 L1401.3 979.0 L1402.3 978.9 L1403.3 978.9 L1404.3 978.9 L1405.3 978.9 L1406.3 978.9 L1407.3 978.9 L1408.3 978.9 L1409.3 978.9 L1410.3 979.0 L1411.3 979.1 L1412.3 979.1 L1413.3 979.2 L1414.3 979.3 L1415.3 979.4 L1416.3 979.5 L1417.3 979.7 L1418.3 979.8 L1419.3 980.0 L1420.3 980.2 L1421.3 980.4 L1422.3 980.6 L1423.3 980.8 L1424.3 981.0 L1425.3 981.2 L1426.3 981.5 L1427.3 981.8 L1428.3 982.0 L1429.3 982.3 L1430.3 982.6 L1431.3 982.9 L1432.3 983.3 L1433.3 983.6 L1434.3 984.0 L1435.3 984.3 L1436.3 984.7 L1437.3 985.1 L1438.3 985.5 L1439.3 986.0 L1440.3 986.4 L1441.3 986.8 L1442.3 987.3 L1443.3 987.8 L1444.3 988.3 L1445.3 988.8 L1446.3 989.3 L1447.3 989.8 L1448.3 990.3 L1449.3 990.9 L1450.3 991.5 L1451.3 992.0 L1452.3 992.6 L1453.3 993.2 L1454.3 993.9 L1455.3 994.5 L1456.3 995.1 L1457.3 995.8 L1458.3 996.5 L1459.3 997.1 L1460.3 997.8 L1461.3 998.5 L1462.3 999.2 L1463.3 1000.0 L1464.3 1000.7 L1465.3 1001.5 L1466.3 1002.2 L1467.3 1003.0 L1468.3 1003.8 L1469.3 1004.6 L1470.3 1005.4 L1471.3 1006.3 L1472.3 1007.1 L1473.3 1007.9 L1474.3 1008.8 L1475.3 1009.7 L1476.3 1010.6 L1477.3 1011.5 L1478.3 1012.4 L1479.3 1013.3 L1480.3 1014.2 L1481.3 1015.1 L1482.3 1016.1 L1483.3 1017.0 L1484.3 1018.0 L1485.3 1019.0 L1486.3 1020.0 L1487.3 1021.0 L1488.3 1022.0 L1489.3 1023.0 L1490.3 1024.0 L1491.3 1025.1 L1492.3 1026.1 L1493.3 1027.2 L1494.3 1028.3 L1495.3 1029.3 L1496.3 1030.4 L1497.3 1031.5 L1498.3 1032.6 L1499.3 1033.7 L1500.3 1034.8 L1501.3 1036.0 L1502.3 1037.1 L1503.3 1038.2 L1504.3 1039.4 L1505.3 1040.6 L1506.3 1041.7 L1507.3 1042.9 L1508.3 1044.1 L1509.3 1045.3 L1510.3 1046.4 L1511.3 1047.6 L1512.3 1048.8 L1513.3 1050.1 L1514.3 1051.3 L1515.3 1052.5 L1516.3 1053.7 L1517.3 1055.0 L1518.3 1056.2 L1519.3 1057.4 L1520.3 1058.7 L1521.3 1059.9 L1522.3 1061.2 L1523.3 1062.5 L1524.3 1063.7 L1525.3 1065.0 L1526.3 1066.3 L1527.3 1067.6 L1528.3 1068.8 L1529.3 1070.1 L1530.3 1071.4 L1531.3 1072.7 L1532.3 1074.0 L1533.3 1075.3 L1534.3 1076.6 L1535.3 1077.9 L1536.3 1079.2 L1537.3 1080.5 L1538.3 1081.8 L1539.3 1083.1 L1540.3 1084.4 L1541.3 1085.7 L1542.3 1087.0 L1543.3 1088.3 L1544.3 1089.6 L1545.3 1090.9 L1546.3 1092.2 L1547.3 1093.5 L1548.3 1094.8 L1549.3 1096.1 L1550.3 1097.4 L1551.3 1098.7 L1552.3 1100.0 L1553.3 1101.3 L1554.3 1102.6 L1555.3 1103.9 L1556.3 1105.2 L1557.3 1106.5 L1558.3 1107.8 L1559.3 1109.1 L1560.3 1110.3 L1561.3 1111.6 L1562.3 1112.9 L1563.3 1114.1 L1564.3 1115.4 L1565.3 1116.7 L1566.3 1117.9 L1567.3 1119.1 L1568.3 1120.4 L1569.3 1121.6 L1570.3 1122.9 L1571.3 1124.1 L1572.3 1125.3 L1573.3 1126.5 L1574.3 1127.7 L1575.3 1128.9 L1576.3 1130.1 L1577.3 1131.3 L1578.3 1132.4 L1579.3 1133.6 L1580.3 1134.8 L1581.3 1135.9 L1582.3 1137.1 L1583.3 1138.2 L1584.3 1139.3 L1585.3 1140.4 L1586.3 1141.5 L1587.3 1142.6 L1588.3 1143.7 L1589.3 1144.8 L1590.3 1145.9 L1591.3 1146.9 L1592.3 1148.0 L1593.3 1149.0 L1594.3 1150.0 L1595.3 1151.0 L1596.3 1152.0 L1597.3 1153.0 L1598.3 1154.0 L1599.3 1155.0 L1600.3 1155.9 L1601.3 1156.8 L1602.3 1157.8 L1603.3 1158.7 L1604.3 1159.6 L1605.3 1160.5 L1606.3 1161.3 L1607.3 1162.2 L1608.3 1163.1 L1609.3 1163.9 L1610.3 1164.7 L1611.3 1165.5 L1612.3 1166.3 L1613.3 1167.1 L1614.3 1167.8 L1615.3 1168.6 L1616.3 1169.3 L1617.3 1170.0 L1618.3 1170.7 L1619.3 1171.4 L1620.3 1172.0 L1621.3 1172.7 L1622.3 1173.3 L1623.3 1173.9 L1624.3 1174.5 L1625.3 1175.1 L1626.3 1175.7 L1627.3 1176.2 L1628.3 1176.7 L1629.3 1177.2 L1630.3 1177.7 L1631.3 1178.2 L1632.3 1178.7 L1633.3 1179.1 L1634.3 1179.5 L1635.3 1179.9 L1636.3 1180.3 L1637.3 1180.6 L1638.3 1181.0 L1639.3 1181.3 L1640.3 1181.6 L1641.3 1181.9 L1642.3 1182.2 L1643.3 1182.4 L1644.3 1182.6 L1645.3 1182.8 L1646.3 1183.0 L1647.3 1183.2 L1648.3 1183.3 L1649.3 1183.4 L1650.3 1183.5 L1651.3 1183.6 L1652.3 1183.7 L1653.3 1183.7 L1654.3 1183.7 L1655.3 1183.7 L1656.3 1183.7 L1657.3 1183.7 L1658.3 1183.6 L1659.3 1183.5 L1660.3 1183.4 L1661.3 1183.3 L1662.3 1183.1 L1663.3 1182.9 L1664.3 1182.7 L1665.3 1182.5 L1666.3 1182.3 L1667.3 1182.0 L1668.3 1181.7 L1669.3 1181.4 L1670.3 1181.1 L1671.3 1180.7 L1672.3 1180.3 L1673.3 1179.9 L1674.3 1179.5 L1675.3 1179.1 L1676.3 1178.6 L1677.3 1178.1 L1678.3 1177.6 L1679.3 1177.1 L1680.3 1176.5 L1681.3 1175.9 L1682.3 1175.3 L1683.3 1174.7 L1684.3 1174.0 L1685.3 1173.4 L1686.3 1172.7 L1687.3 1171.9 L1688.3 1171.2 L1689.3 1170.4 L1690.3 1169.7 L1691.3 1168.8 L1692.3 1168.0 L1693.3 1167.2 L1694.3 1166.3 L1695.3 1165.4 L1696.3 1164.4 L1697.3 1163.5 L1698.3 1162.5 L1699.3 1161.5 L1700.3 1160.5 L1701.3 1159.5 L1702.3 1158.4 L1703.3 1157.3 L1704.3 1156.2 L1705.3 1155.1 L1706.3 1153.9 L1707.3 1152.8 L1708.3 1151.6 L1709.3 1150.4 L1710.3 1149.1 L1711.3 1147.9 L1712.3 1146.6 L1713.3 1145.3 L1714.3 1143.9 L1715.3 1142.6 L1716.3 1141.2 L1717.3 1139.8 L1718.3 1138.4 L1719.3 1137.0 L1720.3 1135.5 L1721.3 1134.0 L1722.3 1132.5 L1723.3 1131.0 L1724.3 1129.5 L1725.3 1127.9 L1726.3 1126.3 L1727.3 1124.7 L1728.3 1123.1 L1729.3 1121.4 L1730.3 1119.8 L1731.3 1118.1 L1732.3 1116.4 L1733.3 1114.7 L1734.3 1112.9 L1735.3 1111.2 L1736.3 1109.4 L1737.3 1107.6 L1738.3 1105.8 L1739.3 1103.9 L1740.3 1102.1 L1741.3 1100.2 L1742.3 1098.3 L1743.3 1096.4 L1744.3 1094.4 L1745.3 1092.5 L1746.3 1090.5 L1747.3 1088.5 L1748.3 1086.5 L1749.3 1084.5 L1750.3 1082.5 L1751.3 1080.4 L1752.3 1078.4 L1753.3 1076.3 L1754.3 1074.2 L1755.3 1072.1 L1756.3 1069.9 L1757.3 1067.8 L1758.3 1065.6 L1759.3 1063.5 L1760.3 1061.3 L1761.3 1059.1 L1762.3 1056.8 L1763.3 1054.6 L1764.3 1052.4 L1765.3 1050.1 L1766.3 1047.8 L1767.3 1045.5 L1768.3 1043.2 L1769.3 1040.9 L1770.3 1038.6 L1771.3 1036.3 L1772.3 1033.9 L1773.3 1031.5 L1774.3 1029.2 L1775.3 1026.8 L1776.3 1024.4 L1777.3 1022.0 L1778.3 1019.6 L1779.3 1017.1 L1780.3 1014.7 L1781.3 1012.3 L1782.3 1009.8 L1783.3 1007.3 L1784.3 1004.9 L1785.3 1002.4 L1786.3 999.9 L1787.3 997.4 L1788.3 994.9 L1789.3 992.4 L1790.3 989.9 L1791.3 987.3 L1792.3 984.8 L1793.3 982.3 L1794.3 979.7 L1795.3 977.2 L1796.3 974.6 L1797.3 972.1 L1798.3 969.5 L1799.3 966.9 L1800.3 964.3 L1801.3 961.8 L1802.3 959.2 L1803.3 956.6 L1804.3 954.0 L1805.3 951.4 L1806.3 948.8 L1807.3 946.2 L1808.3 943.6 L1809.3 941.0 L1810.3 938.4 L1811.3 935.8 L1812.3 933.2 L1813.3 930.6 L1814.3 928.0 L1815.3 925.4 L1816.3 922.8 L1817.3 920.2 L1818.3 917.6 L1819.3 915.1 L1820.3 912.5 L1821.3 909.9 L1822.3 907.3 L1823.3 904.7 L1824.3 902.1 L1825.3 899.5 L1826.3 897.0 L1827.3 894.4 L1828.3 891.8 L1829.3 889.3 L1830.3 886.7 L1831.3 884.2 L1832.3 881.6 L1833.3 879.1 L1834.3 876.6 L1835.3 874.0 L1836.3 871.5 L1837.3 869.0 L1838.3 866.5 L1839.3 864.0 L1840.3 861.6 L1841.3 859.1 L1842.3 856.6 L1843.3 854.2 L1844.3 851.7 L1845.3 849.3 L1846.3 846.9 L1847.3 844.4 L1848.3 842.0 L1849.3 839.7 L1850.3 837.3 L1851.3 834.9 L1852.3 832.6 L1853.3 830.2 L1854.3 827.9 L1855.3 825.6 L1856.3 823.3 L1857.3 821.0 L1858.3 818.7 L1859.3 816.4 L1860.3 814.2 L1861.3 812.0 L1862.3 809.8 L1863.3 807.6 L1864.3 805.4 L1865.3 803.2 L1866.3 801.1 L1867.3 798.9 L1868.3 796.8 L1869.3 794.7 L1870.3 792.6 L1871.3 790.6 L1872.3 788.5 L1873.3 786.5 L1874.3 784.5 L1875.3 782.5 L1876.3 780.6 L1877.3 778.6 L1878.3 776.7 L1879.3 774.8 L1880.3 772.9 L1881.3 771.0 L1882.3 769.2 L1883.3 767.4 L1884.3 765.6 L1885.3 763.8 L1886.3 762.1 L1887.3 760.3 L1888.3 758.6 L1889.3 756.9 L1890.3 755.3 L1891.3 753.6 L1892.3 752.0 L1893.3 750.4 L1894.3 748.9 L1895.3 747.3 L1896.3 745.8 L1897.3 744.3 L1898.3 742.9 L1899.3 741.4 L1900.3 740.0 L1901.3 738.6 L1902.3 737.3 L1903.3 735.9 L1904.3 734.6 L1905.3 733.3 L1906.3 732.1 L1907.3 730.9 L1908.3 729.7 L1909.3 728.5 L1910.3 727.3 L1911.3 726.2 L1912.3 725.1 L1913.3 724.1 L1914.3 723.1 L1915.3 722.1 L1916.3 721.1 L1917.3 720.2 L1918.3 719.2 L1919.3 718.4 L1920.3 717.5 L1921.3 716.7 L1922.3 715.9 L1923.3 715.1 L1924.3 714.4 L1925.3 713.7 L1926.3 713.0 L1927.3 712.4 L1928.3 711.8 L1929.3 711.2 L1930.3 710.7 L1931.3 710.2 L1932.3 709.7 L1933.3 709.2 L1934.3 708.8 L1935.3 708.4 L1936.3 708.1 L1937.3 707.8 L1938.3 707.5 L1939.3 707.2 L1940.3 707.0 L1941.3 706.8 L1942.3 706.6 L1943.3 706.5 L1944.3 706.4 L1945.3 706.4 L1945.5 706.3"/>
</g>
<g font-family="'Liberation Sans', Arial, Helvetica, sans-serif" font-size="52.5" fill="#000">
<text x="235.3" y="1453.5" text-anchor="middle">0</text>
<text x="409.0" y="1453.5" text-anchor="middle">1</text>
<text x="578.0" y="1453.5" text-anchor="middle">2</text>
<text x="750.8" y="1453.5" text-anchor="middle">3</text>
<text x="920.0" y="1453.5" text-anchor="middle">4</text>
<text x="1094.0" y="1453.5" text-anchor="middle">5</text>
<text x="1262.6" y="1453.5" text-anchor="middle">6</text>
<text x="1431.5" y="1453.5" text-anchor="middle">7</text>
<text x="1604.8" y="1453.5" text-anchor="middle">8</text>
<text x="1775.0" y="1453.5" text-anchor="middle">9</text>
<text x="1948.0" y="1453.5" text-anchor="middle">10</text>
<text x="223" y="63.5" text-anchor="end">2.5</text>
<text x="223" y="252.5" text-anchor="end">2</text>
<text x="223" y="444.8" text-anchor="end">1.5</text>
<text x="223" y="638.4" text-anchor="end">1</text>
<text x="223" y="831.5" text-anchor="end">0.5</text>
<text x="223" y="1023.3" text-anchor="end">0</text>
<text x="223" y="1216.2" text-anchor="end">-0.5</text>
<text x="223" y="1411.0" text-anchor="end">-1</text>
</g>
<g font-family="'Liberation Sans', Arial, Helvetica, sans-serif" font-size="60" fill="#000">
<text x="1085" y="1532" text-anchor="middle" font-size="59.3" letter-spacing="0.35">Time(s)</text>
<g transform="translate(67.5 0) rotate(-90)">
<text x="-1175.90" y="0" font-size="60" letter-spacing="-0.975">State</text>
<text x="-1026.80" y="0" font-size="60">x</text>
<text x="-999.00" y="25" font-size="43">i1</text>
<text x="-952.00" y="0" font-size="60" letter-spacing="-2.300">and</text>
<text x="-841.60" y="0" font-size="60" letter-spacing="-0.875">reference</text>
<text x="-581.50" y="0" font-size="60" letter-spacing="-0.930">trajectory</text>
<text x="-323.00" y="0" font-size="60">y</text>
<text x="-301.30" y="25" font-size="43">d</text>
</g>
</g>
<g fill="none" stroke-width="9" shape-rendering="crispEdges">
<path stroke="#00ffff" d="M1654 135.5 H1812"/>
<path stroke="#ff0000" stroke-dasharray="24.5 7" d="M1654 241.5 H1812"/>
<path stroke="#0000ff" stroke-dasharray="9 6.8" d="M1654 348.5 H1812"/>
<path stroke="#ff00ff" stroke-dasharray="24 7 9 7.3" d="M1654 450.5 H1812"/>
<path stroke="#000000" stroke-dasharray="24 7" d="M1654 557.5 H1812"/>
</g>
<g font-family="'Liberation Sans', Arial, Helvetica, sans-serif" font-size="59" fill="#000">
<text x="1831" y="145.0">y<tspan font-size="42.5" dx="-2" dy="26">d</tspan></text>
<text x="1831" y="251.0">x<tspan font-size="42.5" dx="-2" dy="26">11</tspan></text>
<text x="1831" y="358.0">x<tspan font-size="42.5" dx="-2" dy="26">21</tspan></text>
<text x="1831" y="460.0">x<tspan font-size="42.5" dx="-2" dy="26">31</tspan></text>
<text x="1831" y="567.0">x<tspan font-size="42.5" dx="-2" dy="26">41</tspan></text>
</g>
</svg>
</body></html>
